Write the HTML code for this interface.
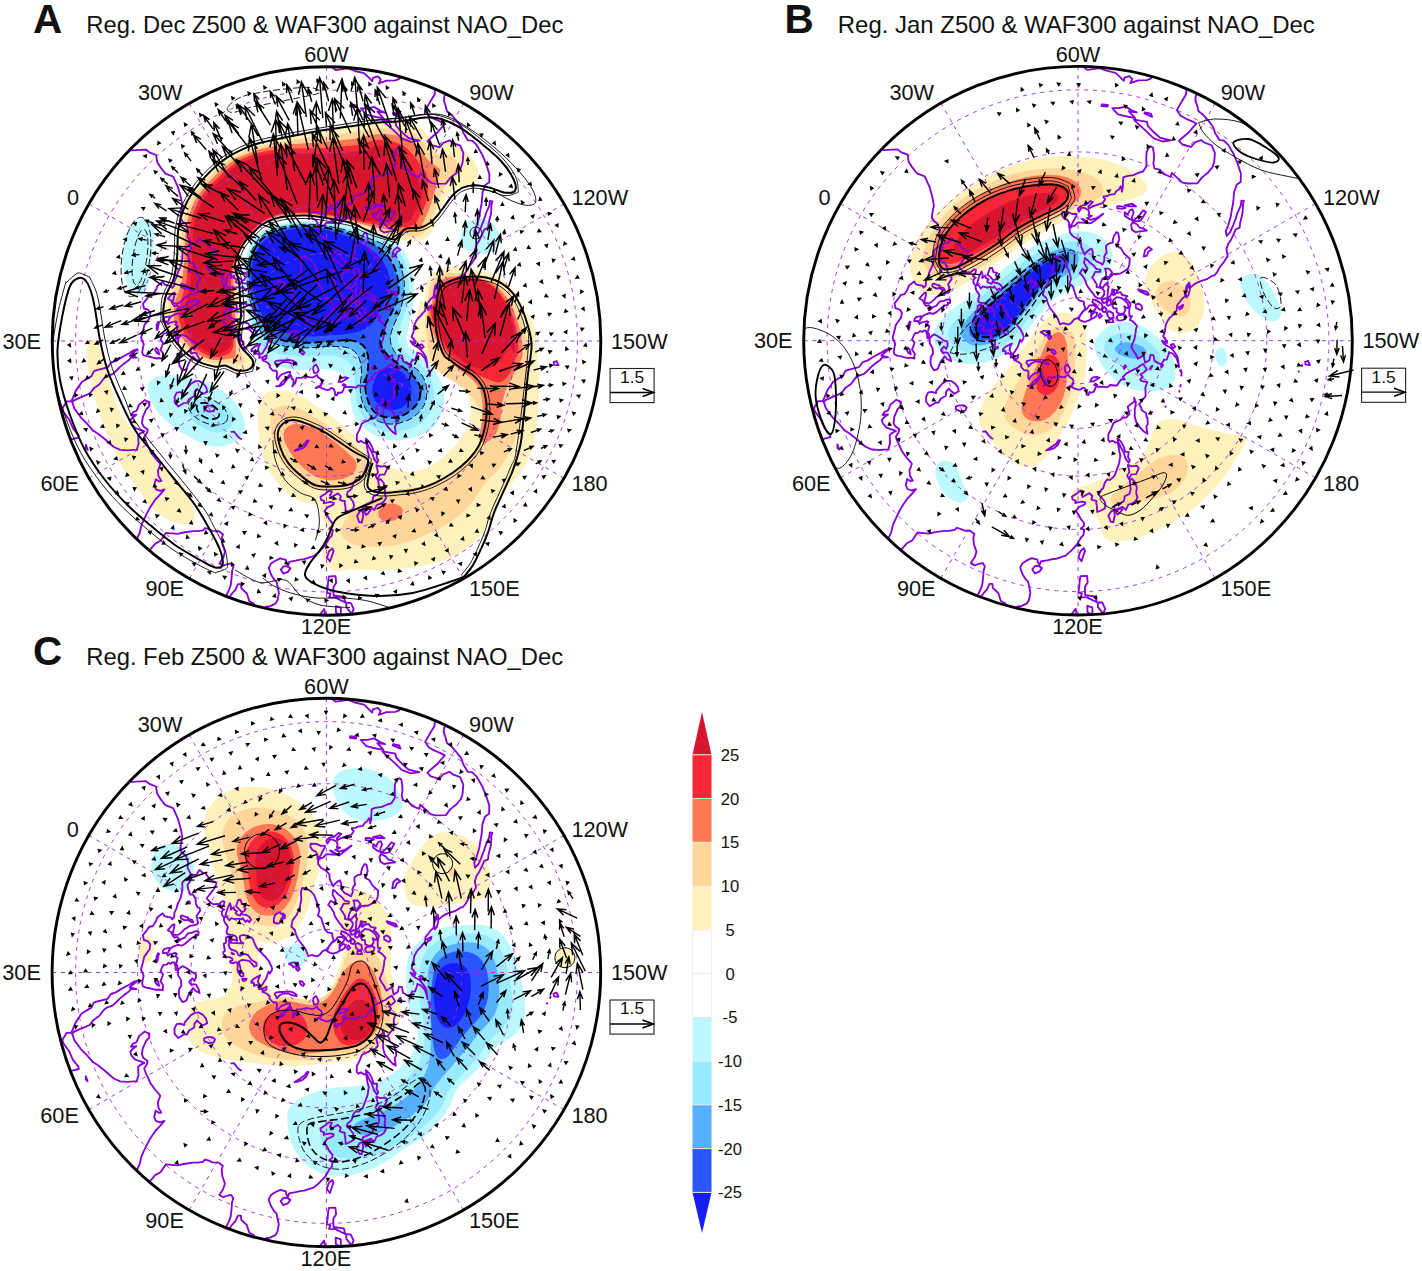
<!DOCTYPE html>
<html><head><meta charset="utf-8"><title>Reg. Z500 &amp; WAF300 against NAO_Dec</title>
<style>html,body{margin:0;padding:0;background:#fff}svg{display:block}text{font-family:'Liberation Sans', Arial, Helvetica, sans-serif}</style></head>
<body>
<svg width="1422" height="1271" viewBox="0 0 1422 1271">
<rect width="1422" height="1271" fill="#fff"/>
<text x="33" y="33.4" font-size="40.5" font-weight="bold" fill="#111">A</text><text x="86.3" y="33.4" font-size="23.2" fill="#111" textLength="477" lengthAdjust="spacingAndGlyphs">Reg. Dec Z500 &amp; WAF300 against NAO_Dec</text><text x="784.5" y="33.1" font-size="40.5" font-weight="bold" fill="#111">B</text><text x="837.8" y="33.1" font-size="23.2" fill="#111" textLength="477" lengthAdjust="spacingAndGlyphs">Reg. Jan Z500 &amp; WAF300 against NAO_Dec</text><text x="32.9" y="664.9" font-size="40.5" font-weight="bold" fill="#111">C</text><text x="86.2" y="664.9" font-size="23.2" fill="#111" textLength="477" lengthAdjust="spacingAndGlyphs">Reg. Feb Z500 &amp; WAF300 against NAO_Dec</text>
<g><clipPath id="clipA"><circle cx="326.5" cy="341" r="274.3"/></clipPath><g clip-path="url(#clipA)"><path d="M215.3 366.5L205.6 364.3L197.2 361L189.7 356L181.6 348.7L173.9 339.5L167.5 329.3L164.2 321L163.5 317.1L163.2 312.1L163.8 305.1L165.4 297.3L167.1 292.6L172.7 280.9L175.2 272.3L177.2 255.4L178.4 229.5L180.2 219.6L182.9 211.1L188.9 198.4L196.6 186.7L207.1 174.6L218.8 163.8L227.7 157.3L238.1 151.4L251 145.8L262.4 142.3L289.8 136.4L318.4 131.2L366.8 123.8L381.7 122.5L391.7 122.5L403.7 123.5L411.6 124.6L416.4 126L419.9 127.8L423.8 131L429.2 136.8L434.2 143.1L436.3 144.9L437.9 145.5L439.6 145.4L447.4 142L450.2 141.9L453.1 142.7L457.6 144.8L461.7 147.6L466.2 151.5L470.9 156.7L475.4 163.3L478.2 169.7L478.7 172.6L478.7 175.5L477 180L475.2 182.2L472.8 183.8L469 185.2L455.5 188.6L452.1 190.5L449.2 193.2L445.6 198L441.9 205L439.7 210.6L435.6 224L431.8 232.1L429.6 235.4L427.5 237.5L425.1 239.2L421.5 240.7L414.7 241.9L395.1 239.5L385.4 236.8L372.2 232.2L355.8 224.8L349.2 222.5L326.7 217.9L311.8 215.9L295.8 215.6L281 217.2L274.2 219L268.6 221.1L264.2 223.4L260.1 226.3L248.7 237.5L243.1 244.5L240.1 249.7L237.8 255.2L235.9 260.9L235.3 264.8L235.6 269.8L238.3 279.4L239.2 284.3L240.8 309.2L240.8 317.2L238.8 333.1L239.1 341L239.8 343.8L241.7 347.3L251.4 358.6L252.6 362.2L252.3 365L250.9 367.4L248.7 369.1L245.9 370L242 370.6L236.1 369.9L227.8 366.6L225 365.9Z" fill="#fff1bc"/><path d="M423.7 303L424.2 301.7L424.7 293L425.8 286.1L427.4 280.4L429.6 276L432.3 273.1L436.5 270.4L442.1 268.4L447.9 267.2L457.9 266.9L469.9 268L481.6 270.4L493.1 273.8L499.4 276.8L504.3 280.3L509.3 285.1L515 292.1L518.7 298L525.3 310.4L532.4 321.2L534.4 326.8L535.5 333.7L539.1 374.6L539.2 397.6L538.2 412.5L536.3 427.4L533.6 442.2L530.7 452.8L526.7 463L521.8 471.7L504.4 492.4L499.2 499.7L493.5 511.4L487.9 525.3L484.4 531.3L479.9 536.7L474.1 542.2L466.3 548.3L458.8 553.3L449.9 558L439.6 561.7L425 565.4L411.3 567.8L396.3 569.5L383.4 570.3L371.4 570.3L352.4 569.2L348.4 569.5L339.8 571.4L334 570.5L330.4 568.8L326.6 565.7L324.2 562.5L322.8 558.9L322.3 555L322.7 550L323.8 546.3L326.9 540.1L327.5 536.4L327 533.5L324.2 524.9L322 514.2L319.6 508.7L317.2 505.7L314.7 504.2L300.2 501.3L294 498.1L287.6 493.4L281.1 487.2L275.4 480.2L270 471.8L265.4 462.9L262.9 456.4L260.9 448.6L257.6 423.9L257.7 413.9L260.3 402.2L262.2 397.6L264.5 394.4L266.8 392.6L270.4 391.2L275.3 390.5L282.3 390.6L288.2 391.5L294 393.1L301.3 396.4L307.4 399.8L332.8 417.6L361.2 441.2L377.6 457.4L386.2 464.3L391.2 467.5L396.7 469.8L401.5 471.2L405.5 471.8L410.4 471.9L416.4 471.2L422.2 469.8L426.9 468.1L432.2 465.3L440.4 459.6L448 453.1L456.2 444.4L461.6 437.2L466.4 428.4L469.2 420.9L470.5 414.1L470.8 406.1L469.9 400.2L468.3 395.5L465.3 390.3L461.5 385.7L456 381.5L438.5 371.8L429.3 365.7L423.6 360.2L419.5 353.4L417 346.8L415.7 341L415.1 335L415.3 328.1L417.9 310.2L419.3 303.4L420.5 300.3L421.6 299.9Z" fill="#fff1bc"/><path d="M244.6 262.6L247.6 252L250.8 243.7L254.4 237.7L258.6 233.4L264.3 229.5L272.5 225.8L281.2 223.4L292 221.7L304 220.8L316 221.2L330.9 222.9L346.7 225.6L362.2 229.6L380.2 235.5L391.3 240.1L398 244.4L403.4 250.2L408.3 258.9L412 269.3L413.6 279.1L414 291.1L413.5 302.1L412 312L407 334.4L406.7 338.4L407.4 342.2L409.1 345.7L412.3 349.5L425.3 360.4L434.7 370.7L437.5 374.9L440.3 380.2L442.4 385.8L443.6 390.6L444.5 399.5L443.3 408.4L439.8 417.8L435.1 425.3L430.7 429.4L424.8 433.1L416.5 436.6L407.9 439.1L400 440.3L393 440.5L386.1 439.6L379.4 437.5L372.3 434L366.5 430.1L360.6 424.7L355.7 418.4L353.1 413L351.5 407.2L350.2 399.4L349.5 388.4L348.5 384.6L344.7 377.6L342.1 374.6L339.8 372.8L334.4 370.4L327.5 369.3L321.5 369.1L304.6 370.2L294.6 369.6L285.7 368.4L278.9 366.7L272.3 364.2L267 361.4L262.2 357.9L258.2 353.5L255.6 349.3L253.6 343.7L251.8 335.8L246.2 304.3L243.9 286.5L243.3 272.5Z" fill="#bcf9ff"/><path d="M460.4 236.5L461.4 231.6L462.9 227.9L465.1 224.6L467.2 222.6L470.6 220.5L474.3 219.1L478.2 218.4L482.2 218.5L486.1 219.5L488.7 220.8L491.9 223.2L494.6 226.1L497.3 230.3L498.8 234L499.5 237.9L499.4 240.9L498.7 243.8L497.5 246.4L495.6 248.7L492.5 251.2L489 253L486.2 253.9L479.2 254.1L474.3 253.1L470.5 251.8L464.6 248.2L462.7 245.9L461.3 243.3L460.5 240.5Z" fill="#bcf9ff"/><path d="M148 385.2L150.4 381L155.1 377.6L161.8 375.5L169.7 374.9L180.7 375.8L191.5 377.9L204 381.6L214.1 385.9L221.8 390.6L228.8 396.3L235 402.7L239.7 409.2L243.2 416.4L244.9 423.2L244.8 428.1L242.9 433.7L239.3 438.5L234.6 442.1L228.2 445L220.4 446.6L214.5 446.6L208.6 445.4L201 442.8L191 438.1L180.6 432.1L171.7 425.7L164.2 419.1L157.4 411.7L152.8 405.1L149.6 397.9L147.9 391.1Z" fill="#bcf9ff"/><path d="M122.7 255.3L123.8 246.4L125.7 237.6L128.2 231.1L131.3 225.9L135.4 221.7L140.7 218.9L145.4 218.1L148.2 218.7L149.8 219.7L151.7 221.8L152.9 224.4L153.7 228.3L154 234.3L153.7 243.3L151.5 260.1L150.5 275.1L149 283L146.7 289.6L144 293.6L140.9 295.8L137.2 296.2L133.9 294.6L130.7 290.8L127.9 285.6L125.5 279L123.6 271.2L122.7 263.3Z" fill="#bcf9ff"/><path d="M86.4 350.1L87 346.2L88 343.4L89.7 341.2L91.2 340.2L92.9 339.8L95.5 340.4L97 341.4L98.7 343.7L102.3 354L112.6 392.7L115.9 402.1L120.1 411.2L124.5 419L128.9 425.7L145.6 446.9L158.3 461L179.1 481.2L184.1 487.5L189 497.3L193.2 507.5L194.6 512.2L194.9 516.1L194.3 519L192.9 521.5L190.8 523.3L188.1 524.2L185.2 524.5L180.3 523.9L175.4 522.8L166.2 519L157.9 513.4L152.1 507.9L145.7 500.3L122.6 467.6L116.9 457.1L110 441.5L102.3 422L96.5 404.9L91.9 388.6L89 375.9L86.9 361.1Z" fill="#fff1bc"/><path d="M240.9 364.3L236.3 364.2L226.9 362.8L216.9 363.6L213.6 363.3L204.9 361L196.9 357.3L188.6 351L178.6 339.6L174.2 332.9L171.4 327.3L168.5 317.6L168.3 309.9L169.7 301.3L171 296.6L177.1 281.6L178.7 274.6L180.1 263.3L181.5 233.3L182.9 223.6L184.3 217.6L188.6 205.9L195.6 193.3L202.9 183.6L213.9 172.1L224.3 163.2L233.6 156.9L247.3 150.2L259.6 146L272.9 143.1L289.3 140.3L352.9 132.3L365.9 129.7L377.9 128.1L385.9 128.1L398.3 129.2L407.6 131L411.9 132.4L415.9 134.7L419.3 137.6L428.5 148.3L433.3 152.6L439.9 155.1L449.6 155.2L453.9 158.5L460 165.9L462 169.6L462.3 171.6L450.3 179.9L445.6 185.3L439 197.9L432.1 217.6L427.3 228.3L423.6 233.1L417.6 236.2L414.3 236.8L396.6 235.6L384.3 233L371.9 229.6L355.9 223.6L347.3 221.2L325.9 217.1L308.3 215.1L289.3 215.4L275.6 217.9L270.9 219.6L264.2 222.9L256.2 229.3L246.9 239.1L242.9 244.6L237.6 255.8L234.9 265.3L234.6 269.6L236.7 285.3L238.1 310.6L237.3 335.3L237.6 341.6L239.4 348.9L245 361.6L244.1 363.3L240.9 364.3Z" fill="#ffd699"/><path d="M427.5 305.3L429.3 289.5L430.3 285.6L432 282L435 278.1L438 275.6L441.5 273.8L446.4 272.8L458.4 272.9L470.3 273.9L480.1 276L489.6 279L496 281.9L500.9 285.3L505.1 289.6L510.4 296.8L517.4 309L523.1 322.8L527.2 338.3L529 352.2L528.8 360.2L526.6 375L523.8 401.9L520.9 417.6L516.3 437.1L513.9 443.7L510.8 450L504.7 460.3L499.7 467.8L495.8 472.3L485.2 483L475.2 497.9L466.5 508.9L460 515.1L452 521L440.9 527.8L427.4 534.4L412.6 540.4L401.1 543.9L388.3 546.2L376.3 547L364.3 546.5L354.5 544.5L349 542.2L344.9 539.4L342.4 536.5L341.2 532.9L341.7 528.1L344.7 520.7L347.9 515.6L352 511.3L357.7 507.2L368.9 500.7L377 496.7L384.4 493.7L392 491.2L398.8 489.5L421.6 486.4L427.5 485.2L436.9 481.8L448.4 475.9L455.2 471.6L461.5 466.7L467.4 461.3L471.4 456.8L474.3 452.8L477.2 447.5L482.3 434.5L483.8 426.7L483.2 418.7L480.2 410.3L475.3 401.6L470.3 395.3L464.5 389.8L455.8 383.1L444.8 376.1L440.2 372.4L434.4 365.5L430.7 358.5L428.8 352.8L427.6 346.9L425.5 326L425.3 315Z" fill="#ffd699"/><path d="M273.2 410.4L275.4 408.5L278 407.1L284.7 405.4L291.6 406L300.1 408.9L308.1 413.1L324.1 423.3L355.7 446.4L364.6 454.4L366.8 457.7L367.7 460.4L368 464.4L367.4 469.3L365.9 474L363.4 478.3L360.7 481.2L357.6 483.8L350.6 487.6L341.9 490L331 491L322 490.5L314.3 488.4L306.1 484.6L297.7 479.2L290.2 472.6L284.3 465.8L279.4 458.2L275.8 450L272.1 437.5L270.5 426.6L270.8 415.6L271.6 412.8Z" fill="#ffd699"/><path d="M246.6 262.6L249.6 252L252.6 244.6L256.3 238.8L260.6 234.6L267.3 230.3L274.6 227.1L283.3 224.8L294.2 223.2L305.2 222.5L317.2 223.1L331.1 224.8L344.9 227.6L358.3 231.4L380.1 239L388.2 242.7L393.9 246.8L399.9 253.4L402.7 257.6L404.9 262.1L407.6 271.7L409 283.6L408.9 292.6L407.6 302.5L405.7 310.3L401.2 322.5L399.3 329.2L398 336.1L398.1 341L399.7 345.7L402.5 349.7L423.8 367.9L428.1 373.4L431.6 380.6L433.1 385.3L434 390.2L434.3 396.2L433.9 401.2L433 406.1L431.6 409.9L429.8 413.4L426.8 417.4L421.9 422.3L417 425.7L411.5 428.3L404.8 430.3L397 431.7L390 432L383.1 431.1L377.4 429.1L371.3 425.7L366.8 421.8L363 417.2L359.6 411.1L357.4 405.5L356 399.7L354.7 378.7L353.6 370.8L352.2 367.1L350.7 364.6L348.8 362.3L345.8 359.7L339.5 356.8L331.6 355.6L321.6 355.4L301.6 356.5L284.7 354.9L277.8 353.5L271.2 351.3L266.7 349.2L262.6 346.3L258.7 341.8L255.9 335.5L248.7 305.3L246.5 291.5L245.4 280.5L245.4 270.5Z" fill="#99eaff"/><path d="M188.3 405.4L190 403.2L192.4 401.6L200 399.1L207.9 398.8L212.9 399.6L216.7 400.8L224.6 405.1L228.4 408.4L231 411.4L232.9 414.9L233.7 417.7L233.6 420.6L232.9 423.4L231.4 425.9L228.6 428.7L226.1 430.3L222.4 431.8L218.5 432.4L215.6 432.3L208.8 430.5L203.4 428L198.2 424.9L194.3 421.8L191.5 419L189.3 415.7L187.8 412L187.5 408.1Z" fill="#99eaff"/><path d="M218.3 360.3L211.3 359.6L202.3 356.5L195.6 352.3L188.9 346.3L182.4 338.3L177.8 330.6L174.6 321.9L173.5 313.6L173.8 308.6L175.4 300.3L180.2 287.3L182.4 277.9L184 263.9L185.5 231.3L186.7 223.6L188.9 215.1L194 202.6L198.7 194.6L208.6 182.1L219.9 171L231.6 161.6L239.9 156.8L253.6 151.2L265.6 147.8L290.6 144.3L323.3 142L352.9 138.9L360.3 137.9L370.3 134.9L378.9 133.9L385.6 134.1L393.9 135.1L401.6 136.9L408.9 139.8L414.3 144L428.9 160.7L439.9 168.9L440.3 169.9L440 171.9L433.1 197.3L428.8 210.6L421.1 226.6L418.9 228.9L414.9 231.1L401.9 231.7L386.3 229.6L372.3 226.9L352.6 221.3L338.3 218.2L321.6 215.3L307.6 214L293.6 214L280.3 215.7L274.9 217L268.3 219.7L263.6 222.1L258.9 225.6L248.8 235.6L242.4 243.9L237.2 254.6L233.9 265.3L233.1 273.3L235.2 315.6L235.9 347.3L235.6 356.6L233.9 357.9L218.3 360.3Z" fill="#ff7856"/><path d="M431 305L432 302.4L433.6 293.6L435 288.8L437.5 284.5L441.6 280.3L445.9 277.8L450.7 276.4L458.6 275.9L469.6 276.1L476.6 277.1L484.2 279.5L491.4 283L497.2 286.9L502.2 291.8L507.1 298.1L510.7 304.1L514.4 312.3L518.4 323.7L521.3 336.3L523 348.2L522.5 356.1L520.4 361.7L509.4 381.9L505.1 392.1L502.6 401.8L500.2 420.6L497.2 431.2L495.3 434.7L493.5 437L490.6 439.7L487.2 441.7L484.4 442.5L481.8 442.2L480.5 441.2L479.4 438.9L479.6 435.1L481.8 422.3L482.7 410.3L482.1 398.3L480.3 390.6L477.4 385.4L472.1 379.4L467.5 375.5L458.5 369.2L452 363L445 354.5L438.4 344.5L435.1 338.3L432.5 331.8L428.7 317.2L428.2 310.5L428.6 308.8Z" fill="#ff7856"/><path d="M284.5 430.4L286.2 428L289.3 425.7L292.9 424.2L296.9 423.9L301.8 424.4L307.6 425.9L313.3 428L318.7 430.7L326.3 435.5L336 442.6L345.2 450.3L353.2 457.9L355.6 461.1L356.5 463.8L356.6 466.6L355.5 470.3L352.4 474.1L348.3 476.8L342.7 479L336.8 480.1L330.8 480.4L324.9 479.6L319.1 478L312.7 475L306.9 471.1L300.3 465L295 459L289.8 451.7L285.9 444.6L283.9 439L283.5 434.1Z" fill="#ff7856"/><path d="M378.1 512.9L379.4 509.2L382 506.3L385.4 504.4L389.3 503.6L394.3 503.7L399 505.4L401.8 507.9L402.8 510.5L402.1 514.1L399 517.8L394.6 520.2L389.7 521.2L384.8 521L381.2 519.4L378.8 516.5Z" fill="#ff7856"/><path d="M248.4 262.6L251.2 253L254.2 245.7L257.5 240.7L262.5 235.8L269.3 231.6L276.6 228.5L285.4 226.3L296.3 224.7L307.3 224.3L318.3 224.9L330.1 226.6L342.9 229.4L354.3 233L377.7 241.8L384 244.9L389.6 249L395.6 255.7L399.9 263.6L403 275.2L404.3 286.1L403.6 296L401.3 306.8L399 313.4L393 327.2L391 333.9L390.4 338.8L390.8 342.7L392.8 348.4L396 353.3L400.4 357.4L417.3 369.8L421.3 374.3L424.1 379.5L425.8 384.3L426.5 388.2L426.4 397.1L425.6 401L424.2 404.7L419.7 411.3L414.6 416.1L408.7 419.8L402.2 422.3L395.4 423.7L389.4 423.9L383.5 422.9L377 420.4L372.1 417.1L368.7 413.4L365.9 409.3L363.3 403.9L361.4 398.2L360.6 393.3L360.3 387.3L361.4 370.3L360.7 364.4L359.5 359.6L357.9 355.9L355.6 352.7L353.4 350.8L349.9 348.8L345.2 347.3L338.3 346.6L327.3 346.6L307.3 347.7L288.3 346.7L281.4 345.5L274.7 343.5L270.1 341.4L266 338.6L262.1 334.2L259.4 328.9L252.9 309.9L250 299.3L248 288.5L247.1 278.5L247.2 269.5Z" fill="#56b0ff"/><path d="M219.3 357L213.6 357L206.7 354.9L200.9 351.9L194.2 346.6L187.4 338.6L182.1 329.6L179.5 321.9L178.7 315.3L179.9 304.6L185 287.6L186.6 278.9L188 263.9L188.8 236.3L190.6 222.9L194.4 210.3L198.5 201.3L203.1 193.9L211.1 184.3L222 173.6L235.6 162.6L241.6 159.2L249.6 155.8L255.9 153.6L267.6 150.7L283.6 148.8L323.6 148L352.9 145.6L361.9 144.4L371.6 140.7L378.3 139.8L385.9 140.2L394.4 141.9L401.6 144.7L407.3 148.5L414.3 156.2L426.3 172.6L428 180.3L428 191.6L425.9 202.9L423.3 209.6L416.5 222.3L415.3 223.9L412.9 225.6L408.9 226.8L402.9 227.2L382.6 225.6L368.6 223.5L338.3 217L322.3 214.3L307.6 212.9L293.6 212.9L279.9 214.6L274.6 216L267.3 219L262.9 221.4L258.3 224.9L248.2 234.9L242.1 242.9L238.8 248.9L233.4 263.3L231.5 271.9L231 281.6L231.1 303.3L233.7 330.9L233.9 338.6L233.3 346.2L231.9 349.9L229.5 353.6L224.3 355.8L219.3 357Z" fill="#f72735"/><path d="M433.5 305L434.6 302.4L436.8 292.7L439.7 287.6L442.6 284.9L445.9 282.6L450.3 280.4L455.1 278.9L460 278.1L468 277.6L473 277.8L477.9 278.7L483.6 280.7L489 283.3L493.1 286L496.8 289.4L500.7 294L505.1 300.6L509.1 307.6L512.1 313.9L515.7 325.3L518 340.2L518.5 350.2L517.8 354.7L514.8 359.8L510.5 371.9L508.4 375.3L505.1 379L501.9 381.4L499.3 382.3L496.4 382.3L492.7 381.1L479.7 375.9L467.1 369.7L460.5 365.2L454.6 359.8L448.7 353L443.4 345.7L439.4 338.8L436.1 331.5L432.6 321L430.7 312.3L431.1 308.8Z" fill="#f72735"/><path d="M250.1 262.6L252.7 254L255.9 246.7L259.3 241.8L264.4 237.1L271.2 232.9L278.6 229.9L287.4 227.7L297.3 226.4L307.3 226L318.2 226.7L329.1 228.4L340.8 231.2L353.1 235.4L368.6 242.3L376.6 246.5L383 251.2L386.6 254.7L389.7 258.6L394.4 267.4L397.5 277.9L398.4 283.9L398.6 289.9L397.8 296.8L395.9 303.5L384.3 326.8L381.7 333.3L380.5 338.1L380.6 343L381.5 345.8L383.3 349.3L388.2 355.6L392.7 359.6L410.2 372.9L415 378L418.3 382.9L420.2 388.5L420.3 394.5L418.5 401.1L415.2 406.1L410.9 410.2L406 413.6L400.5 416.1L394.7 417.5L388.8 417.6L382.9 416.4L377.4 414.1L373.6 411L370.7 406.9L368.6 402.4L366.8 396.7L365.7 390.8L365.5 382.9L367.4 372.1L368.1 365.1L368.1 359.1L367.4 354.2L366.1 350.4L364.1 347.1L362 345L358.7 342.8L353.1 340.9L347.2 340.2L311.2 342.7L292.2 342L286.3 341.1L280.6 339.4L275.3 336.7L270.4 333.2L265.5 328.2L261.2 321.5L256.2 310.6L252.6 300.2L250.4 290.5L249.2 280.5L249 270.5Z" fill="#2857ff"/><path d="M215.3 353.9L209.5 352.5L204.1 350L199.2 346.5L194.3 341.5L190.1 335.9L186.8 329.8L184.6 323.2L183.9 317.2L184.9 307.3L189.3 289.9L190.7 281L191.7 267L192.7 236L193.4 229L194.7 222.1L197.7 211.6L201.7 202.4L206.6 194.8L213.7 186.4L231.1 169.8L238.2 164.4L244.4 161.2L252.8 158L260.5 155.6L268.3 153.9L284.3 152.7L294.3 152.7L319.3 153.9L348.2 152.6L364.1 150.8L367.9 149.5L373.9 146.3L378.7 145.7L385.7 146.4L392.4 148.2L397.7 151L402.3 154.8L408.8 162.4L415.1 172.6L419.8 182.5L421.7 190.2L421.7 197.2L420 203.9L413.7 214L411.3 219.3L408.8 221.6L406.1 222.3L402.1 222.5L374.1 221.7L355.2 219.3L332.6 215L318.7 212.9L305.8 211.9L291.8 212.2L278.9 214L273.1 215.7L267.6 218L263.2 220.4L259.2 223.4L249.9 232.4L243.6 240.1L238.6 248.8L230.9 268.4L228.9 276.1L228.2 286.1L228 305.1L228.8 314L231.9 331.8L232.1 338.8L231.4 343.7L229.9 347.2L226.4 350.6L220.1 353.5Z" fill="#d8152f"/><path d="M436.3 305.3L440.3 294L442.6 289.6L446.9 285.5L452.1 282.7L462.8 280L472.8 279.5L481.6 281.1L489.8 284.7L495.3 289L499.7 294.5L505.8 304.9L510.1 315L512.9 324.6L514.5 334.5L514.9 346.5L514.1 353.2L513.3 353L511 347.6L510 346.8L509 347L507.4 348.7L502.7 357.5L498.3 362.9L493.8 366.8L488.3 368.8L483.3 369.1L477.4 368.1L471.8 366L465.6 362.7L458.3 357.5L450.9 350.7L445.3 343.7L440.7 335.9L435.7 325L433.1 316.4L433.4 311.6Z" fill="#d8152f"/><path d="M252.7 262.6L256.1 252.2L260.1 245.3L262.7 242.3L266.5 239L275.1 233.9L285.5 230.5L298.3 228.6L311.3 228.4L324.3 229.8L337.9 233.1L351 238.1L365.2 245.4L374.9 252.4L379.2 256.7L382.3 260.6L385 264.8L387.6 270.2L390 278.8L390.2 282.8L389.7 287.7L388.2 293.5L386.1 299.1L376.2 317.7L373.4 321.8L370.7 324.7L364.2 329.4L355.8 332.4L343 334.5L314 336.4L304 336.2L296.1 335.3L285.5 332.4L273.7 326.8L267.5 321.9L262.1 314.7L258.8 308.5L256.5 303L253.1 290.5L252 282.5L251.5 274.5L251.7 268.5Z" fill="#181cf7"/><path d="M375.3 377.8L377.2 374.3L379.7 371.3L382.1 369.6L385.8 368.3L389.7 368L393.6 368.6L398.3 370.3L402.6 372.9L405.5 375.5L408 378.6L409.9 382.2L411.3 386.9L411.8 390.9L411.4 394.8L410.2 398.6L408.2 402L405.5 404.9L402.3 407.2L398.7 408.8L394.8 409.9L391.9 410.1L387.9 409.7L384.1 408.5L380.7 406.6L377.8 403.9L375.5 400.7L373.6 397.1L372.5 393.3L372.3 389.4L372.8 385.4Z" fill="#181cf7"/><g fill="none" stroke="#a030e6" stroke-width="0.95" stroke-dasharray="4 4.8"><circle cx="326.5" cy="341" r="250.9"/><circle cx="326.5" cy="341" r="188.8"/><circle cx="326.5" cy="341" r="135.4"/><circle cx="326.5" cy="341" r="87.6"/><circle cx="326.5" cy="341" r="43.1"/><path d="M88.9 203.9L250.6 297.2"/><path d="M52.2 341L238.9 341"/><path d="M88.9 478.2L250.6 384.8"/><path d="M189.4 578.6L282.7 416.9"/><path d="M326.5 615.3L326.5 428.6"/><path d="M463.6 578.6L370.3 416.9"/><path d="M564.1 478.2L402.4 384.8"/><path d="M600.8 341L414.1 341"/><path d="M564.1 203.9L402.4 297.2"/><path d="M463.6 103.4L370.3 265.1"/><path d="M326.5 66.7L326.5 253.4"/><path d="M189.3 103.4L282.7 265.1"/><path d="M250.6 297.2L326.5 341"/><path d="M282.7 416.9L326.5 341"/><path d="M402.4 384.8L326.5 341"/><path d="M370.3 265.1L326.5 341"/></g><path d="M125.7 150.4L133.2 150.4L136.2 150.1L146.2 149.7L149.4 152.4L156.1 155L157.2 162L160.8 167.7L165.4 173.6L173.2 176.6L178.1 187.4L181 198.1L182.4 205.7L180.8 213.9L180.4 218.4L182.4 221.4L185.8 223.8L188.3 230.7L187.6 236.4L190.8 242.4L190.2 244.5L184.6 248.9L182.4 251L182.5 255.8L182 260.9L180.6 266.7L178.1 271.8L176.4 277.3L174.4 281.4L174.4 285.3L172.3 287.9L170.8 285.9L167.9 285.5L164.7 284.7L162.7 281.7L159.9 284L157.3 286L156.2 289.6L152.9 294.5L149.1 295.5L147.3 298.3L143 303.7L144 308.5L148.3 309.9L150.4 313.1L149.7 317.7L146.6 322.1L144.4 325.1L142.9 331.4L141.1 337.8L142.2 340.7L143.8 344.2L142.8 348.4L142.2 352.3L143.1 354.8L146.2 356.1L148.9 356.5L153.1 357.7L156.8 358.5L158.9 358L163 358.8L162.8 356.8L163.3 354.1L160.5 349.7L161.8 346.8L163.1 343L160.6 339.6L162.5 335.3L163.6 333.3L166.5 333.2L168.7 331.3L170.8 332.3L172.6 330.8L174.4 330.9L175.5 334.4L175.8 338.4L177.5 338.9M178.2 338.7L178.2 343.6L181.1 348.6L181.5 354.2L179.4 357.2L178.9 361.7L179.6 366.1L182.5 370.6L185.5 369.7L186.9 368.1L188 364.7L190.4 360.1L192.2 358.2L192.9 356.5L195.7 359.4L199.7 361.5L198.8 358L196.3 353.1L193.6 352.6L191.7 353.7L189.4 350.6L190 349.4L192.5 346.8L194.6 349.3L196.1 345.6L196 342.6L191.7 340.3L188.4 337.9L185.1 335.8L182.8 334.7L180.7 335.9ZM177.7 338.4L177.6 334.5L176 332.3L176.8 330.5L177.8 326.4L175.3 324.6L176.9 322.4L175.3 321.4L172.7 322.1L170.2 322.6L167.9 324.3L167.6 323.5L166.4 321.3L162.8 321.5L163.1 319.2L164.5 317.4L167.8 316.7L170 316.5L168.3 321L170.2 317.6L172.2 315.7L175.3 314.3L178.3 313.3L181.7 314.2L185.2 312.2L188.6 309.2L192.1 306.2L196.6 305L196.2 302.9L198.4 303.5L198.7 300.2L196.1 299.6L192.1 301.2L188.1 301.8L184.8 306.2L181.7 307.3L177.4 310.7L177 309.2L179.5 307.6L177.2 305.4L174.5 306.2L172.8 304.1L171.6 301.5L175.1 303.5L178.8 303.1L182.4 300.2L184.6 297.6L187.2 296.3L190.1 294.3L194.2 293.6L196.6 293.2L198.3 291.5L197.5 288.9L197.5 287L196.6 284.8L198.1 282.2L200.2 279.4L199.8 276.4L197.8 276L195.9 272.1L195.8 268L193.3 263.2L190.2 263L189.2 259.8L188.4 258.4L187.6 253.6L191.1 248.3L191 244.7L193.7 243.4L196.9 243.3L198 240.6L199.8 238.4L203 241.7L205.2 241.3L208.4 245.7L210.7 248.3L214 250.2L216.5 250.9L216.1 253.5L214.6 256.7L212.7 259.2L209.8 262.8L206.8 266.8L209.6 269.9L212.2 272.1L214.1 272.9L216.7 272.4L218.3 272.9L220.1 271.9L222.4 269.7L224.5 270.1L224 273.2L221.9 275.6L221.4 276.6L224.3 278.1L222.9 278.5L221.9 280.9L222 283.3L224.2 286.1L224 288.5L225.3 291.6L227.3 294.1L227.9 295.8L227 298.7L226.7 300.9L227.4 302.6L230.5 303.4L232.2 303.3L235.2 304.3L236.6 305.8L237.2 309.5L233.8 308L232.9 308.6L230.6 305.9L229.6 305L227.7 305.4L226.1 306.2L226.1 308.4L226.1 311.3L223.9 312.2L224.3 315.5L225 319.4L223.5 320.4L223.4 322.6L226.8 325.4L229.3 325.6L232.5 327.1L232.6 328.8L230.3 329.7L230.4 331.2L233.2 331.9L235.2 330.6L237 330.8L237.7 332.9L237.8 335.6L237.4 337.9L238.6 341.3L239.8 339.5L241 339.1L240.5 336.5L239.8 333.4L238.9 330.2L240.9 329L242.9 328.4L245.9 328.9L249.2 329.4L251.6 331.8L254.2 335.2L256.7 334.3L256.5 331.4L254 329.9L251.5 328.2L249.3 325.3L248.1 323.5L243.1 322.1L240.5 324L238.7 323.8L236.9 320.3L234.7 319.1L231.4 318L229.8 316.7L228.8 313.5L229.4 311.3L231.7 311.3L236.5 311.6L240.7 311.8L243.5 311.9L241.1 310.4L240.4 308L239.8 306L240.2 304.4L243.6 303.4L248.1 304.6L252.1 306.3L253.4 308.5L255.1 312.9L256.8 316.3L259 319.1L261.5 321.1L263.3 323.3L265.5 325.2L266.4 326.6L269.1 329.6L270.1 332.1L271.5 334.7L272.2 337L271.8 339.1L270 342L268.6 340L268 342L267.2 344.1L266.2 347.3L264.2 350.3L262.1 353.7L260 353.9L258 350.6L258.7 346.9L260.3 343.9L257.7 345.2L254 347.1L251.5 349.5L251.4 351.5L252.8 350.7L254.2 351.8L254 354.4L256.6 353.3L259.7 355.2L259.1 357.8L262 357.3L265.6 355.9L266.7 355.1L266.3 358.3L265 359.2L262.4 358.8L262.6 360.5L265.4 361.5L267.3 362.5L269.9 365L269.5 367L271.4 369.1L273 370.7L276.1 370.7L276.9 372L277 374.4L276.6 377.9L277.7 379.8L279.3 376.6L282.2 374.1L285.2 373.2L288.3 371.9L290.2 372L290 374.4L286.3 378.2L281.8 381.9L279.3 385.8L276.2 386.3L279.7 386.2L283.6 383.9L287.1 379L291.2 375.7L291.9 378.8L293.1 379.4L293.6 381L293.2 384.4L292.3 386.3L295.3 383.1L296.7 377.8L301.6 377.9L303.1 377.1L307.5 376.7L310.3 377.4L313.3 377.4L317 374.9L318.1 377.3L321.1 379.3L322 380.9L321.1 385.2L318.5 386.3L315.6 388L318.4 387.1L320.8 387.2L321.5 388.2L326.5 389.9L329.1 389.8L331.4 387.9L333.6 388.8L335 392.1L335.1 395L337.1 395.3L337.9 392.4L339.5 393L342.2 392.2L343.6 389.3L344.2 387.2L346.1 387.1L348.9 387L353.1 387.1L355.7 387.7L358.7 385.3L362.8 385.8L365.5 385.8L367.2 383.1L369.6 379.8L373.3 379.6L371.3 377.3L375 373.7L379.2 371.5L382.6 369.6L385.5 368.5L388.7 366.1L391.7 364.3L394.5 368.5L395.2 370.1L392.5 372.5L388.9 374.9L391.2 376.9L388.7 379.9L389.4 381.1L395.8 382.3L393.8 388.1L394 391.9L394.1 396.7L389.5 401.9L387.8 404.5L389.7 408.1L390.3 410.6L394.5 413.4L395.2 417.9L395.9 418.1L396.4 424.3L394.8 426.5L395.9 434.1L392.7 432.1L388.3 427.4L384.7 422.3L383.2 416.8L383.3 413.7L383.2 409.8L384.2 405.3L384.3 401.9L382.6 398.1L383.1 401.7L379.5 404.2L376.3 407.1L378 414.5L374.6 417.9L372.1 417.6L368.6 420.3L365 421.7L361.9 423.5L359.6 429.4L356.9 434.6L356.8 440.2L358.4 442.3L360.9 440.9L364.2 443L366 442.3L366.9 446.1L367.6 451L368.9 455.7L367.6 463.8L365 470.9L362.8 476.4L358.6 480.2L355.7 479.8L353.3 483.1L351.7 488.6L347.7 492L346.8 494.9L349.5 497L353.1 501.8L354 505.3L353.4 508.7L349.5 510.8L345.7 512.3L345.4 506.5L344.7 503L345 501.2L341.3 500.5L339.8 499.6L340.9 496.3L338 493.4L331.1 497.3L330 495.2L332 491.6L329.1 490.7L325.4 493.8L320.5 496.9L321 499.7L324.3 501.2L323.7 503.3L326.5 502.6L330.4 501.9L333.8 502.8L333.4 504.6L327.4 507.3L324.4 511.2L327.4 515.6L329.3 519.3L332.5 523.3L332.6 526.3L329.4 528.6L332.8 530.1L331.9 535.5L329.6 537.8L325.1 545.3L319.5 551.2L314.1 555.9L304.3 559.2L301.6 559.3L295.6 560.7L289.2 561.8L288.1 565.4L286.2 562.5L285.9 559.9L280.3 558.4L274.9 561L271 563.6L268.7 567.9L270.9 574.2L274.1 579.5L276.6 581.9L278.2 589.5L278.9 592.9L277.5 600.3L275.4 603.7L270.2 606.1L265.6 607L262.8 610.4L252.8 612.4L255.2 607L253.7 603.5L249.4 601.3L248.1 597.4L246.9 593.5L241.4 588.3L240.9 584.1L238 584.1L235.5 589.7L232.1 593.5L229.1 597.5L228.1 601.3L230 606.2M222.5 602.3L225.9 596.3L229 589.8L230.7 585.4L231.6 578.2L232.1 571.1L233.4 566.8L231.2 563.4L228.1 564L223.2 565.7L219.4 563.4L223.3 557.4L225 552L222.4 544.5L221.8 538L222.9 534.3L218.9 531.2L212.5 530.8L209 529.1L205 528.1L203.1 530.3L197.3 531.1L192.9 531.1L183.7 532.5L177.4 533.9L171.8 533.4L166.1 532.8L160.6 540.8L155.3 543.6L150.3 549.5L144.2 550.7L134.8 550.2L134.3 543.6L136.6 539L139.6 533.2L141.6 524.6L147 513.1L150.4 506.9L155.4 499.5L159.8 494.8L162.6 491.7L164.5 489.5L160.1 490.8L155.9 489.3L154.3 485.5L155.7 479.3L159.1 481.4L161.4 481L158.5 476.1L158 470.3L159.5 466.9L160.3 464L155.5 458.5L150.8 452.1L148.2 446.4L145.7 441.2L144.3 437L147.3 432.3L147.6 429.4L143.5 426.4L142 423.1L142.8 417.1L146.1 409.5L149.3 406.2L149.4 402L147.2 401.3L144.8 400L141.9 402.4L139 404.8L137.5 408.7L136.2 411L133.2 412.1L131 415.3L136.4 414.7L132.4 417.8L130.4 420.2L131.4 423.8L135 427.9L139.2 429.5L142.8 430.6L144.5 431.3L139.9 433.6L138.2 435.7L138.6 443.4L136.9 449.6L127.7 450.3L120.2 449.8L113.9 447L109.7 443.5L105.6 439.8L98.4 434.1L93.1 430.6L87.2 423.8L81.5 418.2L74.4 408.6L72.2 402L74.6 400.1L81 397.2L86.1 395.2L89.8 393.5L93.7 388.4L99.5 384.3L104 378.2L106.7 376.2L112.6 374.1L116.6 370.5L119.8 367.1L123.5 364.1L129 360L131.1 357.4L136.5 357.6L129.8 355.8L137.5 349.3L134.1 350.1L129.6 353L127.3 354.2L122 357.1L115.9 360.9L111.1 362.5L107.5 367.5L97.6 369.9L93.9 371.2L91.5 376.1L81.7 382L79.5 385.4L75.9 390.6L72.8 398.2L71.1 401.4L66.7 401.4L62.5 408.3L63.3 411.5L69.2 419.7L73 428.3L78.5 435.2L78.9 437.5L72.3 439.1L67.7 439.3M203.1 383.5L206.2 387.2L207.3 391.6L202.9 394L198.7 390.6L197.3 388.8L194.6 392.2L194.3 396L189.2 399L187.1 402.8L183.5 403.2L178.4 406.6L174.7 402.3L174.6 397.2L176.7 392.6L180.3 392.2L184.5 393.5L184.7 391.2L187.8 387.4L190.9 383.8L195.4 381.1L199.2 381.1ZM207.5 405.6L212.4 405.6L215.2 407.9L213.7 411L209 411.6L204.3 409.6L204.3 406.8ZM230.7 431.9L234.2 431.7L236.9 435.4L240.1 438.7L241.9 439M294.6 450.7L298.3 450L302.7 448.4L306.2 445.3L308.6 440.6L307.2 440.4L304.6 444L300 447.2L296.4 449.5ZM230.1 271.7L228.1 275.8L226.4 280.9L225.2 285.5L226.8 285.3L229.3 288.7L231.6 286.6L234.6 287.7L238.6 287.1L241.5 287.9L242.7 286.6L245.7 290.5L247.5 288.7L249.5 290.8L251.2 288.3L249.2 285.2L246 283.3L243.1 283.1L241.5 281.5L240.2 284.1L236.9 282.8L235.6 281.8L237.1 279.6L234.2 278.2L234 275.7L230.7 278.3L231.1 275.4ZM236.2 274.9L239 277.4L241.6 280.3L244.1 280L245.8 277.3L244.2 275.3L245.6 273.1L242 272.5L240.6 268.2L238.4 268.4L237.3 271.3ZM280.4 280.5L277 282L275 283.8L273.8 288.3L274 291L277.2 292L279.7 291.7L280.6 289.2L281.7 286.7L284.9 286.8L285 283.4L282.6 284.8L283.7 282.1L280.6 282.2ZM298.1 331.2L292.1 331.1L289.1 332.4L292.8 334.4L293.4 336L296.5 334.9L298.7 334.1ZM299 335.7L296.1 337.3L297.9 339.5L299.8 337.7ZM275.6 361.1L274.8 363L276.3 364.9L276.9 366.8L279.9 363.7L283.9 361.8L288.3 362.2L292.7 363.8L296.7 364.7L296.4 362.9L292.5 360.6L288.5 359.9L283.9 360.4L279.5 360.5ZM299.8 349.7L300.4 352.6L303 354.6L304.5 352.7L302 349.9ZM313.2 369.5L314.2 373.1L317.4 372.7L318.7 370L317.2 366.5L316 364.5L313.5 366.5ZM338.8 381.3L341.4 382L344.7 380L347.9 378L345 377.3L340.7 377.9ZM342.6 385.3L345.8 385.3L343.8 383.9ZM372.7 369.3L374.8 366.7L373.7 365.6L372.1 367.9ZM365.9 438.6L369.3 441.7L372.3 447.4L373.6 452L377.2 452.3L376.6 457.9L378.4 460.3L377.1 463.1L374.1 458.9L372.1 452.7L368.9 447L366.6 441.8ZM376.4 465.1L380.4 466.7L385.3 466L387.3 468.4L384.6 474.5L379.9 474.6L377.4 479.2L375.6 475.9L378 472.4ZM380.3 478.9L383.4 482.5L385.3 487.3L384.7 493.3L386 497.8L384.2 501.2L381.4 503.3L376.7 505.2L374.3 510.1L371 507.2L365.4 509.3L359.7 511.7L357 515.9L359.1 522L361.8 522.6L363.3 515.8L362.7 511.4L363 505.8L368.6 503.7L372.4 501.2L373.4 496.4L377.8 494.3L379.2 489.7L378.7 484.3L378.2 480.8ZM364.4 511.8L368.3 508.6L370.8 509.9L367.9 513.6L366 514.9ZM332.3 548.4L333.5 551.2L330 561.5L326.9 557.4L329.1 551.3ZM286.8 566.1L290.5 568.4L287.9 571.9L283.4 573.7L280.8 569.7L283.5 566.3ZM329 576.4L335.5 576.2L336.2 582.8L333.4 587.3L333.6 595.5L343.9 596.8L345.2 602.3L341.5 600.7L335.5 597.7L329.2 597.4L330.5 593.7L326.9 592.8L327.8 586.5L328.2 580.8ZM346.2 602.7L350.8 602.8L353.7 609.2L351.4 614.3L349.1 610.6L346.5 607.4ZM335.8 606.1L340.9 607.8L340.9 615L336 612.8ZM324.2 609.1L325.1 613L319.2 619.2L316.8 618.6ZM148.8 551.3L149.7 554L149.9 560.6M174.5 292.8L174.3 295.6L173 301.6L167.9 298.8L169.5 296.9L172.9 293.2ZM188.1 285.7L187.8 288.3L185 288.9L181 286.9L180.8 284.5L182.5 284L185.7 285.3ZM192.2 288.4L193.4 291L190.5 290.1L188.5 288.6L189.6 287.6ZM159.1 322.2L158.5 324.8L157.4 330.1L156.7 329.1L156.6 325.2L158.1 321.8ZM156.4 347.8L158 349.8L159.3 354.4L156.7 352.9L155.1 350ZM189.7 269.8L190.1 272.1L188.4 271.5L188.8 269.9ZM434.7 86.2L434.8 94.2L431.1 100.3L425.3 110.4L429.1 116L434.7 119.1L440.7 121.6L444.9 123.9L441.2 128L437.2 132.8L433.2 136L427.5 141.1L430.8 144.8L439.7 147.3L443.1 143L449.5 140.3L452.8 142.8L460.2 145.7L463.4 153.2L462.7 162.2L460.9 167.7L456.4 173L450.3 177.9L446 183.6L435.8 183.8L431.1 182.9L426.1 178.4L420.3 173.2L419.1 177.3L414.6 175.3L412.1 174.4L408.1 169.9L403.1 168.9L401.8 163.7L402.6 159L402.3 153.4L401.4 147.9L399.2 146.6L397 148.4L395 152.7L394.8 158.4L395 166.3L391.5 171.8L387.3 173L381.9 175.4L375.3 176.4L371.8 177.7L371.4 183.5L371.3 187.9L370.3 192L370 188.3L369.3 186.6L367.3 189.7L364.9 191.3L363.1 194.4L357.5 195.2L355.9 196.3L352 196.6L352.2 198L353.8 199.4L351.3 203.4L346.9 204.7L343.1 205.9L340.6 207L337.6 208.7L336.8 207L341.3 202.3L338.7 201.4L335.1 204.5L328.8 206.6L326.5 208.9L327.4 212.2L330 207.9L333.4 208.4L336.8 210.3L337.7 213L337 215.6L340.3 216.2L335.5 218.4L339.2 220.1L344.8 218.5L351.6 214L347.6 217.6L343.8 220.6L339.7 223.4L332.7 223.1L326.5 222.6L323.5 225.9L320.1 227L318.1 229L318.4 232.8L321.4 236.5L325.6 238.8L329.4 242.6L329.8 247.3L331.9 252L333.3 254.9L335 252.3L338.5 249.6L340.1 248.9L341.5 253.1L341 257.1L343.1 259.6L344.8 261.6L348.3 263.1L351.1 264.9L352.9 260.7L352.6 257.3L353.8 254.5L355.2 253.3L354.5 248.3L354.7 245.7L357.7 243.7L361.2 242.9L361.3 239.9L362.5 236L364.9 232.5L366.7 233.4L367.4 237.1L367.8 239.7L365.4 246.2L369.5 248.7L372.7 254.1L378.3 259.1L377.8 265.5L376.4 269L373.6 271.1L368.5 274L366.1 274.3L361.9 274.3L359 277.2L356.5 280L355.5 278.8L353.3 277.8L350.9 279.1L349.1 283.2L348.4 286.7L351.1 288.2L352.8 285.8L356.3 282.5L355.9 285.7L357.4 287.1L356.5 290.1L356.3 293.3L355.8 298.3L358.7 296.7L360.4 292.6L360.8 289.6L363.5 290.1L366 290.4L365 293.4L368.8 292.4L370.7 295.3L375.9 296.5L373.7 299.3L375.4 300L377.7 302.4L379.1 304.3L377.9 308.9L377.7 312.6L378 316.4L380.6 316.4L378.3 320.1L380.7 321.3L383.3 323.6L385.6 326.3L384.3 329.8L384.3 331.8L383 339.5L379.7 347.1L381.3 350.2L384.1 354.3L386.5 359.1L389.5 357.3L392.4 355L392.5 357.5L393.7 363L397.8 360.6L399.1 355.1L402.1 355.7L403 361.2L406.5 363.2L409.6 364.8L412.6 360.1L415.2 359.9L417.1 354.5L417.4 352.5L421 353.8L425 358.4L427 364.2L427.4 367.7L427 362.4L425.9 356.7L422.7 352L419.4 348.3L416.1 346.5L412.5 344L410.5 341L415.3 343.3L415.7 341L414.1 340.1L411.6 336.5L412.6 334.2L413.6 331.8L414.2 325.1L416.2 321.1L418.1 318.2L420.2 316.4L422.6 313.4L425.1 310.9L425.6 305.5L428.6 301.8L430.9 298.8L433.5 296.7L434.4 290.7L435 286.2L437.8 283L438.8 287.9L442.7 284.6L444.6 283.4L449.8 281.1L455.4 279.5L460.7 276.1L462.8 275.7L465.5 272.6L468.6 267L471.6 263.5L476.2 256.3L474.9 249.7L476.7 244.2L479.4 240.2L481.7 235.5L484.2 229.7L488.1 227.9L488.6 223.2L491.1 213.3L491.5 204.1L492.4 201.3L489.9 200.9L489.3 205.9L486 213.2L484.1 219.2L481.3 226.4L478.7 232.5L475.2 236.1L474.3 231.6L476.6 225.8L479.3 216.8L480.4 209.6L481.6 203.8L482.6 192.3L485.3 184.9L489.2 182.3L489.4 174.1L486.4 164.7L482.3 154.7L476.8 145.2L472.1 140.6L468 140.4L463.7 133.6L461.4 126.8L456.4 120.5L451.7 115.1L447 111.5L445.9 106.7L443.8 100.4L444.4 95.9L446.3 93.1M408.9 71.6L403.1 74L399.2 78.9L395.4 80.4L386.6 80.7L378.9 83.4L380.7 79.4L377.9 76.4L372.9 77.9L372.3 81.2L368.3 77.1L364.1 73.1L354.9 71L348 68.4L336 70.2L331.3 66.7L329 59.2M419.5 140.6L411.1 141.8L402.2 138.7L393.1 129.9L385 122.7L382.5 119.9L395.5 122.2L396.3 126.1L402.4 132.6L408.5 138L414.1 139.5ZM383.7 118.4L376.1 117L366.4 114.7L360.8 108.5L367.5 108.3L374.1 106.9L379.7 110.4L385.2 112.6L377.4 111.6ZM400.6 117.1L392.9 113.8L393.3 112.6L399.4 114ZM356.1 107L349.9 106.3L350.5 104.6L356.3 105.3ZM325 214.2L321 214.3L316.4 212.3L310.7 212.2L310.4 215.2L312.5 218.6L315.9 220.2L317.6 223L317.5 227.2L320.4 224.4L323.3 218.8L325 216.1ZM335.9 222L331.8 219.5L330.1 219.1L332.8 221.2ZM302.3 256.5L301.1 260.3L301.4 268.2L300 275.4L297 283L292.7 288.9L291.4 295.3L294.8 298.2L296.1 302.8L298.5 308.3L303 314L306.2 318.8L308.4 324.7L311.8 323.5L317.2 324.9L320 323L322.7 319.6L326.5 318.1L328.3 315.9L330.5 312.7L333.9 308.9L332.7 305.7L332.3 301.9L327.9 300.9L325 298L323.1 292.2L321.3 286.5L318 284L319.5 279.3L318.2 273.5L316.4 269.2L314.2 263.5L310.7 259.5L307.3 257.7ZM333.4 258.2L335.7 260L338.2 262.8L341.9 265.5L345 269.4L348.9 269.9L348.9 272.1L343.7 272.1L342.2 275.4L340.6 277.5L342.7 280.5L345.3 284.9L345 287.3L350.4 288.5L352.9 291.4L352.7 294.6L349.9 298.8L346.3 298.6L343.5 296.7L341.8 294L339.7 291.8L337.2 288.2L334.9 284.6L333.9 280.8L331 276.1L328.3 273.6L330.9 269.2L333.8 271.3L336 269.1L332.6 263.3ZM355 277L354.2 270.8L353.5 268.9L357.8 269L360.6 272.6L357.6 277.2ZM377.3 308L376.1 303.6L372.2 299.9L369.4 298.1L365.1 297.4L361.4 300.8L360.8 306.1L362.4 308.7L365.1 308.6L365.3 312.8L369.2 314.3L372.1 313.6L373.9 310.8L372.8 306.7L375.8 308.4ZM373.6 319.5L374.7 316.4L372.9 314.8L366.5 315.5L365.1 317.8L366.8 320.9L370 320.7ZM359.2 304.7L359.3 299L355.9 302L355.1 305L356.8 306.1ZM356.6 298.8L353.5 298.6L350.3 300.6L351.9 303.4L354.4 302.6ZM363.7 295L362.5 291.5L360.8 292.9L361.6 295.3ZM362.1 317.9L361.6 313.6L357.7 311.4L355.4 313.1L356.1 316.1L358.2 318.8ZM355.3 310.2L353.3 307.3L350.9 309.1L351 311.8L353.5 312.5ZM351.2 307.6L349.8 303.8L345.3 300.7L341.5 299.7L340.9 302.6L344.7 305.2L346.7 308.7L348.9 310.2ZM345.3 307.1L341.6 305.4L338 305.6L335.3 309.3L332.3 310.9L328.7 315.4L327.2 319.6L330 321.3L333.3 322.2L337.2 320.8L340.1 319.2L339.5 315.5L339.8 312.5L342.6 310.7ZM345.9 313.3L343 312.5L340.1 314.9L339.5 319.4L342.4 318.3L344.4 316.8ZM362.1 322.5L361 319.4L357.4 320.2L357.2 322.6ZM350.4 316.3L348.5 313.8L346.9 316.3L348.2 318.2ZM435 297.8L434.2 291.9L437.4 285.7L438.5 288.8L437.1 295.2ZM428.1 309.9L427.4 307.6L431.6 305.2L430.8 308.1ZM421.5 348.5L419.3 345L421.8 344.3L423.8 347ZM398.1 369.2L400.2 366.4L400.8 366.3L399 369.6ZM409.5 367.2L409.9 364.6L411.4 365L410.9 366.8ZM429.6 372.5L428.5 370.6L429.5 370.5L430.2 373.7ZM430.3 376.7L429.4 374.4M428.7 387.6L429.3 384.6M427.7 392.6L428 390.5M413.6 407.8L414.5 406.1M399.4 412.6L401.7 412.4M395.3 230.9L388.3 231.7L384.2 232.5L380.5 230.2L379.6 225.5L381 222.5L385.7 224.8L388 227.8L392.4 229.2ZM394.4 212.2L391.5 210.7L388.5 214.9L382.8 220.4L380.7 220.5L380.5 216.8L382.1 213.1L380.9 209.6L378.4 210.5L376.1 215L373.3 212.5L373.2 216L377.1 218.9L381.3 220.8L384.7 221.7L389 220.9L392 216.7ZM384.6 206.8L380.5 203.9L373.1 205.6L376.8 206.5L382.2 206.5ZM374.1 208.1L370.1 206.7L365.8 206.5L365.7 208.6L370.6 209.1ZM390.8 308.9L389.9 305.9L387 303.9L384.2 305L384.4 308.2L389 310.5ZM397.4 294.9L395.8 292.5L390.7 290.8L386.7 289.6L387.7 291.4L392 293.4L395.8 295.2ZM400.4 249.8L397.2 247.2L393.5 250.5L392.3 256.8L395.4 256L396.7 252.1ZM558.5 365.4L556.7 361.1L553.6 362.1L554.2 364.9ZM550.1 367.3L550.8 364.6M547.3 372.8L547.1 370.8M238.9 341.5L239.8 343.3L241.4 345.2L243.5 344.6L243.5 341.7L241.3 341ZM242.2 347.6L243.3 349.5L246.2 348.7L246.7 347.3L244.6 347.2ZM85.9 444.6L87.7 449.8L85.9 448.1ZM231.7 321L234.2 322.7L232.6 322.8L231.6 321.5ZM231.1 308.1L231.5 311L228.8 310L229.2 307.9ZM231.2 305.9L230.6 307.6L229.2 306.9L230 305.7Z" fill="none" stroke="#8800d6" stroke-width="1.85" stroke-linejoin="round"/><path d="M215.3 366.7C210.3 365.8 201.7 363.9 195.2 360C188.8 356 181.7 349.5 176.5 342.9C171.2 336.3 165.8 327.9 163.9 320.4C162.1 312.9 163.5 305 165.2 297.9C166.9 290.8 171.9 284.9 174 277.8C176 270.7 176.5 263.2 177.2 255.3C177.9 247.4 177.2 237.8 178.2 230.3C179.2 222.8 180.6 216.9 183.2 210.2C185.8 203.6 189.5 196.7 194 190.2C198.5 183.7 204.4 177.1 210.3 171.4C216.1 165.8 221.9 160.8 229 156.4C236.1 152 244.7 148.1 252.8 145.1C261 142.2 269.5 140.8 277.9 138.9C286.2 137 294.5 135.4 302.9 133.9C311.2 132.3 319.6 130.9 327.9 129.6C336.3 128.3 344.6 127 353 125.9C361.3 124.7 370.1 123.4 378 122.6C385.9 121.9 392.3 122.2 400.2 121.3C408 120.5 418.5 118 425.2 117.6C431.9 117.2 434.4 117.2 440.2 118.8C446.1 120.5 453.6 123.6 460.2 127.6C466.9 131.6 473.6 137.2 480.3 142.6C486.9 148.1 494.9 154.3 500.3 160.2C505.7 166 510.3 172.7 512.8 177.7C515.3 182.7 516.6 187.7 515.3 190.2C514.1 192.7 509.5 193.1 505.3 192.7C501.1 192.3 495.3 189 490.3 187.7C485.3 186.4 479.9 185.2 475.3 185.2C470.7 185.2 466.5 186 462.7 187.7C459 189.4 455.7 192.3 452.7 195.2C449.8 198.1 447.7 201.9 445.2 205.2C442.7 208.6 440.2 212.3 437.7 215.2C435.2 218.2 433.1 220.7 430.2 222.8C427.3 224.8 424.4 226.7 420.2 227.8C416 228.8 409.4 227.1 405.2 229C400.9 231 400.6 239.2 394.6 239.5C388.6 239.8 375.3 233.4 369 231C362.7 228.6 360.2 226.5 356.6 225C353.1 223.5 351.3 222.9 347.7 222C344.1 221.1 339.4 220.3 335 219.5C330.6 218.7 325.8 217.7 321 217C316.2 216.3 311.2 215.7 306 215.5C300.8 215.3 294.6 215.5 289.5 216C284.4 216.5 280 217.2 275.6 218.5C271.2 219.8 266.8 221.6 263 224C259.2 226.4 256.2 229.8 253 233C249.8 236.2 246.5 239.4 244 243C241.5 246.6 239.5 250.5 238 254.5C236.5 258.5 234.8 262.4 235 267C235.2 271.6 238.2 276.8 239 282C239.8 287.2 239.7 292.5 240 298C240.3 303.5 241.2 309.7 241 315C240.8 320.3 239.2 325 239 330C238.8 335 237.8 340 240 345C242.2 350 250.8 356 252.5 360C254.2 364 252.5 367.1 250 368.8C247.5 370.6 241.7 371.1 237.5 370.5C233.3 369.9 228.7 366.1 225 365.5C221.3 364.9 220.2 367.6 215.3 366.7Z" fill="none" stroke="#000" stroke-width="2.0"/><path d="M215.6 369.7C220.9 370.8 220.9 367.9 224.6 368.6C228.3 369.2 233.2 373 237.6 373.5C241.9 374 248.2 372.3 250.7 371.7C253.2 371.1 252 371.8 252.8 369.9C253.6 368 255 362.4 255.5 360.5C255.9 358.7 257.3 361.6 255.3 358.8C253.2 356 245.1 348.6 242.9 343.8C240.7 339 241.8 334.9 242 330.1C242.2 325.3 244 322.9 244 314.8C244 306.8 243 289.8 242 281.8C241 273.8 238.3 271.3 238.1 267C237.9 262.6 239.4 259.3 240.8 255.6C242.2 251.9 244.1 248.1 246.5 244.7C248.9 241.3 252.1 238.2 255.1 235.1C258.2 232.1 261.1 228.8 264.6 226.6C268.2 224.3 272.3 222.7 276.5 221.4C280.7 220.1 284.9 219.5 289.8 219C294.7 218.5 300.8 218.3 305.9 218.5C311 218.7 313.7 218.9 320.6 220C327.4 221 341.1 223.6 346.9 224.9C352.7 226.2 351.9 226.3 355.5 227.8C359 229.3 361.4 231.4 368.1 233.8C374.7 236.3 390.4 241.2 395.1 242.5C399.9 243.7 394.8 243.4 396.7 241.6C398.6 239.9 402.5 233.7 406.5 231.9C410.5 230.1 416.7 231.8 421 230.6C425.3 229.5 428.9 227.4 432.1 225.1C435.3 222.8 436.3 221.7 440.1 217C443.9 212.4 450.9 201.8 454.9 197.4C458.9 192.9 460.6 192 464 190.5C467.4 189 471.1 188.2 475.3 188.2C479.6 188.3 484.6 189.4 489.6 190.6C494.5 191.9 500.6 195.3 505.2 195.7C509.7 196.1 514.7 193.5 516.8 192.8C519 192.1 517.8 192 518 191.6C518.2 191.1 518.8 192.5 518.3 189.9C517.9 187.3 517.9 181.3 515.3 175.9C512.6 170.6 507.8 163.8 502.3 157.9C496.8 152 489 145.8 482.2 140.4C475.5 134.9 468.9 129.3 462 125.2C455.2 121.1 447.2 117.7 441.1 116C435 114.2 432.3 114.2 425.4 114.6C418.6 115 407.8 117.5 399.8 118.4C391.9 119.2 385.5 118.9 377.6 119.6C369.7 120.4 365.1 121 352.6 122.9C340 124.8 314.9 128.7 302.3 130.9C289.7 133.1 285.5 134.1 277.1 136C268.7 137.9 260.1 139.3 251.8 142.3C243.5 145.3 234.7 149.4 227.4 153.9C220.2 158.3 214.1 163.5 208.2 169.3C202.2 175 196.3 181.6 191.7 188.2C187.1 194.9 183.2 202.1 180.5 209C177.7 216 176.3 222.2 175.2 229.8C174.2 237.5 174.9 247.2 174.2 255C173.5 262.9 173 269.9 171 277C169 284.1 163.9 290.2 162.2 297.4C160.5 304.6 161.1 316.2 160.9 320.2C160.8 324.3 159.1 317.8 161.3 321.9C163.5 325.9 168.7 337.9 174 344.7C179.3 351.4 186.3 358 193.2 362.2C200.2 366.4 210.4 368.6 215.6 369.7Z" fill="none" stroke="#000" stroke-width="0.9"/><path d="M375.1 120.6C379.3 120.1 391 118.7 400.2 117.6C409.3 116.5 421.8 113.8 430.2 113.8C438.5 113.8 442.7 114.5 450.2 117.6C457.7 120.7 466.9 126.8 475.3 132.6C483.6 138.5 492.8 146 500.3 152.6C507.8 159.3 514.9 166.4 520.3 172.7C525.8 178.9 530.3 185.2 532.8 190.2C535.4 195.2 536.6 200.2 535.4 202.7C534.1 205.2 529.5 205.6 525.3 205.2C521.2 204.8 515.3 202.3 510.3 200.2C505.3 198.1 500.3 194.6 495.3 192.7C490.3 190.8 482.8 189.6 480.3 189" fill="none" stroke="#000" stroke-width="0.9"/><path d="M464 576.7C465.5 574.8 470 569.8 472.8 565.4C475.5 561 477.8 555.8 480.3 550.4C482.8 545 485.5 539.1 487.8 532.8C490.1 526.6 491.5 519.5 494 512.8C496.5 506.1 499.7 499.9 502.8 492.8C505.9 485.7 509.9 478.2 512.8 470.3C515.7 462.3 518.7 452.7 520.3 445.2C522 437.7 522 432.7 522.8 425.2C523.7 417.7 524.5 408.5 525.3 400.2C526.2 391.8 526.8 384.2 527.8 375.1C528.9 366 531.6 353.7 531.6 345.4C531.6 337.2 529.7 332.1 527.8 325.4C526 318.7 523.3 311.2 520.3 305.4C517.4 299.5 514.5 294.5 510.3 290.4C506.1 286.2 501.1 282.6 495.3 280.3C489.5 278 481.9 276.8 475.3 276.6C468.6 276.4 461.1 277.2 455.2 279.1C449.4 281 443.3 283.5 440.2 287.8C437.1 292.2 437.3 300 436.5 305.4C435.6 310.8 435 315 435.2 320.4C435.4 325.8 436.2 332.1 437.7 337.9C439.2 343.8 441.9 351.8 444 355.5C446.1 359.1 447.5 358.1 450.2 360.1C452.9 362.1 456.5 365.1 460.2 367.6C464 370.1 469 371.8 472.8 375.1C476.5 378.5 480.5 382.6 482.8 387.6C485.1 392.6 486.1 398.9 486.5 405.2C486.9 411.4 486.5 418.5 485.3 425.2C484 431.9 481.9 439.4 479 445.2C476.1 451.1 472.1 455.7 467.8 460.2C463.4 464.8 458.2 469 452.7 472.8C447.3 476.5 441 480.1 435.2 482.8C429.4 485.5 423.5 487.6 417.7 489C411.8 490.5 405.6 490.9 400.2 491.5C394.7 492.2 389.5 492.8 385.1 492.8C380.7 492.8 376.8 492.6 373.9 491.5C370.9 490.5 368.4 489.2 367.6 486.5C366.8 483.8 368 479.2 368.9 475.3C369.7 471.3 372 464.8 372.6 462.7" fill="none" stroke="#000" stroke-width="2.0"/><path d="M461.5 574.7C462.9 572.9 467.4 568 470 563.7C472.7 559.4 474.9 554.4 477.4 549C479.8 543.7 482.5 538 484.8 531.7C487.1 525.5 486.9 522 491.1 511.5C495.3 501.1 505.5 480.3 509.8 469.1C514.2 458 514.1 465.2 517.2 444.6C520.3 424 527.1 365.2 528.4 345.5C529.6 325.8 526.6 332.7 524.7 326.3C522.9 319.8 520.3 312.4 517.5 306.8C514.7 301.2 511.9 296.6 508 292.7C504.1 288.7 499.5 285.5 494.1 283.4C488.6 281.2 481.5 280 475.2 279.8C468.9 279.6 461.6 280.5 456.3 282.2C450.9 283.9 445.8 286 443 289.9C440.3 293.8 440.4 300.8 439.6 305.8C438.9 310.9 438.2 315.1 438.4 320.3C438.6 325.5 439.5 331.6 440.8 337.2C442.2 342.7 443.1 348.8 446.7 353.5C450.2 358.1 457.3 361.7 462 364.9C466.8 368.2 471.3 369.5 475.3 373.1C479.2 376.7 483.3 381.1 485.7 386.4C488.1 391.7 489.3 398.2 489.7 404.8C490.2 411.3 489.7 418.9 488.4 425.8C487.2 432.7 485.1 440.1 482.1 446.2C479.1 452.2 474.9 457.3 470.3 462.2C465.7 467 460.2 471.4 454.6 475.4C448.9 479.3 442.3 483 436.3 485.8C430.3 488.6 424.4 490.7 418.4 492.1C412.5 493.6 406.2 494.1 400.6 494.7C395 495.3 389.7 496 385.1 496C380.4 496 376 495.9 372.6 494.5C369.2 493.1 365.8 491.1 364.6 487.8C363.5 484.4 364.9 478.9 365.7 474.6C366.5 470.3 368.9 464 369.5 461.8" fill="none" stroke="#000" stroke-width="0.9"/><path d="M464 576.7C461.7 577.5 458.8 579 450.2 581.7C441.7 584.4 425.2 590.6 412.7 592.9C400.2 595.3 387.6 596.2 375.1 595.9C362.6 595.7 347.6 593.6 337.6 591.7C327.5 589.7 320.4 586.9 315 584.2C309.6 581.5 305.8 579 305 575.4C304.2 571.9 307.5 567.1 310 562.9C312.5 558.7 317.1 554.5 320 550.4C323 546.2 325.5 542 327.5 537.9C329.6 533.7 330.9 528.7 332.5 525.3C334.2 522 334.6 520.1 337.6 517.8C340.5 515.5 345.5 513.7 350.1 511.6C354.7 509.5 359.7 507.6 365.1 505.3C370.5 503 379.7 499 382.6 497.8" fill="none" stroke="#000" stroke-width="2.0"/><path d="M262.8 577.9C264.5 579.2 268.3 582.9 272.8 585.4C277.4 587.9 283.3 590.9 290.4 592.9C297.5 595 307.1 597.1 315.4 597.9C323.8 598.8 332.1 597.5 340.5 597.9C348.8 598.4 357.1 598.8 365.5 600.5C373.8 602.1 382.2 605.2 390.5 608C398.9 610.7 411.4 615.3 415.6 616.7" fill="none" stroke="#000" stroke-width="0.9"/><path d="M272.8 440.2C273.3 443.5 273.3 453.6 275.4 460.2C277.4 466.9 281.2 474.8 285.4 480.3C289.5 485.7 295.8 489.9 300.4 492.8C305 495.7 310 495.3 312.9 497.8C315.8 500.3 316.9 503.2 317.9 507.8C319 512.4 319.6 519.9 319.2 525.3C318.8 530.8 316 537.9 315.4 540.4" fill="none" stroke="#000" stroke-width="0.9"/><path d="M368 460.2C369.2 464 365.9 471.3 363 475.3C360.1 479.2 355.5 482.1 350.5 484C345.5 485.9 338.8 486.3 332.9 486.5C327.1 486.7 320.8 487.2 315.4 485.3C310 483.4 305 479 300.4 475.3C295.8 471.5 291.2 467.3 287.9 462.7C284.5 458.2 282 452.7 280.4 447.7C278.7 442.7 277.2 436.9 277.9 432.7C278.5 428.5 281.2 424.8 284.1 422.7C287 420.6 291 419.8 295.4 420.2C299.8 420.6 305.4 423.1 310.4 425.2C315.4 427.3 320.4 429.8 325.4 432.7C330.4 435.6 335.4 439.4 340.5 442.7C345.5 446.1 350.9 449.8 355.5 452.7C360.1 455.7 366.7 456.5 368 460.2Z" fill="none" stroke="#000" stroke-width="2.0"/><path d="M369.6 457.5C367.4 456 364.3 454.6 357.2 450C350.1 445.4 334.4 434.5 326.9 429.8C319.3 425.2 317 424.5 311.8 422.3C306.7 420.2 301 417.4 296.1 417.1C291.2 416.7 285.8 417.6 282.3 420.1C278.7 422.5 275.6 427.2 274.8 431.9C273.9 436.7 275.5 443.1 277.3 448.6C279 454 281.7 459.6 285.2 464.5C288.7 469.3 293.5 473.8 298.4 477.7C303.3 481.7 308.8 486.4 314.5 488.4C320.3 490.4 326.8 490 333.1 489.7C339.3 489.5 346.6 489 352 486.8C357.5 484.7 362.6 481.1 365.8 476.8C369 472.5 370.3 463.9 371.1 461C372 458 371.1 459.4 370.9 458.8C370.6 458.3 371.9 459 369.6 457.5Z" fill="none" stroke="#000" stroke-width="0.9"/><path d="M250.1 262.6C251.6 256.7 254.1 248.3 258.1 243.1C262.1 237.9 267.7 234.3 273.9 231.6C280 228.8 287.8 227.4 295.1 226.6C302.4 225.7 310 225.8 317.7 226.6C325.4 227.4 334 229.2 341.5 231.3C349 233.5 356.3 236.7 362.7 239.6C369.2 242.5 375.5 245.2 380.3 248.9C385.1 252.5 388.6 256.4 391.5 261.4C394.5 266.4 396.8 272.8 397.8 278.9C398.8 284.9 399 291.6 397.8 297.7C396.5 303.7 392.8 309.8 390.3 315.2C387.8 320.6 384.4 325.6 382.8 330.2C381.1 334.8 379.4 338.6 380.3 342.7C381.1 346.9 384.4 351.5 387.8 355.3C391.1 359 396.1 361.9 400.3 365.3C404.5 368.6 409.5 371.5 412.8 375.3C416.2 379 419.5 383.2 420.3 387.8C421.2 392.4 420.3 398.5 417.8 402.8C415.3 407.2 409.9 411.6 405.3 414.1C400.7 416.6 395.3 418.1 390.3 417.9C385.3 417.6 379 415.8 375.3 412.8C371.5 409.9 369.4 404.9 367.8 400.3C366.1 395.7 365.2 390.3 365.2 385.3C365.2 380.3 367.3 375.3 367.8 370.3C368.2 365.3 368.6 359.4 367.8 355.3C366.9 351.1 365.7 347.8 362.7 345.2C359.8 342.7 355.7 340.9 350.2 340.2C344.8 339.6 337.7 341.1 330.2 341.5C322.7 341.9 313.1 343 305.2 342.7C297.2 342.5 289 342.3 282.6 340.2C276.3 338.2 271.3 334.6 267.1 330.2C262.9 325.8 260.2 319.6 257.6 314C255 308.3 253 302.3 251.6 296.4C250.2 290.6 249.3 284.5 249.1 278.9C248.8 273.3 248.6 268.6 250.1 262.6Z" fill="none" stroke="#000" stroke-width="1.9" stroke-dasharray="8 3.5"/><path d="M248.3 262.6C249.9 256.4 252.5 247.1 256.6 241.6C260.7 236.1 266.4 232.6 272.9 229.8C279.3 227 287.7 225.7 295.1 224.8C302.6 224 309.7 224.1 317.7 224.8C325.6 225.6 334.8 227.3 342.7 229.3C350.6 231.4 358.2 234.4 365.2 237.1C372.3 239.8 379.9 242 385.3 245.6C390.7 249.2 394.8 253.5 397.8 258.9C400.8 264.2 402.5 272 403.6 277.6C404.6 283.3 404.6 287.2 404.1 292.7C403.5 298.1 402.2 304.4 400.3 310.2C398.4 316 394.5 322.7 392.8 327.7C391.1 332.7 389.9 336.1 390.3 340.2C390.7 344.4 392.4 349 395.3 352.8C398.2 356.5 403.6 359.4 407.8 362.8C412 366.1 417.2 368.6 420.3 372.8C423.5 377 426 382.4 426.6 387.8C427.2 393.2 426.8 400.1 424.1 405.3C421.4 410.6 415.9 416 410.3 419.1C404.7 422.2 396.5 424.3 390.3 424.1C384 423.9 377.3 421.4 372.8 417.9C368.2 414.3 364.8 407.8 362.7 402.8C360.7 397.8 360.4 393.2 360.2 387.8C360 382.4 361.9 375.7 361.5 370.3C361.1 364.9 360 359 357.7 355.3C355.4 351.5 352.3 349.2 347.7 347.8C343.1 346.3 337.3 346.5 330.2 346.5C323.1 346.5 313.5 348 305.2 347.8C296.8 347.5 287 347.1 280.1 345.2C273.2 343.4 267.8 341.3 263.6 336.5C259.4 331.7 257.4 322.9 255.1 316.5C252.7 310 250.9 303.9 249.6 297.7C248.2 291.4 247.3 284.7 247.1 278.9C246.9 273.1 246.7 268.8 248.3 262.6Z" fill="none" stroke="#000" stroke-width="0.9" stroke-dasharray="7 3"/><path d="M79 278C76.3 278.8 72.8 279.8 70 286C67.2 292.2 64.6 304.3 62.5 315C60.4 325.7 57.9 339.2 57.5 350C57.1 360.8 57.9 369.2 60 380C62.1 390.8 65.8 403.3 70 415C74.2 426.7 79.2 439.2 85 450C90.8 460.8 97.9 470.8 105 480C112.1 489.2 120 497.5 127.5 505C135 512.5 142.1 518.3 150 525C157.9 531.7 166.7 539.2 175 545C183.3 550.8 193.3 556.2 200 560C206.7 563.8 211.2 566.7 215 567.5C218.8 568.3 221.7 567.9 222.5 565C223.3 562.1 222.1 555.8 220 550C217.9 544.2 214.2 537.5 210 530C205.8 522.5 200.8 513.3 195 505C189.2 496.7 181.7 488.3 175 480C168.3 471.7 161.7 463.3 155 455C148.3 446.7 140.8 439.2 135 430C129.2 420.8 124.6 410 120 400C115.4 390 110.8 380 107.5 370C104.2 360 101.9 349.2 100 340C98.1 330.8 97.3 322.5 96 315C94.7 307.5 93.7 300.7 92 295C90.3 289.3 88.2 283.8 86 281C83.8 278.2 81.7 277.2 79 278Z" fill="none" stroke="#000" stroke-width="2.0"/><path d="M81 273.4C79.3 272.8 79.5 272.9 78.7 273C77.8 273.1 78 272.4 76 274C74 275.5 68.5 280.5 66.7 282.3C64.9 284 66.8 278.9 65.3 284.3C63.8 289.6 59.7 303.4 57.6 314.3C55.4 325.2 52.9 338.7 52.5 349.9C52.1 361 53 370.2 55.2 381.4C57.3 392.6 61.2 405.1 65.4 417C69.6 428.8 74.6 441.3 80.6 452.4C86.6 463.4 94.1 474 101.3 483.3C108.5 492.7 116.2 500.8 123.8 508.3C131.4 515.9 138.9 522.1 146.9 528.9C154.9 535.7 163.4 543 171.9 548.9C180.4 554.8 190.7 560.6 197.8 564.5C204.8 568.4 211.1 571.1 214.2 572.4C217.2 573.7 214.4 572.9 216.1 572.4C217.8 571.9 222.8 570.3 224.6 569.6C226.3 568.8 226 568.7 226.5 568C227 567.3 227.8 568.4 227.5 565.2C227.2 562 227 555 224.8 548.7C222.6 542.4 218.6 535.2 214.3 527.4C210 519.6 211.4 518.6 198.9 501.9C186.4 485.2 151.6 444.6 139.2 427.3C126.8 410 129 407.7 124.5 397.9C120.1 388.1 115.5 378.2 112.3 368.4C109 358.6 106.8 348 104.9 339C103 330 102.3 321.8 100.9 314.2C99.6 306.6 98.6 299.6 96.8 293.5C94.9 287.5 91.3 280.6 89.9 277.8C88.5 275 89.9 277.3 88.4 276.6C86.9 275.9 82.6 274 81 273.4Z" fill="none" stroke="#000" stroke-width="0.9"/><path d="M235 570C239.2 572.1 251.7 580.8 260 582.5C268.3 584.2 278.3 577.9 285 580C291.7 582.1 294.2 590.8 300 595C305.8 599.2 311.7 602.9 320 605C328.3 607.1 345 607.1 350 607.5" fill="none" stroke="#000" stroke-width="0.9"/><path d="M218.9 416.1C218.5 416.9 217.8 417.6 216.9 418.1C216 418.6 214.8 419 213.6 419.1C212.4 419.2 210.9 419.1 209.4 418.8C208 418.5 206.4 418 205 417.3C203.7 416.7 202.2 415.8 201.1 414.9C200 414 198.9 412.9 198.2 411.9C197.5 410.9 197 409.7 196.8 408.7C196.6 407.7 196.7 406.7 197.1 405.9C197.5 405.1 198.2 404.4 199.1 403.9C200 403.4 201.2 403 202.4 402.9C203.6 402.8 205.1 402.9 206.6 403.2C208 403.5 209.6 404 211 404.7C212.3 405.3 213.8 406.2 214.9 407.1C216 408 217.1 409.1 217.8 410.1C218.5 411.1 219 412.3 219.2 413.3C219.4 414.3 219.3 415.3 218.9 416.1Z" fill="none" stroke="#000" stroke-width="1.7" stroke-dasharray="8 3.5"/><path d="M227 419.9C226.4 421.3 225.2 422.5 223.6 423.4C222.1 424.2 220 424.8 217.9 425C215.7 425.1 213.1 425 210.6 424.4C208.1 423.9 205.4 423 202.9 421.9C200.5 420.7 198 419.2 196 417.7C194 416.1 192.2 414.2 191 412.4C189.7 410.6 188.8 408.7 188.5 407C188.1 405.2 188.3 403.5 189 402.1C189.6 400.7 190.8 399.5 192.4 398.6C193.9 397.8 196 397.2 198.1 397C200.3 396.9 202.9 397 205.4 397.6C207.9 398.1 210.6 399 213.1 400.1C215.5 401.3 218 402.8 220 404.3C222 405.9 223.8 407.8 225 409.6C226.3 411.4 227.2 413.3 227.5 415C227.9 416.8 227.7 418.5 227 419.9Z" fill="none" stroke="#000" stroke-width="0.9" stroke-dasharray="7 3"/><path d="M227.5 107.5C228.8 105 234.6 100 240 97.5C245.4 95 252.5 93.9 260 92.5C267.5 91.1 276.7 89.8 285 89C293.3 88.2 304.2 86.9 310 87.5C315.8 88.1 321.7 90.8 320 92.5C318.3 94.2 307.5 95.8 300 97.5C292.5 99.2 283.3 100.8 275 102.5C266.7 104.2 257.1 105.8 250 107.5C242.9 109.2 236.2 112.5 232.5 112.5C228.8 112.5 226.2 110 227.5 107.5Z" fill="none" stroke="#000" stroke-width="0.9" stroke-dasharray="7 3"/><path d="M149.9 258.9C149.2 264 148 269.4 146.7 274C145.3 278.5 143.6 283 141.9 286.4C140.1 289.8 138.1 292.6 136.2 294.3C134.3 296 132.2 296.9 130.4 296.6C128.7 296.4 126.9 295 125.6 292.8C124.2 290.7 123 287.4 122.3 283.6C121.5 279.9 121.1 275.1 121.1 270.4C121 265.6 121.4 260.1 122.1 255.1C122.8 250 124 244.6 125.3 240C126.7 235.5 128.4 231 130.1 227.6C131.9 224.2 133.9 221.4 135.8 219.7C137.7 218 139.8 217.1 141.6 217.4C143.3 217.6 145.1 219 146.4 221.2C147.8 223.3 149 226.6 149.7 230.4C150.5 234.1 150.9 238.9 150.9 243.6C151 248.4 150.6 253.9 149.9 258.9Z" fill="none" stroke="#000" stroke-width="0.9" stroke-dasharray="7 3"/><path d="M146.9 258C146.4 261.5 145.7 265.3 144.9 268.5C144.1 271.7 143.1 274.9 142.1 277.3C141.2 279.7 140.1 281.8 139.1 283C138 284.2 137 284.9 136.1 284.7C135.2 284.6 134.4 283.7 133.7 282.2C133.1 280.8 132.6 278.5 132.3 275.9C132.1 273.3 132 270 132.1 266.7C132.2 263.4 132.6 259.6 133.1 256C133.6 252.5 134.3 248.7 135.1 245.5C135.9 242.3 136.9 239.1 137.9 236.7C138.8 234.3 139.9 232.2 140.9 231C142 229.8 143 229.1 143.9 229.3C144.8 229.4 145.6 230.3 146.3 231.8C146.9 233.2 147.4 235.5 147.7 238.1C147.9 240.7 148 244 147.9 247.3C147.8 250.6 147.4 254.4 146.9 258Z" fill="none" stroke="#000" stroke-width="0.9" stroke-dasharray="7 3"/><path d="M482 233C482 234.2 481.5 235.6 480.9 236.5C480.2 237.5 479 238.3 477.9 238.7C476.7 239.1 475.3 239.1 474.1 238.7C473 238.3 471.8 237.5 471.1 236.5C470.5 235.6 470 234.2 470 233C470 231.8 470.5 230.4 471.1 229.5C471.8 228.5 473 227.7 474.1 227.3C475.3 226.9 476.7 226.9 477.9 227.3C479 227.7 480.2 228.5 480.9 229.5C481.5 230.4 482 231.8 482 233Z" fill="none" stroke="#000" stroke-width="0.9"/></g><path d="M329.1 600.3L324.7 602.9L324.4 598.3ZM347 597.5L342.1 599L342.8 594.5ZM362.6 597.7L358.2 600.3L357.9 595.7ZM379.7 594.1L376.4 598L374.6 593.7ZM397.4 589.1L396.7 594.1L392.9 591.5ZM413.1 580.8L414.5 585.7L410 584.9ZM428.3 574.9L432.3 578.1L428.1 580ZM441.1 570.3L446.1 571.2L443.4 574.9ZM457.5 563.2L462.5 561.8L461.6 566.3ZM472.4 553.8L477.2 552L476.7 556.6ZM484.8 542.8L489.9 542.1L488.4 546.5ZM498.3 530.7L503.4 531.8L500.5 535.4ZM513.5 517.8L517.7 520.8L513.6 522.9ZM525.6 502L527.5 506.8L522.9 506.3ZM537 488.4L537.3 493.5L533.1 491.7ZM546.5 475.1L543.7 479.4L541.4 475.5ZM556.5 459.8L553.6 464L551.3 460ZM563.6 444.5L560.1 448.2L558.5 443.9ZM572.1 429.5L568.2 432.8L567 428.4ZM571.5 411.3L576.4 412.5L573.4 416ZM575.8 394.8L581 394.6L579.1 398.8ZM580.9 379.5L586 379.6L583.9 383.7ZM581.8 359.5L586.4 361.7L582.8 364.5ZM586.1 342.2L587.5 347.2L583 346.3ZM584.9 327.7L581.7 331.7L579.8 327.4ZM585 311.4L580.6 308.8L584.4 306.3ZM580.1 294.4L580.2 289.2L584.3 291.4ZM574.7 278.9L577.5 274.6L579.9 278.6ZM570.5 259.8L574.3 256.3L575.6 260.7ZM562.8 246.1L563.9 241.1L567.5 244ZM558.4 228.1L554.4 224.9L558.6 223ZM552.4 213.3L548 216L547.6 211.4ZM539.6 196.3L542.7 200.4L538.2 201.2ZM527.1 184.5L531.3 181.4L532.1 186ZM517.8 173L516.7 168L521.2 169.1ZM509.6 157.9L505.2 155.1L509.1 152.7ZM496.2 145.7L491.7 143.2L495.5 140.6ZM481.7 138L479.1 133.6L483.7 133.2ZM467.4 122.1L471 125.7L466.7 127.1ZM448.1 111.3L452.2 114.5L448 116.4ZM432.2 103L436.4 105.9L432.3 108.1ZM417 96.8L421.2 100.1L417.1 102.2ZM402.3 90.5L406.6 93.8L402.5 95.9ZM385.7 84.9L389.9 87.9L385.8 90.1ZM368.4 81.4L372.4 84.6L368.2 86.5ZM351.3 81L355.2 84.4L350.9 86.1ZM332 78.9L335.9 82.2L331.7 84ZM316.4 78L320.4 81.2L316.3 83.1ZM296.6 79.1L300.7 82.3L296.5 84.3ZM282.1 81.2L286.3 84.5L282.1 86.6ZM263 84.9L267.5 87.4L263.7 90ZM247.1 91.1L251.8 93.3L248.2 96.2ZM230.8 95.8L235.5 97.9L231.9 100.8ZM214.4 102L219 104.3L215.3 107.1ZM198.8 112.5L203.4 114.9L199.7 117.6ZM183.6 122.1L188.1 124.5L184.4 127.2ZM173.7 135.8L170.6 131.7L175.1 130.8ZM156.9 145.6L157.7 140.5L161.5 143.2ZM142.3 155.7L147.2 153.9L146.7 158.4ZM71.2 347.8L66.8 345.1L70.7 342.7ZM71.4 363.4L67 360.7L71 358.3ZM72 380.8L68.9 376.7L73.5 375.9ZM74.4 398L74.6 392.8L78.7 395ZM78.3 414.4L82.1 410.9L83.4 415.3ZM82.9 428.4L88 427.8L86.5 432.1ZM89.1 446.4L93.8 448.4L90.3 451.4ZM96 460L100.7 461.9L97.3 464.9ZM106.6 477.7L111.6 476.6L110.5 481.1ZM114.4 494.2L117.4 490.1L119.5 494.2ZM127.1 506.6L125.2 501.9L129.8 502.3ZM140.1 520.2L135 520.3L137 516.2ZM152.4 530.3L150.4 535L147.4 531.5ZM163.6 540.1L166 544.6L161.4 544.7ZM178.8 551.9L183.7 553.6L180.4 556.8ZM191.4 562.7L196.5 562.6L194.6 566.7ZM206.7 571.4L211.8 570.8L210.2 575.1ZM222.1 575.5L227.2 576L224.8 579.9ZM240.6 581.4L245.1 583.8L241.4 586.5ZM258 588.6L261.2 592.7L256.7 593.6ZM275.5 593L276.4 598.1L272 596.7ZM293.3 596.5L291.6 601.4L288.4 598.1ZM310.7 599L307.2 602.8L305.6 598.5ZM332.9 583.2L328.6 580.5L332.5 578.1ZM350 583.4L345.7 580.6L349.7 578.3ZM367.4 580.6L362.9 578L366.7 575.5ZM385.3 575.6L380.4 574.1L383.5 570.7ZM402.5 571.6L397.5 573.1L398.3 568.6ZM418.9 562.8L414.8 565.9L414 561.3ZM435.3 556.8L434.3 561.8L430.7 559.1ZM448.6 547.5L448.7 552.7L444.5 550.7ZM463.9 535.9L464.4 541L460.1 539.4ZM477.3 528.2L479.1 533L474.5 532.5ZM490.3 514.8L490.7 519.9L486.4 518.2ZM505.4 503.5L505.8 508.6L501.5 506.9ZM514.2 490.3L513.6 495.4L509.7 492.8ZM527.3 475.6L524.4 479.9L522.1 475.9ZM542.4 460L539.2 464.5L536.9 460.6ZM548.3 444.9L544.7 449.2L542.7 445.1ZM555 429.8L550.9 433.3L549.7 428.9ZM561.4 416.1L557.5 419.4L556.4 414.9ZM564.1 399.7L560 402.8L559.1 398.3ZM567 383.4L562.7 386.2L562.2 381.6ZM564.6 365.4L569.7 365.6L567.5 369.6ZM565.4 346.1L569.2 349.5L564.9 351.2ZM567.7 329.4L567.1 334.5L563.2 331.9ZM568.7 312.1L563.6 312.9L565.1 308.5ZM565.5 298.7L561.5 295.4L565.7 293.6ZM557.9 280.1L556.4 275.1L560.9 275.9ZM552.7 263.3L551.5 258.3L556 259.4ZM547.3 248.6L543.9 244.7L548.4 243.6ZM542 232.3L536.8 232.4L538.8 228.3ZM535 214.1L533.3 219L530.1 215.7ZM520.6 199.8L525.1 202.4L521.3 204.9ZM508.1 187.3L511.7 183.6L513.2 188ZM498.7 177.1L499.1 171.9L503.1 174.3ZM487.4 160.7L489.8 165.3L485.2 165.3ZM475.6 148.4L478.2 152.8L473.6 153.2ZM456.7 130.9L460 135.6L455.5 136.6ZM235.3 103.4L240.3 106.9L236.4 109.4ZM190.3 130.2L195.3 133.3L191.6 136ZM180.8 143.8L185.4 146.1L181.7 148.9ZM167.9 158.2L172.8 159.9L169.5 163.1ZM153.2 169.9L158.2 171.3L155.1 174.7ZM84.9 344.3L87.5 339.9L90 343.7ZM81.4 362.7L83.6 358L86.5 361.7ZM84.9 379.7L87.1 375.1L89.9 378.7ZM89.3 397.8L88.8 392.7L93.1 394.3ZM95.8 413.2L97.4 408.3L100.6 411.6ZM99.7 427.5L103.2 423.7L104.8 428ZM106.4 443L110.6 440.1L111.3 444.6ZM113 459.2L117.1 456.1L118 460.6ZM125.1 477.2L126.5 472.3L129.9 475.4ZM134.3 491.7L132.4 486.9L137 487.3ZM147.1 503.6L142.2 502.3L145.2 498.9ZM160 514.8L156.4 518.4L154.9 514.1ZM173.9 524.8L174.6 529.9L170.3 528.5ZM186.6 534.3L190 538.2L185.5 539.3ZM197.9 545.8L202.5 548.2L198.7 550.9ZM213.8 551.7L218.3 554.3L214.4 556.8ZM231.1 561.6L235.1 564.9L230.8 566.7ZM247.5 565L249.4 569.8L244.9 569.5ZM266.4 573.1L265.7 578.2L261.9 575.6ZM281.9 577.9L278.9 582L276.8 577.9ZM299.2 580.1L294.2 581.4L295.2 576.9ZM316.1 584L311 583.3L313.6 579.5ZM339 568.2L339.5 563.1L343.4 565.5ZM358.8 562.5L353.7 563.4L355 559ZM371.6 560.6L373.2 555.7L376.5 559ZM390.3 559.8L389.1 554.8L393.6 555.8ZM406 553.5L403.5 549L408.1 548.8ZM425.7 546.3L421.1 544L424.7 541.3ZM438.7 537.2L433.8 535.7L437 532.4ZM453.9 526.6L448.8 526.5L450.9 522.5ZM471 515.6L466.4 517.8L466.5 513.2ZM481.3 504.9L476.7 507.3L476.6 502.7ZM495.7 490.2L491.8 493.5L490.7 489.1ZM506.7 478.6L503.9 482.9L501.6 478.9ZM521.2 462.2L517.8 466.5L515.7 462.4ZM534.7 445.5L530.7 450L528.7 445.8ZM542.4 428.6L537.8 432.6L536.3 428.2ZM547.7 414L542.9 417.4L541.9 413ZM550.9 398.7L546.3 401.7L545.5 397.2ZM554 384.7L549.4 387.6L548.9 383ZM554 364.8L549.9 368L549 363.5ZM552.8 350.5L549.4 354.4L547.6 350.1ZM554 332.4L550.9 336.5L548.8 332.4ZM552.4 313.1L548.8 316.8L547.3 312.4ZM549 297.6L543.8 297.3L546.1 293.3ZM543.6 284.2L538.9 282L542.5 279.1ZM539.9 266.6L535.8 263.5L540 261.5ZM531.3 249.2L526.2 248.7L528.7 244.8ZM524.5 230.8L520.7 234.3L519.5 229.9ZM513.5 214.6L514.7 219.6L510.2 218.5ZM502.5 201.4L504.7 206L500.1 205.9ZM494.3 188.3L496.6 192.9L492 192.9ZM479.8 174.5L482.1 179.1L477.5 179.1ZM467.8 156.2L470.2 161.3L465.6 161.5ZM183.5 151.6L188.8 154.5L185.2 157.4ZM170.5 165.4L175.9 167.6L172.7 170.8ZM159.5 176.9L165.1 178.8L162.1 182.2ZM148.5 193.5L154 194.6L151.4 198.3ZM140.6 207L145.7 207L143.6 211.1ZM132.2 222.8L137.3 221.8L136 226.2ZM122.5 239.2L127.2 237.2L127 241.7ZM115.7 257.6L119.8 254.5L120.6 259ZM111.6 274.1L115.4 270.6L116.7 275ZM102.5 292.4L106.5 288.7L107.9 293.1ZM95 309.6L99.2 305.7L100.7 310.1ZM93.2 328.7L97.2 324.5L99 328.8ZM93.5 345L97.3 340.5L99.4 344.6ZM96.1 364.7L99.1 359.8L101.7 363.5ZM103.7 378.2L105.9 373.6L108.7 377.2ZM107.1 395.1L103.9 391L108.5 390.1ZM111.2 412.4L109.5 407.6L114.1 408.2ZM116.5 428.5L116.1 423.4L120.3 425.1ZM125 442.3L124.1 437.2L128.5 438.5ZM133.5 460.5L131.8 455.6L136.4 456.3ZM143.9 474.8L140.1 471.3L144.5 469.7ZM157.5 487.2L152.4 487.4L154.3 483.2ZM169.7 497.9L166.1 501.5L164.6 497.1ZM181.4 512.7L176.5 511.4L179.5 507.9ZM191.8 519.8L193.3 524.7L188.8 524ZM205.7 529.7L208.4 534.1L203.8 534.5ZM223.1 537.9L225.3 542.6L220.7 542.5ZM239.6 544L239.8 549.1L235.6 547.3ZM255.9 553.1L254 557.9L251 554.4ZM274.1 558.1L269.4 560L269.7 555.4ZM289 564.7L283.9 564L286.5 560.2ZM304.6 565.1L301.6 560.9L306.2 560.3ZM321.5 569.1L320.2 564.1L324.7 565.1ZM329.9 547.8L324.9 549.1L325.9 544.6ZM351.6 548L346.6 549.2L347.6 544.7ZM366.1 547L361.3 548.6L361.9 544ZM382.3 541.7L379.8 546.2L377.2 542.5ZM396.7 533.7L395.8 538.8L392.1 536.1ZM411.2 532.1L414.6 528.2L416.3 532.5ZM428.1 524.2L429.5 519.2L432.9 522.3ZM441.6 516.4L441.1 511.3L445.4 512.9ZM458.5 504.1L455.7 499.7L460.3 499.3ZM472.2 491.9L467.9 489.1L471.9 486.8ZM485.6 479.5L480.4 479.3L482.6 475.2ZM496.6 463.8L493.2 467.7L491.5 463.4ZM513 448.3L508.8 452.3L507.2 448ZM538.5 402.7L533 405.3L532.7 400.7ZM544.7 347.6L540.8 352L538.8 347.8ZM540.5 331.4L537.7 336L535.2 332.1ZM534.8 314.2L534 319.3L530.3 316.6ZM531.9 299.3L532.2 304.4L527.9 302.6ZM526.1 282.5L526.9 287.6L522.5 286.2ZM520.2 261.8L521.3 266.8L516.8 265.6ZM515.9 246.4L517.2 251.3L512.7 250.4ZM504.7 228.8L506.4 233.9L501.9 233.4ZM497.5 215.3L499.5 220.3L494.9 220ZM486.2 196.6L488.5 201.9L483.9 201.8ZM473.2 181.1L475.5 186.6L470.9 186.7ZM195.5 167.6L200.8 170.1L197.5 173.2ZM143.8 219.8L149.6 219.4L148.1 223.7ZM137.2 238.5L142.8 237.1L142.1 241.6ZM130.7 255.4L135.6 252.6L136 257.2ZM123.2 273.6L127.8 270.1L128.9 274.6ZM116.3 289.3L120.9 285.5L122.2 289.9ZM109.1 344L113.2 339.5L115.1 343.7ZM112.6 361.7L115.9 357.1L118.2 361.1ZM120.8 375.3L123.3 370.7L125.9 374.5ZM127.3 389.8L122.2 390L124.1 385.8ZM133 407.2L127.9 407.3L129.9 403.2ZM136.6 423.6L131.5 422.6L134.4 418.9ZM146.6 440.9L141.5 440.7L143.7 436.6ZM151.9 454.7L149.7 450L154.3 450.1ZM162.3 471.7L159.1 467.7L163.5 466.7ZM178.7 485.2L173.9 483.5L177.2 480.3ZM192.8 497.5L187.4 496L190.4 492.5ZM202.5 507.5L197.4 506L200.5 502.6ZM213.4 516.8L208.5 515.2L211.7 511.9ZM228.2 521L227.7 526.1L223.8 523.7ZM247.2 531.1L244.1 535.2L242 531.1ZM261.6 536.8L256.7 538.2L257.5 533.6ZM278.5 545.9L274 543.3L277.8 540.8ZM294.5 548L293.9 542.9L298.2 544.5ZM310.5 549.2L313.5 545L315.7 549ZM340.7 530.2L335.8 532.4L335.9 527.8ZM359.9 530.1L354.6 532.3L354.7 527.7ZM376 524.3L372.2 528.5L370.3 524.3ZM390.1 519L388.8 524.2L385.2 521.2ZM402.2 514.8L401.2 519.9L397.6 517.1ZM415.1 507.6L419.8 509.6L416.3 512.6ZM429.6 497.6L434.7 497L433.1 501.3ZM442.9 490L446.7 486.5L448 490.9ZM457.4 478.6L457.7 473.5L461.7 475.8ZM472.5 468.7L468.8 465.1L473.1 463.6ZM484.7 452.4L480.6 455.5L479.7 451ZM519 290.8L519.3 296.9L515 295.3ZM153.3 233.4L159.3 232.7L158.1 237.1ZM150.8 253L156 251L155.7 255.6ZM140.4 271.8L145.3 268.7L146.1 273.2ZM133.6 288.7L138.5 285L139.6 289.4ZM130.6 356.6L133.9 352.2L136.1 356.2ZM135.5 370.9L137.9 366.4L140.5 370.2ZM144.9 386.8L142.6 391.4L139.8 387.8ZM147.3 402.4L144.7 406.9L142.2 403ZM153.8 418.5L151.4 423L148.7 419.3ZM162.5 438.1L160.4 433.4L165 433.6ZM170.5 459.6L168.1 454.6L172.7 454.6ZM186.3 474.9L182.3 470.5L186.6 469ZM202.2 484L196.6 481.9L199.8 478.6ZM211.9 493L206.5 491.3L209.5 487.9ZM221.2 502.2L216.3 500.7L219.4 497.4ZM235.7 505.5L233.3 510.1L230.6 506.4ZM253.1 514.8L248.3 516.5L248.8 511.9ZM267.6 525.4L263 523.1L266.6 520.3ZM283.6 528.7L283.5 523.6L287.7 525.6ZM299.4 530.6L303.5 527.5L304.3 532.1ZM321.3 531.6L316.7 533.9L316.7 529.3ZM350.9 511.7L346 514.6L345.4 510ZM386.9 502.9L383.4 507.7L380.9 503.8ZM394.9 499.2L392.3 503.6L389.8 499.8ZM409 490.8L409.6 495.9L405.3 494.3ZM421.7 483.7L425.2 487.5L420.8 488.8ZM435.8 475.4L440.9 474.9L439.3 479.2ZM447.9 462.8L450.6 458.5L453 462.4ZM464 451.9L458.8 452.1L460.7 447.9ZM483.9 436.6L478.3 437.9L479.1 433.4ZM454.7 211.2L457.5 216.6L452.9 217ZM145.9 355.4L148.3 350.1L151.4 353.5ZM151 367.6L151.4 362.5L155.3 364.9ZM157.2 385.5L156.7 380.4L161 382.1ZM160.8 397.6L164 401.7L159.5 402.6ZM170.1 417.7L168.9 412.7L173.4 413.7ZM176.6 431.8L174.5 427.1L179.1 427.3ZM186 455.1L183.6 449.8L188.2 449.8ZM202 464.3L198.1 460.5L202.4 458.9ZM213.7 473.1L208.8 471.7L211.9 468.3ZM225.3 484.6L220.4 483.2L223.5 479.8ZM243.2 490.2L240.3 494.5L238 490.5ZM257.7 502.2L252.6 502.7L254.2 498.4ZM271.7 509.8L268.5 505.7L273.1 504.9ZM288.2 511.3L291.2 507.1L293.3 511.2ZM304.1 514.2L309.2 514.4L307 518.4ZM329.7 513.7L325 515.9L325.1 511.3ZM337.7 499.2L332.2 500.6L333 496.1ZM358.8 495.7L353.5 498.6L353 494ZM388.4 485.5L384.1 489L382.9 484.6ZM400.3 481.7L396.5 485.3L395.2 480.9ZM413.1 471L414.4 476L409.9 475ZM427.3 460.2L432.2 461.4L429.2 464.9ZM437.4 451.3L441.3 447.9L442.4 452.4ZM459.3 438.2L453.7 437.9L455.9 433.8ZM447.6 236.3L449.8 240.9L445.2 240.9ZM430.4 218.4L434.3 222.4L430 224.1ZM169.8 390L169.5 383.9L173.8 385.4ZM175.7 404.9L175.6 399.3L179.8 401.2ZM184.5 414L184 408.9L188.3 410.6ZM194.3 431.2L192.2 426.5L196.8 426.8ZM205.8 445.7L203.1 441.3L207.7 440.9ZM215 453.2L219.9 454.8L216.7 458.1ZM232.8 463.8L235.6 468.1L231 468.6ZM249.2 475.4L247.2 480.2L244.2 476.7ZM263.3 486.4L258.2 487L259.8 482.7ZM279.4 492.5L277.8 487.6L282.3 488.3ZM296.1 496.8L290.9 496.9L293 492.8ZM316.3 500.3L311.3 501.1L312.6 496.7ZM347.7 484.4L342 485.4L343 480.9ZM364.1 476.4L359.4 479.5L358.7 474.9ZM376.5 474.1L372.2 477.4L371.3 472.9ZM390.6 465L389 469.9L385.8 466.6ZM403.3 454.9L405.2 459.7L400.6 459.3ZM415.2 447.9L420 449.7L416.6 452.8ZM433.6 435.3L429 437.6L429 433ZM449.4 426L443.9 426.7L445.2 422.3ZM463.4 411.6L457.3 412.3L458.6 407.9ZM471.2 391.8L465.4 393.6L465.8 389ZM441.2 253.4L442.4 258.4L437.9 257.3ZM427.4 240L429.3 244.8L424.7 244.4ZM415.7 222.7L418.3 227.8L413.7 228ZM203.9 410.7L203.5 405.6L207.8 407.4ZM210.7 426.9L213.3 422.5L215.8 426.3ZM222.6 437.2L226.7 434.2L227.5 438.7ZM235 448.5L240 449.6L237.1 453.2ZM252.6 456.7L254.1 461.6L249.6 460.8ZM269.6 467.2L265.3 470L264.8 465.4ZM285.2 475.7L280.1 475.3L282.4 471.3ZM308.9 484.4L303.4 484L305.6 480ZM330.6 485.3L324.7 485.2L326.6 481ZM346.2 462.7L341.2 463.6L342.5 459.2ZM361.5 460L357.3 462.9L356.6 458.3ZM377.9 450L379.7 454.9L375.1 454.3ZM393.4 443.3L397.2 446.8L392.9 448.4ZM405.5 432.8L407.7 437.4L403.1 437.4ZM421.6 413.5L423.1 418.8L418.6 418.2ZM435.1 399.7L434.7 405.6L430.6 403.6ZM429.8 264.9L432.9 270L428.3 270.6ZM422 257.2L422.7 262.3L418.3 260.8ZM411.2 239.1L410.9 244.7L406.8 242.7ZM207.9 402.2L207.9 396.2L212.1 397.9ZM222.4 410.4L222 405.2L226.2 407ZM231.9 421.9L232.2 416.8L236.2 419.1ZM242.4 432.9L246.5 429.8L247.3 434.3ZM258.5 443.9L262.2 447.5L257.9 449ZM277.7 453.4L272.5 453L274.9 449ZM298.1 462.8L292.4 462.1L294.7 458.2ZM316.8 469.9L311 469.2L313.3 465.2ZM333.7 470.4L327.9 470L330 465.9ZM333.7 447.4L328.5 447.2L330.8 443.2ZM346.8 443.2L351.9 442.6L350.4 446.9ZM364.6 439.9L369.6 441.3L366.4 444.7ZM383.1 431.1L385.4 435.7L380.8 435.7ZM398.1 414.2L400.4 419.3L395.8 419.2ZM423.1 384.2L423.5 390.3L419.2 388.8ZM427.5 314.9L431.4 319.4L427.1 320.8ZM425 301.1L428.5 305.4L424.1 306.5ZM420.7 284.2L424.3 288.4L419.9 289.7ZM410.3 277.1L414.9 279.5L411.1 282.2ZM402.1 263.5L403.6 268.5L399.1 267.7ZM390.2 243.5L391.7 249.2L387.1 248.5ZM220.6 304.4L224.9 300.9L226 305.4ZM229.4 396.7L229.3 391.2L233.5 393.1ZM240.6 408L238 403.6L242.6 403.3ZM250.1 418.1L250.7 413L254.5 415.5ZM264.6 427.1L269.7 426.3L268.3 430.7ZM280.7 436.6L281.6 441.7L277.2 440.4ZM303.1 447.2L298 446.8L300.3 442.9ZM319.4 448.3L314.3 448L316.6 444ZM338.7 433.6L338.4 428.4L342.6 430.3ZM354.9 426.5L355.5 421.4L359.4 423.9ZM371.2 415L373.7 419.5L369.1 419.7ZM385.1 400.3L387.6 405.2L383 405.3ZM397.4 383.8L399.4 389.5L394.8 389.3ZM412.6 369.5L413.1 375.5L408.7 374ZM419.3 354.6L419.1 360.6L414.9 358.6ZM417.5 341.8L420.2 346.2L415.6 346.6ZM415.1 325.1L419 328.5L414.7 330.2ZM411.7 309.2L416.2 311.7L412.4 314.3ZM401 295.4L404.2 291.4L406.2 295.5ZM384.8 284.9L388.3 280.2L390.6 284.2ZM233.5 322L237 317.7L239.1 321.7ZM232.7 339.1L234 333.8L237.6 336.7ZM232.8 364.1L233.4 358.3L237.5 360.4ZM236.4 378.6L236.6 372.7L240.8 374.7ZM246.5 389.1L246.3 383.9L250.5 385.9ZM259.2 404.5L257.5 399.7L262.1 400.3ZM269.4 415L272.9 411.2L274.6 415.5ZM284.4 419.6L289.1 421.7L285.5 424.6ZM304.4 425.5L302.6 430.3L299.5 426.9ZM323.8 433.5L319.3 431L323.1 428.4ZM328.5 413.2L324.7 416.7L323.4 412.3ZM347.1 414.8L342.2 413.5L345.2 410ZM362.6 408.4L357.9 406.4L361.4 403.4ZM375.8 391.7L378.4 396.1L373.8 396.5ZM388.9 374.4L391.2 379.4L386.6 379.4ZM397.3 364L398.6 369L394.1 368ZM402 347.8L400.7 352.8L397.2 349.8ZM401.7 330.8L399.4 335.4L396.6 331.8ZM393.9 314.4L396.6 310L399 313.9ZM249.2 338.4L251.9 333.7L254.5 337.5ZM253.8 353.8L254.8 348.7L258.4 351.5ZM256.2 371L256.2 365.9L260.4 367.9ZM268.2 384.6L265 380.5L269.6 379.6ZM276.3 398.2L276.6 393.1L280.6 395.4ZM290.7 406.9L295.8 406.3L294.3 410.6ZM310.6 408.6L312.6 413.3L308 413ZM334.6 396.1L334.2 401.3L330.3 398.9ZM352.9 388.8L350.7 393.5L347.9 389.8ZM364.6 378.1L367.3 382.4L362.7 382.9ZM374.7 364.6L377.5 368.9L372.9 369.4ZM384.9 349L384 354.1L380.3 351.4ZM381.9 334.9L384.5 330.4L387 334.2ZM368.2 322.8L371.3 317.9L373.8 321.7ZM267.5 349.7L269.5 345L272.5 348.5ZM277 368L275.2 363.2L279.8 363.7ZM284.8 380.8L284.4 375.6L288.7 377.4ZM298.4 392.3L302.8 389.6L303.1 394.2ZM316.2 393.3L320.5 396L316.6 398.4ZM340 374.3L343.1 378.4L338.6 379.2ZM354 365.9L355.7 370.7L351.2 370.2ZM364.5 352.3L365.4 357.4L361 356.1ZM360.6 338.5L363.2 334L365.7 337.8ZM283.4 352.1L284.9 346.8L288.4 349.7ZM292.8 366.3L293.3 361.2L297.2 363.7ZM302.8 376.5L306.3 372.7L307.9 377ZM319.7 379L324.8 379.7L322.2 383.5ZM328.1 363.6L333.2 364.7L330.2 368.3ZM342.5 354.7L344.7 350L347.5 353.6ZM344.4 342.4L346.8 337.8L349.5 341.6ZM298.4 353.1L299.8 347.5L303.5 350.4ZM312.2 362.3L313.2 357.3L316.8 360ZM326.2 346.4L328.6 341.4L331.5 345ZM315.4 348.9L317.5 343.7L320.7 347Z" fill="#000"/><path d="M419.5 102L419.1 101.1M405 95.7L404.5 94.8M284.6 86.3L284.2 85.5M535.7 463.9L538 462.5M541.1 448.5L543.7 447.2M548.4 431.6L550.3 431.1M458.7 140.7L457.8 136.1M445.1 132.6L442 119M445.5 124.5L442 119L441.2 125.5M430.7 124.3L425.4 105.6M430.2 112.3L425.4 105.6L424.8 113.9M414.8 115.1L410.6 102.8M414.6 107.7L410.6 102.8L410.6 109.1M397.4 111.9L393 97.9M397.1 103.3L393 97.9L392.7 104.7M379.9 104.6L375.2 90M379.5 95.6L375.2 90L375 97M363.1 101.2L358.2 84M362.7 90.3L358.2 84L357.6 91.8M347.6 100.2L343.1 84.5M347.4 90.5L343.1 84.5L342.6 91.8M328.7 101.3L323.5 82.2M328.4 89.1L323.5 82.2L322.8 90.6M311.7 101.7L308.2 88.7M311.9 94L308.2 88.7L307.7 95.1M292.7 102.8L286.8 84.8M291.8 91.2L286.8 84.8L286.6 93M275.4 104.5L270.4 91.6M274.7 96.5L270.4 91.6L270.6 98.1M261.4 109.7L253.9 93.9M259.3 99.3L253.9 93.9L254.6 101.5M242.1 113.9L238.4 108.1M225.8 121L218.2 109.6M223.4 113.4L218.2 109.6L219.7 115.9M213.2 129.1L203.5 115.3M209.6 119.6L203.5 115.3L205.5 122.5M196.7 139.2L193.5 134.7M515.1 465.3L516.8 464.5M523.9 450.7L529.7 447.9M530.9 432.5L537.1 430.4M537.2 416.4L542.4 415.2M543.1 399.9L545.9 399.5M547.7 385.5L549.2 385.3M468 165L467.9 161.4M454.5 157.2L452.6 139.7M456 146.6L452.6 139.7L450.8 147.2M439.7 145.5L431.2 122.2M437.6 129.9L431.2 122.2L431.2 132.2M422 139.1L409.4 116.6M417.3 123.4L409.4 116.6L411.1 126.8M407.4 130.2L392.1 104.5M401.1 112L392.1 104.5L394.3 116M391.1 127.6L377.3 87.2M385.9 98L377.3 87.2L377.1 101M372.8 121.3L365.2 94.6M371.6 103.5L365.2 94.6L364.4 105.5M358.3 119.6L354.7 77.3M360.4 89.9L354.7 77.3L351.1 90.7M340.3 118.4L342 78.9M346.1 92.1L342 78.9L336.8 91.7M322.8 118.1L319.6 77.6M325.3 90.2L319.6 77.6L315.9 91M306.3 117L301.4 81.7M307.6 93.6L301.4 81.7L298.6 94.9M289.2 120.3L276.2 96.1M284.3 103.4L276.2 96.1L277.8 106.9M270.4 125.1L255.5 101.5M264.2 108.3L255.5 101.5L257.9 112.3M253.7 127.2L237.9 104.5M246.8 110.8L237.9 104.5L240.8 115M238.9 133.9L225 115.1M233 120.4L225 115.1L227.7 124.3M221.7 140.9L213.8 122.4M219.6 128.7L213.8 122.4L214.3 131M206.3 149.8L193.6 135.1M200.8 139.2L193.6 135.1L196.6 142.9M191.1 161.1L187 155.9M178.1 172.9L174.3 169.2M167.9 184.2L163.6 180.5M155 198.1L152.7 196.4M108.9 290.4L107.2 290.9M103.4 306.7L99.9 307.9M102.4 324.9L98.1 326.7M103.3 339.9L98.3 342.5M103.9 359.2L100.4 361.6M503.8 451.8L508 450.1M510.7 434.1L522.9 430.8M517.8 434.3L522.9 430.8L516.7 430.3M517.2 420L530.7 418M525 421.1L530.7 418L524.4 416.7M526 403.5L532.9 403M530.3 387.3L543.4 385.3M537.8 388.3L543.4 385.3L537.2 384.1M533.5 370.1L546.2 366.7M541 370.3L546.2 366.7L539.9 366.2M535.3 352.1L539.8 349.9M535.5 334.7L536.4 334M504 234.8L504.1 233.6M497 221.9L497.2 220.2M486.1 206L486.2 201.8M473.2 192.9L473.2 186.7M459.2 182.3L458.4 164.5M461.4 171.7L458.4 164.5L456.1 172M445.5 171.7L442.4 149.2M446.7 157.5L442.4 149.2L440.4 158.4M432 163.9L430 140.9M434 149.5L430 140.9L427.6 150.1M418.6 154.3L405.6 119M414.5 129.6L405.6 119L405.7 132.9M402.2 148.4L398.1 108.1M404.1 120.5L398.1 108.1L394.8 121.5M384.8 140.2L364.7 103.5M375 112.6L364.7 103.5L366.8 117.1M369.3 137.4L350.6 102.3M360.8 111.6L350.6 102.3L352.6 116M350.8 133.3L334.6 98.6M344.3 108.4L334.6 98.6L335.8 112.4M333.4 132L332.3 98.9M337 110.7L332.3 98.9L328.4 111M316.4 135.1L316.3 101.9M320.6 113.9L316.3 101.9L312 113.9M297.9 133.9L296.9 102.7M301.4 114L296.9 102.7L293.2 114.2M282.6 139.3L276.6 111M282.6 120.6L276.6 111L275.1 122.2M263.4 143.6L245 106.3M255 115.9L245 106.3L246.6 120M248.4 147.2L228.1 121.3M238.8 128L228.1 121.3L232.1 133.3M232.4 154.4L213.1 133.6M223 138.7L213.1 133.6L217.5 143.9M218.2 165.6L209 151.2M215 155.8L209 151.2L210.7 158.6M202.9 175.7L199.1 171.6M190.6 186L181.1 177.3M186.8 179.7L181.1 177.3L184 182.8M178.1 196.4L165.9 185.7M172.7 188.4L165.9 185.7L169.5 192.1M166.6 210.9L154.9 203.5M161.3 204.9L154.9 203.5L158.9 208.6M153.7 223.3L148.9 221.6M146.7 240.1L142.4 239.4M139.3 254.6L135.8 254.9M132.4 271.4L128.4 272.3M127.1 286L121.6 287.7M123.3 305L110 309M115.2 305.1L110 309L116.5 309.4M121.2 320.6L105.1 327.2M110.8 322L105.1 327.2L112.8 326.8M120.4 338.8L114.2 341.6M120.1 357.3L117.1 359.1M186.8 492.6L188.9 494.3M198.3 503.6L199 504.3M335 530.1L335.9 530.1M350.6 530L354.7 530M368 527.8L371.3 526.4M386.1 523.8L387 522.7M493 437.1L507.1 434.7M501.3 438L507.1 434.7L500.5 433.5M500.5 422.5L523.3 418.6M515 423.3L523.3 418.6L514 416.9M505.7 403.8L532 403M522.2 406.9L532 403L522 399.8M509.8 389.1L534.1 386.2M525.2 390.7L534.1 386.2L524.5 384M513.8 370.5L534 361M527.4 367.5L534 361L524.8 361.9M517.4 353L529.9 344M525.9 349.8L529.9 344L523.2 345.9M518 338.3L526.1 327.7M524.2 333.8L526.1 327.7L520.8 331.1M517.6 319.5L523.2 307.4M522.7 313.8L523.2 307.4L518.7 311.9M514.9 302.4L517.1 296.1M508.5 287L515 267.6M515.2 276.2L515 267.6L509.6 274.4M503.4 270.8L508.6 253.3M509.1 261.2L508.6 253.3L503.9 259.7M495.3 254.8L500.5 234.4M501.3 243.2L500.5 234.4L495.5 241.7M487.9 239.9L490.5 223.9M491.9 231.1L490.5 223.9L487 230.3M477.7 225.7L477.4 209.7M480 216.4L477.4 209.7L475.1 216.5M465.2 212.2L466.1 194.7M468.3 202L466.1 194.7L463.1 201.8M455 199.7L452.3 177M456.5 185.4L452.3 177L450.2 186.2M438.8 187.8L434.5 169M439 175.9L434.5 169L433.5 177.2M424.4 178L417.8 143.2M424.6 154.8L417.8 143.2L415.7 156.5M412.1 170.3L398.8 147.1M406.9 154L398.8 147.1L400.6 157.6M395.1 161.4L384.5 135.4M391.9 143.6L384.5 135.4L385 146.5M379.8 157L364.3 113M373.1 123.7L364.3 113L364.2 126.8M360 154L357.5 107.3M362.9 120.1L357.5 107.3L353.6 120.6M342.7 150.8L325.4 112.8M335 122.7L325.4 112.8L326.5 126.6M327.4 148.8L310.1 110.3M319.7 120.2L310.1 110.3L311.2 124M308.4 149.9L297.2 102M304.7 113.5L297.2 102L295.6 115.7M293.8 153.5L278.2 119.7M287.9 129.5L278.2 119.7L279.4 133.4M276.3 156.1L275.7 119.4M280.6 132.3L275.7 119.4L271.2 132.5M257.7 163.5L251.4 124.1M258.1 136.2L251.4 124.1L248.8 137.7M241.7 168.6L222.5 146.5M232.5 152.1L222.5 146.5L226.7 157.2M229.2 177.7L213 149.9M222.5 157.8L213 149.9L215.2 162.1M212.3 188.7L197.9 177.6M205.4 180L197.9 177.6L202.2 184.3M201.2 197.9L188.3 188.2M195.2 190.3L188.3 188.2L192.3 194.3M188.3 209.4L172.7 198.4M180.6 200.6L172.7 198.4L177.4 205.1M174.6 223.3L159.8 217.9M166.9 217.9L159.8 217.9L165.2 222.5M165.1 236.7L158.7 234.9M158.7 253.4L155.9 253.3M150 270.2L145.7 270.9M145.5 285.5L139.1 287.2M141.3 301.7L125.2 306.2M131.3 301.9L125.2 306.2L132.6 306.7M135.8 319.9L122.1 324.4M127.4 320.2L122.1 324.4L128.8 324.5M136.7 335.2L119.9 342.8M125.7 337.2L119.9 342.8L127.9 342.1M137.4 352.9L135 354.2M170.4 452.2L170.4 454.6M182.5 464.5L184.4 469.7M194.1 476.4L198.2 480.2M205.4 487.3L208 489.6M341.4 512.9L345.7 512.3M358 510.7L370.5 507.1M365.4 510.8L370.5 507.1L364.3 506.7M376.7 509.2L382.2 505.8M474.2 434.9L478.7 435.7M480 420L501.7 422.3M492.9 424.5L501.7 422.3L493.5 418.4M487.2 404L503.7 405.3M496.6 407.3L503.7 405.3L497 402.3M493 386.3L518.9 386.4M509.1 389.9L518.9 386.4L509.1 382.9M499 371.2L522.3 363.6M514.4 369.7L522.3 363.6L512.3 363.3M501.5 353.1L520.5 332.5M516.2 342.7L520.5 332.5L510.7 337.6M500 336.3L509.1 303.1M510.1 316.1L509.1 303.1L501.6 313.8M500.3 317.6L513.6 296.1M511.5 306L513.6 296.1L505.7 302.4M494.4 299L503 261.6M504.7 275.3L503 261.6L495.6 273.2M491.2 281.7L504 251.5M503.3 264.1L504 251.5L495.5 260.8M483.3 268.2L493.8 240.2M493.6 251.8L493.8 240.2L486.2 249.1M476.7 252.1L475.6 229.8M479.2 238.3L475.6 229.8L472.9 238.7M464.2 236.3L465.4 221.3M467.2 228L465.4 221.3L462.6 227.6M455.8 223.5L455.2 216.8M440.3 210.8L434.8 196M439.4 201.5L434.8 196L434.9 203.2M428.4 201.2L422.4 180.1M427.7 187.5L422.4 180.1L421.8 189.2M412.6 191.5L401.5 155.1M409.8 166.1L401.5 155.1L400.8 168.9M396.6 181L384.9 141.9M393.1 153L384.9 141.9L384.1 155.7M380.4 174.5L358.2 139.9M369.2 148.3L358.2 139.9L361.3 153.4M363.9 169.6L363.6 135.2M368.2 147.5L363.6 135.2L359.3 147.6M345.4 168.8L330 126.5M338.9 137.1L330 126.5L330.1 140.3M327.8 167.6L312.2 133.5M321.9 143.4L312.2 133.5L313.4 147.3M313 167.4L318.5 128.7M321.3 142.3L318.5 128.7L312 141M294.7 171.4L287.7 123.6M294.2 135.8L287.7 123.6L285 137.1M277.5 175.6L273.3 133.8M279.2 146.2L273.3 133.8L269.9 147.2M261.8 180.4L249.4 137.6M257.5 148.8L249.4 137.6L248.5 151.4M243.9 189L212 159.5M224.7 164.9L212 159.5L218.4 171.8M227.8 196.4L201.6 184.3M212.9 185.3L201.6 184.3L209.7 192.3M213.7 207.6L180.2 185.1M193.6 188.5L180.2 185.1L188.4 196.2M201.1 218.2L169 208.6M181.8 207.9L169 208.6L179.3 216.2M189.1 232.9L156.6 220.9M169.8 221L156.6 220.9L166.7 229.4M181.7 246.5L157 245.1M166.6 242.2L157 245.1L166.2 249M171.8 260.6L158.1 258.4M164.5 257.2L158.1 258.4L163.8 261.6M163.1 277.1L149.7 277.4M155.7 275.1L149.7 277.4L155.8 279.5M159.8 293.8L145.9 296M151.7 292.8L145.9 296L152.4 297.2M154.9 310.5L140.8 315.2M146.2 311L140.8 315.2L147.7 315.4M152.4 328.1L139.9 333.9M144.5 329.3L139.9 333.9L146.4 333.3M153.4 348.4L149.8 351.8M185.8 445.6L185.9 449.8M199.5 457.7L200.2 459.7M328.9 497.8L332.6 498.3M346.5 497L353.2 496.3M366.2 492.2L385.3 487.6M378.3 492.2L385.3 487.6L377 486.7M380.6 487.6L383.5 486.8M452.3 434.5L454.8 435.9M461.6 422.8L478.1 430.3M470.3 429.7L478.1 430.3L472.5 424.8M470.9 406.6L492.2 414.3M482.8 414.3L492.2 414.3L485 408.4M477.3 388.3L498.3 388.6M490 391.5L498.3 388.6L490 385.5M481.2 370.8L499.1 357.9M493.9 365.5L499.1 357.9L490.3 360.4M481.8 353.9L495.4 323.3M494.5 336.1L495.4 323.3L486.6 332.6M485.1 337.5L480.9 303.8M486.7 315.3L480.9 303.8L478.1 316.4M480.9 318.8L477.8 289.6M482.8 299.9L477.8 289.6L475.1 300.8M477.5 301.6L471.1 269.2M477.6 280L471.1 269.2L469.2 281.7M474 286.9L485.6 258M485.1 270L485.6 258L477.6 267M467.4 270.4L475.8 249.9M475.4 259.1L475.8 249.9L469.6 256.7M457.6 255.6L461.8 240.6M462.3 247.7L461.8 240.6L457.7 246.4M433.5 226.6L432.2 223.2M422.5 214.7L413.1 189.5M420 197.7L413.1 189.5L413.2 200.2M405.4 206.2L398.4 183.7M404.2 191.4L398.4 183.7L397.9 193.3M389.7 197.5L386.5 163.8M392 175.5L386.5 163.8L383.3 176.4M374.6 189.9L371.8 157.5M377 168.8L371.8 157.5L368.6 169.6M356.8 188.1L347 160.4M354.3 169.3L347 160.4L346.9 171.9M338.8 184.1L332.5 138.3M338.9 150.5L332.5 138.3L329.6 151.8M323.4 185.2L313 155.3M320.6 164.8L313 155.3L312.8 167.5M305.9 184.1L285.4 144.2M295.5 153.6L285.4 144.2L287.2 157.9M287.4 190.1L280.6 143.9M287.1 156.1L280.6 143.9L277.9 157.4M269.7 194.7L236.3 159.5M248.7 165.7L236.3 159.5L241.9 172.2M256.2 200.6L239.2 181.5M248.3 186.4L239.2 181.5L243 191M238.1 210.1L220.3 192.4M229.5 196.7L220.3 192.4L224.7 201.5M224.8 221.9L199 213.8M209.7 213.4L199 213.8L207.6 220.3M213.7 233.6L177.1 223.9M190.8 222.7L177.1 223.9L188.4 231.8M201 247.5L151.9 224.3M165.7 225.6L151.9 224.3L161.7 234.1M190 261.2L156.6 260.2M168.7 256.2L156.6 260.2L168.5 264.9M182.8 277.7L147.5 265.8M161.4 265.6L147.5 265.8L158.4 274.4M176.4 294.2L125.3 291.8M138.5 287.7L125.3 291.8L138 297M171 309.2L135.7 321.2M146.5 312.6L135.7 321.2L149.5 321.5M170.4 325.8L155.2 338.5M159.5 331.2L155.2 338.5L163.1 335.6M170.8 344.6L162 360.7M163.2 352.8L162 360.7L168 355.4M169.9 363.7L165.9 376.6M165.6 370.2L165.9 376.6L169.8 371.5M173.9 378.3L171.7 384.7M178.7 397.9L177.7 400.2M337.9 482.2L342.5 483.2M355.6 477.7L359 477.2M370.7 475.4L371.8 475.1M441.5 423.6L444.5 424.5M451.4 408.3L457.9 410.1M459 390.7L465.6 391.3M462.8 375.9L470.1 364.1M468.7 370.5L470.1 364.1L465 368.1M467.4 357.4L465.4 332M469.6 341.4L465.4 332L462.7 341.9M466 340.6L452.7 307.9M461.7 317.8L452.7 307.9L453.3 321.3M466.6 320.7L469.8 289.9M472.7 301.6L469.8 289.9L464.6 300.7M461.9 303.1L465.1 274.5M467.7 285.5L465.1 274.5L460.1 284.6M457.9 288L466 261.2M466.6 272.2L466 261.2L459.5 270.1M447.3 272L448.9 258.4M450.3 264.7L448.9 258.4L446 264.2M416.2 231.4L416 227.9M400.1 220.1L397.6 193.5M402.1 203.1L397.6 193.5L394.9 203.8M386.1 214.1L383.4 194.3M387.3 201.9L383.4 194.3L381.6 202.6M368.7 208.5L368.6 182.9M372.1 192.6L368.6 182.9L365.1 192.6M352.5 203.7L343 159M350.2 170.7L343 159L341.1 172.7M334.6 202L317.3 158.3M326.4 168.6L317.3 158.3L317.7 172.1M317.6 201L315.8 165.6M321 178L315.8 165.6L311.9 178.4M297.3 204L277.6 154M286.7 164.3L277.6 154L278 167.8M282.9 207.2L249.1 166.8M261 173.7L249.1 166.8L253.8 179.7M264.7 213.3L227.7 189M241.1 192.2L227.7 189L235.9 200M248.7 222.4L233.3 213.2M241 214.7L233.3 213.2L238.3 219.3M237.3 234L224.4 229.8M230.8 229.6L224.4 229.8L229.5 233.8M224.3 245.3L203.3 240.8M212.2 239.6L203.3 240.8L210.9 245.6M213.1 258.7L176.4 246.8M190.2 246.4L176.4 246.8L187.3 255.3M204.2 274.9L168 260.1M181.8 260.7L168 260.1L178.3 269.4M195.3 289.3L151 277.6M164.7 276.4L151 277.6L162.3 285.4M188.8 308.4L132.9 320.1M144.7 312.9L132.9 320.1L146.6 322M188.5 324.8L164.6 343.7M170.9 333.7L164.6 343.7L175.8 340M184.8 343.3L176.7 361.3M177.4 352.9L176.7 361.3L182.6 355.2M186 360.5L177.6 384.4M177.5 374.2L177.6 384.4L184 376.5M191.6 378.8L181.5 398.4M182.7 389.3L181.5 398.4L188.2 392.2M198 393.9L191.1 409.6M191.6 402L191.1 409.6L196.3 404.1M302 480.7L304.5 482M320.7 480.9L325.7 483.1M420.4 421.4L420.8 418.5M430 409.9L432.6 404.6M437.6 394.1L448.4 385.6M444.9 391.1L448.4 385.6L442.2 387.7M443.4 376.2L453.6 365.3M450.9 371.6L453.6 365.3L447.5 368.4M448.7 360.8L451.5 339.9M453.4 348.5L451.5 339.9L447.5 347.7M451.6 341.6L434 307.6M444.1 317L434 307.6L435.8 321.3M447.7 324.9L439.7 301.9M445.9 309.6L439.7 301.9L439.6 311.8M445 308.3L438.7 276.9M445.1 287.4L438.7 276.9L436.9 289.1M439.9 288.9L439.7 266.5M442.9 275.2L439.7 266.5L436.6 275.2M431.4 276.2L430.6 270.3M407.3 246.7L408.8 243.7M392.4 237.5L401.7 216.8M401 226.2L401.7 216.8L395.2 223.6M380 228.6L389.9 208.6M388.8 217.8L389.9 208.6L383.2 215M363.3 221.8L374.2 190.8M374.3 203.4L374.2 190.8L366.2 200.5M343.4 218.3L348.4 170.7M351.7 184.2L348.4 170.7L342.4 183.2M325.7 217.7L328.7 167.7M332.6 181L328.7 167.7L323.3 180.4M308.9 219.9L310.5 172.3M314.7 185.4L310.5 172.3L305.3 185.1M291.4 223.4L270.8 194M281.9 201.8L270.8 194L274.4 207.1M274.6 229.1L235.7 214.9M249.5 215L235.7 214.9L246.3 223.8M259.4 237.9L227.9 215.7M241.2 219.3L227.9 215.7L235.8 227M244.8 247.8L220.5 244.2M230.2 242.2L220.5 244.2L229.2 248.9M233.2 261L204 262.8M214.5 258.3L204 262.8L215 266M224.2 274.3L210.5 273.6M216.7 271.7L210.5 273.6L216.5 276.2M214.2 290.5L200.4 291.5M206.4 288.8L200.4 291.5L206.7 293.3M208.1 304L181.6 317.2M189.6 308.8L181.6 317.2L193.1 315.9M204.9 321.4L167.2 335.1M177.8 326.2L167.2 335.1L181 335M204.2 339.6L172.2 363.7M179.8 352.1L172.2 363.7L185.4 359.6M202.8 357L182.8 379.5M187.2 368.6L182.8 379.5L193.1 373.9M206.8 373.9L194.9 400.7M195.7 389.3L194.9 400.7L202.8 392.4M212.3 391.4L210 397.1M290.2 458.1L293.6 460.2M307.2 464.4L312.1 467.2M325 465.8L329 467.9M398.1 421.8L398.1 419.2M408 407.8L408.9 394.6M410.6 400.7L408.9 394.6L406.4 400.4M419.3 395.9L421.4 389.5M426.7 377L437.9 361.3M435.7 369.3L437.9 361.3L431.1 366M432.7 361L437.6 342.4M438.3 350.7L437.6 342.4L432.9 349.2M433.8 342.6L428.4 317.8M433.8 326.4L428.4 317.8L427.1 327.9M431.1 325.5L429.2 320.1M427 308.7L426.3 306M422.8 291.7L422.1 289.1M388.6 254.2L389.4 248.8M373.3 245.4L373.5 224.8M376.3 233L373.5 224.8L370.4 233M356.8 239.2L346.4 206.6M354.4 217L346.4 206.6L346 219.6M336.9 234.3L343.9 196.1M346.1 209.7L343.9 196.1L336.9 208M320.5 232.9L322.8 195M326.7 208.3L322.8 195L317.3 207.7M301.9 237.6L285.1 205.5M295.2 214.7L285.1 205.5L287 219M285.3 241L269 221.7M277.8 226.8L269 221.7L272.5 231.2M269.4 250.8L244.9 235.3M256 237.8L244.9 235.3L251.9 244.3M257.8 259.9L205.6 253.8M219 250.7L205.6 253.8L217.9 260M243.7 274.5L209 266.9M222.4 265.1L209 266.9L220.4 274M234.9 288.8L217.4 292.1M224.1 288.2L217.4 292.1L225.1 293.4M227.7 302.6L225.5 303.2M220.3 320L208.9 327.9M212.7 322.6L208.9 327.9L215.2 326.2M221.2 337.6L210.5 357.9M211.8 348.5L210.5 357.9L217.5 351.5M221.6 356.8L214.8 379.6M214.3 369.9L214.8 379.6L220.6 371.8M224.1 371.4L210.2 391.5M212.7 381.9L210.2 391.5L218.2 385.7M232.2 390.3L231.4 392.2M385.3 407.1L385.3 405.3M396.9 395.9L397.1 389.4M408.9 380.8L410.9 374.7M414.6 364.8L417 359.6M393.6 279.7L389.4 282.2M379.3 269.1L360.7 277.5M366.9 271.5L360.7 277.5L369.3 276.8M365.8 258.5L342.8 268.5M350.2 261.6L342.8 268.5L352.9 267.9M347.8 253.4L324.6 241.2M335 242.6L324.6 241.2L331.7 248.9M332 249.7L305.2 234.1M317 236.3L305.2 234.1L312.9 243.3M315.6 252.2L290.4 244.1M301 243.7L290.4 244.1L298.8 250.5M298.2 255.1L279.8 247.1M288.3 247.7L279.8 247.1L286 253M279.5 263L257.9 264.8M266.1 261L257.9 264.8L266.6 267.1M266.9 272.2L232.1 266.8M245.2 264.3L232.1 266.8L243.8 273.2M254.2 285.3L208.2 306.9M218 297.1L208.2 306.9L222 305.6M247 301.8L224.7 306M232.7 301.2L224.7 306L233.9 307.5M240.9 318.2L238 319.7M236.7 334.2L235.8 335.3M238 354.7L235.4 359.3M241 369.1L238.7 373.7M388.9 381.7L388.9 379.4M387.5 298.1L372.9 308.1M377.4 301.8L372.9 308.1L380.4 306.1M372.7 286L339.2 312.2M346.5 300.5L339.2 312.2L352.3 307.9M358.2 274.8L312.6 314.6M319.3 302.5L312.6 314.6L325.5 309.6M342.7 271.1L279.7 292.5M290.5 283.9L279.7 292.5L293.5 292.7M325.6 269.3L261.4 299.3M271.2 289.6L261.4 299.3L275.2 298.1M308.7 269L275 294.5M282.6 282.9L275 294.5L288.2 290.4M291.6 275.3L249 284.2M260.8 277L249 284.2L262.7 286.1M278.1 285.9L225.5 301.4M236.7 293.3L225.5 301.4L239.3 302.2M264.7 299.2L207.8 321.1M218.2 312L207.8 321.1L221.6 320.8M259.1 316.3L223.7 329.7M234.2 320.8L223.7 329.7L237.5 329.5M254.5 334.7L253.2 335.6M376.2 317.4L372.5 319.8M366.1 300.8L349.3 316.2M353.6 307.9L349.3 316.2L357.9 312.6M352.7 292.7L315.9 330.3M321.7 317.7L315.9 330.3L328.4 324.3M337.9 285.6L296 308.2M305.3 297.9L296 308.2L309.7 306.2M317.3 284.6L266.3 331.6M272.7 319.4L266.3 331.6L279.1 326.3M300.7 291.2L264.5 330.6M269.8 317.9L264.5 330.6L276.7 324.2M286.6 299.1L250.9 338.3M256.2 325.5L250.9 338.3L263.1 331.8M276.3 315.9L227.3 335.5M237.6 326.3L227.3 335.5L241.1 335M271.8 329.9L246.9 346.1M254 336.9L246.9 346.1L258.2 343.4M360.9 319.6L346.4 329.4M350.9 323.2L346.4 329.4L353.9 327.5M347.8 306L325.6 332.6M330.1 320.2L325.6 332.6L337 326M328.4 301.9L270.9 331M280.4 320.9L270.9 331L284.6 329.3M311 304.3L260.2 321.8M271 313.1L260.2 321.8L274.1 322M297.7 315.3L268 352.6M272.4 339.5L268 352.6L279.7 345.4M289.8 327.9L264.6 339.2M272.5 331.6L264.6 339.2L275.5 338.4M288.7 345.9L286.7 348.2M341.5 322.1L324.3 331.5M329.9 325.2L324.3 331.5L332.6 330.2M323.3 316.9L294.2 348.3M299.6 335.6L294.2 348.3L306.5 342M309 328.6L286.5 341.3M293.2 333.5L286.5 341.3L296.7 339.6M304.2 345.7L301.6 348.9M332.1 341.5L330.1 343.2M321.7 343L319.1 345.4M379 253.6L400.4 220.1M397.3 233.6L400.4 220.1L389.4 228.6M358.2 244.1L354.3 205.8M360.3 218.2L354.3 205.8L351 219.2M335.9 239.4L334 180.3M339.1 193.2L334 180.3L329.8 193.4M313 239.9L280.8 198.6M292.5 205.9L280.8 198.6L285.1 211.7M290.9 245.4L258.6 194.9M269.5 203.3L258.6 194.9L261.6 208.3M270.5 255.7L225.5 216.5M238.4 221.5L225.5 216.5L232.2 228.6M252.9 270.3L213.7 229.5M226.1 235.6L213.7 229.5L219.3 242.1M388.3 288.7L422.5 264.7M414.6 276L422.5 264.7L409.2 268.3M371.1 273.4L401.3 232M397.4 245.3L401.3 232L389.9 239.7M350.2 263.5L356.8 226.2M359.1 239.8L356.8 226.2L349.9 238.2M327.4 260L309.1 225.9M319.4 235.1L309.1 225.9L311.1 239.5M304.6 263L266.6 231.3M279.6 236.1L266.6 231.3L273.6 243.2M283.5 272.4L251.3 251.7M264.8 254.8L251.3 251.7L259.7 262.6M265.9 287.3L235.9 256.1M248.3 262.2L235.9 256.1L241.5 268.7M378.5 311.1L417.2 293.8M407.2 303.3L417.2 293.8L403.4 294.8M363.1 293.4L364.6 251.6M368.8 264.8L364.6 251.6L359.4 264.5M342.1 283.1L323.9 244.1M333.7 253.9L323.9 244.1L325.2 257.8M318.7 281.5L281.6 236.6M293.5 243.6L281.6 236.6L286.3 249.6M296.6 289L273 257.5M284.5 265.1L273 257.5L277 270.7M278.9 304.4L222.4 290.6M236.2 289.2L222.4 290.6L234 298.3M268.6 325.4L213.4 332.3M225.7 326.1L213.4 332.3L226.9 335.4M359.9 320.9L392.6 294.2M385.5 306L392.6 294.2L379.5 298.8M343.7 306L326.6 270M336.4 279.8L326.6 270L328 283.8M322.1 302.3L287.9 278.8M301.3 282.3L287.9 278.8L296 290M301.8 310.8L260.6 274.5M273.4 279.6L260.6 274.5L267.3 286.6M289.4 328.9L246.3 310.1M260.1 311L246.3 310.1L256.4 319.6M335.8 325.6L294.2 312.9M308 312.2L294.2 312.9L305.3 321.2M314.7 327.4L268 302.2M281.7 304.2L268 302.2L277.2 312.5" fill="none" stroke="#000" stroke-width="1.45" stroke-linejoin="miter"/><circle cx="326.5" cy="341" r="274.3" fill="none" stroke="#000" stroke-width="2.9"/><g font-size="21.7" fill="#111"><text x="326.5" y="62" text-anchor="middle">60W</text><text x="182.5" y="100" text-anchor="end">30W</text><text x="469.2" y="100" text-anchor="start">90W</text><text x="79" y="205" text-anchor="end">0</text><text x="571.5" y="205" text-anchor="start">120W</text><text x="41" y="348.5" text-anchor="end">30E</text><text x="611" y="348.5" text-anchor="start">150W</text><text x="79" y="491" text-anchor="end">60E</text><text x="571.5" y="491" text-anchor="start">180</text><text x="184" y="596" text-anchor="end">90E</text><text x="469" y="596" text-anchor="start">150E</text><text x="326" y="634" text-anchor="middle">120E</text></g><g><rect x="610.1" y="368.5" width="44" height="34.1" fill="#fff" stroke="#222" stroke-width="1.1"/><text x="632.1" y="382.9" font-size="17.3" text-anchor="middle" fill="#111">1.5</text><path d="M610.1 392.5L653.1 392.5" stroke="#000" stroke-width="1.3" fill="none"/><path d="M642.6 388.5L653.6 392.5L642.6 396.5" stroke="#000" stroke-width="1.5" fill="none" stroke-linejoin="miter"/></g></g>
<g><clipPath id="clipB"><circle cx="1078" cy="340.7" r="274.3"/></clipPath><g clip-path="url(#clipB)"><path d="M910.2 270.2L909.9 264.2L910.6 258.3L912.2 251.5L915 244L918.5 236.8L923.3 229.2L928.1 222.8L934.2 216.2L942 208.4L951 200.5L959.6 193.6L969.4 186.8L979.6 180.4L991 174.2L1000.9 169.4L1010.2 165.7L1019.7 162.7L1031.4 159.8L1042.2 157.8L1052.1 156.6L1072.1 155.9L1082.1 156.5L1093 157.7L1102.9 159.5L1110.6 161.6L1118.1 164.3L1126.3 168.1L1133.2 172.1L1139.5 176.9L1144.5 181.9L1147 186L1147.3 188.8L1145.9 192.1L1143 194.7L1139.5 196.5L1111.7 204.8L1082.4 211.2L1075 214.1L1054.6 226.6L1035.9 236.3L966.1 283L955.8 289.1L948.5 292.4L940.8 294.5L933.9 295.3L928 294.6L923.4 292.7L918.8 289L915.2 284.2L911.9 277Z" fill="#fff1bc"/><path d="M934.1 332.9L935.7 328.2L938.7 323L943 317.5L948 312.7L976.2 291.9L1003.9 268.8L1029.3 249.2L1035.1 245.3L1041.3 242.1L1053.4 237.1L1066.8 233L1076.6 231.4L1085.6 231.4L1093.4 233L1100.6 236.4L1106.6 241.7L1111 248.3L1112.8 253.9L1112.3 259.8L1110.1 265.3L1105.8 270.7L1102 274L1096.9 277.2L1060 295.1L1053.3 299.4L1049 303.6L1043.1 310.4L1015.6 344.8L1006.6 352.7L996.2 358.8L985.9 362.6L974.1 364.3L968.1 364.3L963.1 363.7L953.6 360.8L949.1 358.6L944.9 355.9L941.1 352.6L937.9 348.8L935.5 344.5L934.2 340.7L933.7 336.8Z" fill="#bcf9ff"/><path d="M979 417.7L979.5 411.7L981.2 406L984.1 399.6L988.3 392.8L993.7 385.6L1015.6 359.5L1026.1 344.9L1036 329.9L1043.1 321.5L1047.7 317.6L1052 315.1L1056.7 313.4L1060.6 312.7L1065.6 312.7L1071.5 313.7L1076 315.7L1079.8 318.8L1082.7 322.8L1084.6 327.4L1085.8 333.2L1086.4 341.2L1086.8 352.2L1086.4 364.2L1085.4 375.2L1083.8 383L1079.2 396.2L1071.9 413.8L1066.7 424.6L1052.5 448.8L1049 453.6L1044.9 458.1L1041.1 461.4L1037 464.1L1033.4 465.8L1029.5 466.6L1025.6 466.7L1021.7 466.1L1017.9 464.7L1013.5 462.4L1007 457.8L1000.3 451.7L995.7 446.5L985.1 433.1L982.3 429L980.5 425.4L979.4 421.6Z" fill="#fff1bc"/><path d="M1094.4 345.3L1094.7 342.4L1095.7 339.7L1098.9 334.6L1104.6 329L1111.3 324.9L1118.9 322.3L1125.8 321.6L1131.7 322.3L1139.3 324.9L1146.3 328.6L1153.6 333.9L1163.3 342.5L1168.3 348.7L1172.3 356.7L1174.9 366.4L1175.7 374.3L1174.5 380L1171.9 384.2L1168.2 387.5L1162.8 389.9L1155.9 391.3L1149 391.7L1142 391.1L1133.2 389.3L1125.7 386.7L1120.4 383.8L1115.6 380.2L1109.1 374.1L1103.8 368L1100.5 363L1097 355.9L1095 350.2Z" fill="#bcf9ff"/><path d="M1144.4 282.7L1145.3 276.9L1149 269.9L1155.1 261.9L1161.9 256L1168.1 252.9L1174.9 251.5L1177.8 251.7L1180.6 252.6L1185.7 255.6L1191.2 261.4L1195.1 268.3L1200.1 281.4L1203 293.1L1204.3 303L1204.1 310L1202.1 317.7L1198.3 324.7L1195.5 327.5L1192.4 329.9L1188.8 331.7L1185 332.7L1181 333L1176.1 332.3L1172.3 331L1169 329L1163.8 322.9L1153.7 306.8L1146.5 291.4L1144.9 286.7Z" fill="#fff1bc"/><path d="M1215 353.8L1215.8 351L1218.7 348.3L1221.5 347.6L1224 348.8L1226 352.3L1227 357.2L1226.6 362.2L1225.1 364.8L1223.5 365.9L1221.7 366.1L1219.8 365.5L1218.3 364.3L1216.1 359.8Z" fill="#bcf9ff"/><path d="M1073.1 490.7L1075.3 488.9L1078 487.7L1096 481.7L1103.5 478.7L1126.8 467.2L1136.9 460.7L1142 455.9L1145.8 450.1L1149.9 441L1153.4 429.5L1155.1 425.9L1158.3 422.3L1163.6 419.6L1170.4 418.8L1180.3 420.3L1199.4 426.4L1214.8 430.7L1229.5 433.7L1242.4 435.2L1244.9 436.2L1246.3 438.1L1245.9 441.6L1241.9 449.6L1227.4 472.4L1215.5 487.3L1201 502.4L1188.4 512.4L1169.8 524.1L1153.6 532L1137.6 537.9L1127.9 540.3L1117 541.7L1111.1 541.5L1106.6 539.7L1104.5 537.7L1102.9 535.2L1102 532.5L1100.5 524.6L1097.9 519.3L1092.2 512.4L1085.3 505.2L1081.3 502.2L1075.1 499.1L1073 497.3L1072.1 495.7L1071.8 493.9L1072.2 492.2Z" fill="#fff1bc"/><path d="M1240.4 282.6L1241.4 279.9L1243.9 276.9L1246.3 275.2L1250 273.9L1253.9 273.7L1256.8 274.2L1259.6 275.4L1262.7 277.8L1266.7 282.3L1271.8 289.8L1275.8 296.8L1279.1 304.1L1280.6 308.9L1281 312.8L1280.2 316.6L1278.7 319L1277.3 320.2L1274.6 321.2L1271.7 321.4L1268.8 320.8L1262.6 317.7L1255.5 312L1248.8 304.6L1244.5 297.8L1240.8 288.4L1240.3 285.5Z" fill="#bcf9ff"/><path d="M935.2 472.8L935.4 468.8L936.4 466L938.8 462.9L941.3 461.3L944.2 460.5L947.1 460.7L949.9 461.6L953.3 463.7L955.3 465.9L957.3 469.4L962.5 482.4L967 491.3L967.7 496.2L966.9 499L965.7 500.5L962.3 502.4L960.4 502.7L957.5 502.4L952 499.9L946.4 495.7L942.4 491.2L939.3 486.1L936.4 478.6Z" fill="#bcf9ff"/><path d="M922.8 260.2L922.6 256.2L923.4 251.3L925.6 244.7L928.8 237.4L936.7 224.6L946.8 212.2L955.6 204L967.9 195.3L984.2 185.6L997.8 179.2L1012.9 173.9L1027.5 170.6L1046.4 168.6L1062.4 168.6L1078.2 171.1L1085 172.9L1089.6 174.7L1094 177.2L1097.9 180.3L1101.2 184L1103.1 187.4L1103.7 191.1L1103 193.8L1101.2 196.1L1098.1 198.4L1092.7 201.1L1083.2 204.1L1078.6 206.1L1057.2 219L1040.3 227.7L983.7 265.5L974.2 271.1L966.9 274.5L958.4 277.3L950.5 278.7L943.5 278.7L937.7 277.6L933.2 275.4L928.8 271.5L924.8 265.7Z" fill="#ffd699"/><path d="M948 332.8L948.9 329.1L952.1 324.1L958.6 316.5L967.2 308.2L1015.7 267.8L1026.1 260L1036.3 253.7L1045.2 249L1054.4 245.2L1063.1 242.7L1070.9 241.4L1077.9 241.6L1084.7 243.3L1089 245.7L1092.1 249.4L1093.7 254L1093.5 259.9L1091.2 265.4L1087.7 270.1L1081.4 275.1L1056.4 289.8L1046.6 296.7L1041.8 301.7L1016.4 334L1009.9 340.2L1003.4 344.8L994.3 348.9L983.7 351.8L973.8 353.1L965.9 352.4L958.4 349.7L955.1 347.5L953 345.4L950.7 342.2L949 338.6L948.2 335.8Z" fill="#99eaff"/><path d="M1004.1 412.7L1005.2 404.8L1008.4 396.4L1018.9 380.6L1035.7 351L1045.1 335.7L1047.8 332.7L1050.8 330.2L1057 327.1L1059.9 326.6L1062.9 326.7L1066.6 327.9L1069.1 329.4L1071.2 331.5L1073.2 334.8L1074.3 338.6L1075.2 344.6L1075.6 358.6L1074.2 376.5L1072 388.3L1068.2 400.7L1062.4 414.6L1057.3 423.1L1050.8 429.3L1043.8 433.1L1036.1 435L1032.1 435.2L1028.2 434.7L1024.4 433.5L1019 430.9L1013.9 427.8L1009.9 424.8L1007.3 421.8L1005.7 419.3L1004.7 416.6Z" fill="#ffd699"/><path d="M1104.4 345.4L1105.9 341.8L1108.3 338.6L1111.4 336.2L1115.9 334.2L1120.8 333.1L1125.8 333L1130.8 333.5L1136.6 335L1141.2 336.9L1146.4 339.9L1151.9 344.2L1156.1 348.5L1158.4 351.8L1159.9 355.5L1160.6 359.4L1160.2 363.2L1159 365.8L1156.2 368.5L1152.7 370.2L1148.8 371.3L1139.9 371.5L1129.1 369.2L1124.4 367.4L1119.1 364.6L1109.4 357.4L1106.8 354.5L1104.8 351.1L1104.2 348.3Z" fill="#99eaff"/><path d="M1155.7 292.8L1156.6 290L1158.5 286.6L1160.4 284.4L1163.7 282.2L1167.4 280.9L1171.3 280.5L1174.2 281L1177.9 282.5L1181.1 284.8L1184.6 288.3L1187.5 292.3L1189.3 295.9L1190.3 299.7L1190.7 303.7L1190.3 307.6L1188.9 311.3L1185.8 315L1182.4 316.6L1179.5 316.8L1176.6 316.3L1171.1 314.1L1164.7 309.4L1158.5 302.9L1155.9 297.6Z" fill="#ffd699"/><path d="M1110.8 498L1112.7 494.8L1119.4 488.8L1151.4 463L1159 458.3L1167.5 455.4L1172.4 454.7L1176.4 454.7L1180.2 455.5L1182.8 456.9L1185 458.8L1186.7 461.2L1187.9 464.8L1187.9 469.8L1186.6 474.6L1184.5 479.1L1181.1 484L1177 488.3L1173 491.3L1167.7 494.1L1159.4 497.6L1150.7 500.1L1122.2 505.2L1117.3 505.1L1113.6 504L1111.1 501.4L1110.6 499.7Z" fill="#ffd699"/><path d="M932.9 260.2L932.8 256.2L933.4 251.3L936.6 239.7L940.9 230.7L947.8 220.9L955.3 212.9L965.3 204.6L977 197L991 189.3L1003.9 183.7L1017.3 179.6L1032.9 176.1L1045.8 174.8L1057.8 175.3L1067.5 177.5L1072 179.5L1075.4 181.7L1078.2 184.5L1079.8 186.9L1081.1 191.6L1080.2 196.2L1077.4 200.3L1072.1 204.8L1064.4 209.4L1043.8 219.6L1032.4 225.8L1022.2 232.1L993.9 251L971.2 263.7L964.8 266.5L957.2 268.9L950.3 270.1L944.4 270.2L939.6 269L936.3 266.9L934 263.9Z" fill="#ff7856"/><path d="M960.6 332.8L961.1 329L963.2 324.5L967.7 317.9L973 311.9L984.1 301.9L1019.4 272.4L1030.6 263.9L1039 258.5L1047.7 253.6L1054.1 250.7L1060.7 248.6L1065.6 247.8L1069.5 248.2L1074.1 249.9L1077 252.4L1078.5 255.9L1078.7 259.8L1077.7 263.5L1075 267.6L1068.2 273.6L1052 283.3L1041.8 291.4L1036.4 297.2L1012.3 327.9L1006.7 333.6L1001.2 338L995.2 341.5L987.7 344.2L980.8 345.5L973.9 345.4L969.2 343.9L965.2 341.1L962 337.3Z" fill="#56b0ff"/><path d="M1021.6 407.7L1022.7 400.8L1026.1 390.3L1046.5 342.4L1049.8 337.4L1054.2 333.4L1057.6 332L1061.1 332.8L1064.3 336.2L1066.3 341.8L1067.5 350.7L1067.9 362.7L1067.2 375.8L1065.5 388.7L1063.5 396.4L1060.4 403.8L1056.1 410.5L1050.6 416.3L1044.8 420.1L1039.1 421.6L1032.2 421.1L1028.5 419.7L1026 418.1L1024 416L1022.5 413.4L1021.8 410.6Z" fill="#ff7856"/><path d="M1115 348L1116.9 345.1L1120.3 343.2L1125.1 342.2L1131.1 342.6L1137.8 344.4L1143.1 347.1L1145.7 349.9L1146.4 351.6L1146.4 353.3L1145.3 355.7L1142.3 357.8L1137.5 358.8L1131.5 358.5L1123.8 356.4L1118.4 353.9L1115.7 351.3L1115 349.7Z" fill="#56b0ff"/><path d="M939.2 257.6L939.6 250.8L942 242.1L945.4 234.9L950.6 227.6L957.4 220.2L966.4 212.4L976.2 205.4L986.6 199.4L999.4 193.6L1012.6 188.9L1026.1 185.4L1039.9 183L1049.9 182.7L1058.8 183.9L1065.2 186.5L1067.5 188.3L1069.2 190.5L1069.8 193.1L1068.8 196.7L1065.8 200.6L1061.9 203.7L1051.5 209.6L1025.5 222.6L994.6 243L975.5 253.9L958.3 262L954.6 263.3L950.7 264L946.7 263.8L943 262.6L940.2 260.2Z" fill="#f72735"/><path d="M969.3 331.5L969.9 327.7L971.9 323.2L975.7 317.3L979.6 312.8L991.5 302L1030.7 269.3L1041.6 262.2L1056 255.2L1059.9 254.3L1063.8 254.2L1066.5 255.1L1068.4 256.9L1069.3 259.5L1069.2 262.3L1068.2 265L1066.6 267.5L1061.4 272.1L1045 283.5L1039.8 288.2L1031.5 298.2L1015.3 321.1L1009.4 328L1004.3 332.7L999.3 336L992.9 338.8L987.1 340.3L981.1 340.8L976.3 340L972.9 338.1L970.4 335.2Z" fill="#2857ff"/><path d="M1036.6 385.1L1036.8 379.1L1037.7 373.1L1039.4 367.4L1041.8 361.9L1044.7 357.8L1047.7 355.3L1050.3 354.5L1053.9 355.3L1056.1 357.1L1058.2 360.5L1059.3 364.3L1060 369.2L1060.1 374.3L1059.7 379.2L1058.4 384.1L1056.8 387.7L1054.4 390.9L1051.4 393.5L1047.8 394.9L1043.9 395L1040.4 393.6L1038.4 391.6L1037.1 389Z" fill="#f72735"/><path d="M953.2 250.1L953.7 246.4L956.8 240.1L960.8 234.4L965.6 229.4L972.5 223.5L980.5 217.6L1000.4 205.9L1008.5 202.1L1017.9 198.6L1027.5 195.8L1037.3 193.7L1045.2 192.8L1052.2 193L1056 193.9L1057.5 194.9L1058.5 196.2L1058.7 197.8L1057.9 200.3L1056.1 202.6L1053.8 204.4L1023.7 220.1L997.5 236.8L968 253.8L962.5 255.9L958.7 255.7L956.1 254.6L954.7 253.4Z" fill="#d8152f"/><path d="M976.8 327.8L977.7 324L979.9 319.6L982.7 315.4L986.6 310.9L997.6 300.6L1021.5 280.7L1035.8 269.6L1045.9 263.2L1050.5 261.1L1053.3 260.5L1056 260.9L1057.4 261.7L1058.2 263.1L1058.4 265.8L1057.5 268.6L1055.5 272L1052.8 274.8L1044.1 281.6L1039.2 286.6L1033.4 293.5L1018.6 313.7L1010.7 322.8L1005.6 327.6L1000.7 331L995.2 333.6L990.5 335.1L985.6 335.7L981.7 335L979.3 333.6L977.5 331.5Z" fill="#181cf7"/><g fill="none" stroke="#a030e6" stroke-width="0.95" stroke-dasharray="4 4.8"><circle cx="1078" cy="340.7" r="250.9"/><circle cx="1078" cy="340.7" r="188.8"/><circle cx="1078" cy="340.7" r="135.4"/><circle cx="1078" cy="340.7" r="87.6"/><circle cx="1078" cy="340.7" r="43.1"/><path d="M840.4 203.6L1002.1 296.9"/><path d="M803.7 340.7L990.4 340.7"/><path d="M840.4 477.9L1002.1 384.5"/><path d="M940.9 578.3L1034.2 416.6"/><path d="M1078 615L1078 428.3"/><path d="M1215.2 578.3L1121.8 416.6"/><path d="M1315.6 477.9L1153.9 384.5"/><path d="M1352.3 340.7L1165.6 340.7"/><path d="M1315.6 203.6L1153.9 296.9"/><path d="M1215.2 103.1L1121.8 264.8"/><path d="M1078 66.4L1078 253.1"/><path d="M940.8 103.1L1034.2 264.8"/><path d="M1002.1 296.9L1078 340.7"/><path d="M1034.2 416.6L1078 340.7"/><path d="M1153.9 384.5L1078 340.7"/><path d="M1121.8 264.8L1078 340.7"/></g><path d="M877.2 150.1L884.7 150.1L887.7 149.8L897.7 149.4L900.9 152.1L907.6 154.7L908.7 161.7L912.3 167.4L916.9 173.3L924.7 176.3L929.6 187.1L932.5 197.8L933.9 205.4L932.3 213.6L931.9 218.1L933.9 221.1L937.3 223.5L939.8 230.4L939.1 236.1L942.3 242.1L941.7 244.2L936.1 248.6L933.9 250.7L934 255.5L933.5 260.6L932.1 266.4L929.6 271.5L927.9 277L925.9 281.1L925.9 285L923.8 287.6L922.3 285.6L919.4 285.2L916.2 284.4L914.2 281.4L911.4 283.7L908.8 285.7L907.7 289.3L904.4 294.2L900.6 295.2L898.8 298L894.5 303.4L895.5 308.2L899.8 309.6L901.9 312.8L901.2 317.4L898.1 321.8L895.9 324.8L894.4 331.1L892.6 337.5L893.7 340.4L895.3 343.9L894.3 348.1L893.7 352L894.6 354.5L897.7 355.8L900.4 356.2L904.6 357.4L908.3 358.2L910.4 357.7L914.5 358.5L914.3 356.5L914.8 353.8L912 349.4L913.3 346.5L914.6 342.7L912.1 339.3L914 335L915.1 333L918 332.9L920.2 331L922.3 332L924.1 330.5L925.9 330.6L927 334.1L927.3 338.1L929 338.6M929.7 338.4L929.7 343.3L932.6 348.3L933 353.9L930.9 356.9L930.4 361.4L931.1 365.8L934 370.3L937 369.4L938.4 367.8L939.5 364.4L941.9 359.8L943.7 357.9L944.4 356.2L947.2 359.1L951.2 361.2L950.3 357.7L947.8 352.8L945.1 352.3L943.2 353.4L940.9 350.3L941.5 349.1L944 346.5L946.1 349L947.6 345.3L947.5 342.3L943.2 340L939.9 337.6L936.6 335.5L934.3 334.4L932.2 335.6ZM929.2 338.1L929.1 334.2L927.5 332L928.3 330.2L929.3 326.1L926.8 324.3L928.4 322.1L926.8 321.1L924.2 321.8L921.7 322.3L919.4 324L919.1 323.2L917.9 321L914.3 321.2L914.6 318.9L916 317.1L919.3 316.4L921.5 316.2L919.8 320.7L921.7 317.3L923.7 315.4L926.8 314L929.8 313L933.2 313.9L936.7 311.9L940.1 308.9L943.6 305.9L948.1 304.7L947.7 302.6L949.9 303.2L950.2 299.9L947.6 299.3L943.6 300.9L939.6 301.5L936.3 305.9L933.2 307L928.9 310.4L928.5 308.9L931 307.3L928.7 305.1L926 305.9L924.3 303.8L923.1 301.2L926.6 303.2L930.3 302.8L933.9 299.9L936.1 297.3L938.7 296L941.6 294L945.7 293.3L948.1 292.9L949.8 291.2L949 288.6L949 286.7L948.1 284.5L949.6 281.9L951.7 279.1L951.3 276.1L949.3 275.7L947.4 271.8L947.3 267.7L944.8 262.9L941.7 262.7L940.7 259.5L939.9 258.1L939.1 253.3L942.6 248L942.5 244.4L945.2 243.1L948.4 243L949.5 240.3L951.3 238.1L954.5 241.4L956.7 241L959.9 245.4L962.2 248L965.5 249.9L968 250.6L967.6 253.2L966.1 256.4L964.2 258.9L961.3 262.5L958.3 266.5L961.1 269.6L963.7 271.8L965.6 272.6L968.2 272.1L969.8 272.6L971.6 271.6L973.9 269.4L976 269.8L975.5 272.9L973.4 275.3L972.9 276.3L975.8 277.8L974.4 278.2L973.4 280.6L973.5 283L975.7 285.8L975.5 288.2L976.8 291.3L978.8 293.8L979.4 295.5L978.5 298.4L978.2 300.6L978.9 302.3L982 303.1L983.7 303L986.7 304L988.1 305.5L988.7 309.2L985.3 307.7L984.4 308.3L982.1 305.6L981.1 304.7L979.2 305.1L977.6 305.9L977.6 308.1L977.6 311L975.4 311.9L975.8 315.2L976.5 319.1L975 320.1L974.9 322.3L978.3 325.1L980.8 325.3L984 326.8L984.1 328.5L981.8 329.4L981.9 330.9L984.7 331.6L986.7 330.3L988.5 330.5L989.2 332.6L989.3 335.3L988.9 337.6L990.1 341L991.3 339.2L992.5 338.8L992 336.2L991.3 333.1L990.4 329.9L992.4 328.7L994.4 328.1L997.4 328.6L1000.7 329.1L1003.1 331.5L1005.7 334.9L1008.2 334L1008 331.1L1005.5 329.6L1003 327.9L1000.8 325L999.6 323.2L994.6 321.8L992 323.7L990.2 323.5L988.4 320L986.2 318.8L982.9 317.7L981.3 316.4L980.3 313.2L980.9 311L983.2 311L988 311.3L992.2 311.5L995 311.6L992.6 310.1L991.9 307.7L991.3 305.7L991.7 304.1L995.1 303.1L999.6 304.3L1003.6 306L1004.9 308.2L1006.6 312.6L1008.3 316L1010.5 318.8L1013 320.8L1014.8 323L1017 324.9L1017.9 326.3L1020.6 329.3L1021.6 331.8L1023 334.4L1023.7 336.7L1023.3 338.8L1021.5 341.7L1020.1 339.7L1019.5 341.7L1018.7 343.8L1017.7 347L1015.7 350L1013.6 353.4L1011.5 353.6L1009.5 350.3L1010.2 346.6L1011.8 343.6L1009.2 344.9L1005.5 346.8L1003 349.2L1002.9 351.2L1004.3 350.4L1005.7 351.5L1005.5 354.1L1008.1 353L1011.2 354.9L1010.6 357.5L1013.5 357L1017.1 355.6L1018.2 354.8L1017.8 358L1016.5 358.9L1013.9 358.5L1014.1 360.2L1016.9 361.2L1018.8 362.2L1021.4 364.7L1021 366.7L1022.9 368.8L1024.5 370.4L1027.6 370.4L1028.4 371.7L1028.5 374.1L1028.1 377.6L1029.2 379.5L1030.8 376.3L1033.7 373.8L1036.7 372.9L1039.8 371.6L1041.7 371.7L1041.5 374.1L1037.8 377.9L1033.3 381.6L1030.8 385.5L1027.7 386L1031.2 385.9L1035.1 383.6L1038.6 378.7L1042.7 375.4L1043.4 378.5L1044.6 379.1L1045.1 380.7L1044.7 384.1L1043.8 386L1046.8 382.8L1048.2 377.5L1053.1 377.6L1054.6 376.8L1059 376.4L1061.8 377.1L1064.8 377.1L1068.5 374.6L1069.6 377L1072.6 379L1073.5 380.6L1072.6 384.9L1070 386L1067.1 387.7L1069.9 386.8L1072.3 386.9L1073 387.9L1078 389.6L1080.6 389.5L1082.9 387.6L1085.1 388.5L1086.5 391.8L1086.6 394.7L1088.6 395L1089.4 392.1L1091 392.7L1093.7 391.9L1095.1 389L1095.7 386.9L1097.6 386.8L1100.4 386.7L1104.6 386.8L1107.2 387.4L1110.2 385L1114.3 385.5L1117 385.5L1118.7 382.8L1121.1 379.5L1124.8 379.3L1122.8 377L1126.5 373.4L1130.7 371.2L1134.1 369.3L1137 368.2L1140.2 365.8L1143.2 364L1146 368.2L1146.7 369.8L1144 372.2L1140.4 374.6L1142.7 376.6L1140.2 379.6L1140.9 380.8L1147.3 382L1145.3 387.8L1145.5 391.6L1145.6 396.4L1141 401.6L1139.3 404.2L1141.2 407.8L1141.8 410.3L1146 413.1L1146.7 417.6L1147.4 417.8L1147.9 424L1146.3 426.2L1147.4 433.8L1144.2 431.8L1139.8 427.1L1136.2 422L1134.7 416.5L1134.8 413.4L1134.7 409.5L1135.7 405L1135.8 401.6L1134.1 397.8L1134.6 401.4L1131 403.9L1127.8 406.8L1129.5 414.2L1126.1 417.6L1123.6 417.3L1120.1 420L1116.5 421.4L1113.4 423.2L1111.1 429.1L1108.4 434.3L1108.3 439.9L1109.9 442L1112.4 440.6L1115.7 442.7L1117.5 442L1118.4 445.8L1119.1 450.7L1120.4 455.4L1119.1 463.5L1116.5 470.6L1114.3 476.1L1110.1 479.9L1107.2 479.5L1104.8 482.8L1103.2 488.3L1099.2 491.7L1098.3 494.6L1101 496.7L1104.6 501.5L1105.5 505L1104.9 508.4L1101 510.5L1097.2 512L1096.9 506.2L1096.2 502.7L1096.5 500.9L1092.8 500.2L1091.3 499.3L1092.4 496L1089.5 493.1L1082.6 497L1081.5 494.9L1083.5 491.3L1080.6 490.4L1076.9 493.5L1072 496.6L1072.5 499.4L1075.8 500.9L1075.2 503L1078 502.3L1081.9 501.6L1085.3 502.5L1084.9 504.3L1078.9 507L1075.9 510.9L1078.9 515.3L1080.8 519L1084 523L1084.1 526L1080.9 528.3L1084.3 529.8L1083.4 535.2L1081.1 537.5L1076.6 545L1071 550.9L1065.6 555.6L1055.8 558.9L1053.1 559L1047.1 560.4L1040.7 561.5L1039.6 565.1L1037.7 562.2L1037.4 559.6L1031.8 558.1L1026.4 560.7L1022.5 563.3L1020.2 567.6L1022.4 573.9L1025.6 579.2L1028.1 581.6L1029.7 589.2L1030.4 592.6L1029 600L1026.9 603.4L1021.7 605.8L1017.1 606.7L1014.3 610.1L1004.3 612.1L1006.7 606.7L1005.2 603.2L1000.9 601L999.6 597.1L998.4 593.2L992.9 588L992.4 583.8L989.5 583.8L987 589.4L983.6 593.2L980.6 597.2L979.6 601L981.5 605.9M974 602L977.4 596L980.5 589.5L982.2 585.1L983.1 577.9L983.6 570.8L984.9 566.5L982.7 563.1L979.6 563.7L974.7 565.4L970.9 563.1L974.8 557.1L976.5 551.7L973.9 544.2L973.3 537.7L974.4 534L970.4 530.9L964 530.5L960.5 528.8L956.5 527.8L954.6 530L948.8 530.8L944.4 530.8L935.2 532.2L928.9 533.6L923.3 533.1L917.6 532.5L912.1 540.5L906.8 543.3L901.8 549.2L895.7 550.4L886.3 549.9L885.8 543.3L888.1 538.7L891.1 532.9L893.1 524.3L898.5 512.8L901.9 506.6L906.9 499.2L911.3 494.5L914.1 491.4L916 489.2L911.6 490.5L907.4 489L905.8 485.2L907.2 479L910.6 481.1L912.9 480.7L910 475.8L909.5 470L911 466.6L911.8 463.7L907 458.2L902.3 451.8L899.7 446.1L897.2 440.9L895.8 436.7L898.8 432L899.1 429.1L895 426.1L893.5 422.8L894.3 416.8L897.6 409.2L900.8 405.9L900.9 401.7L898.7 401L896.3 399.7L893.4 402.1L890.5 404.5L889 408.4L887.7 410.7L884.7 411.8L882.5 415L887.9 414.4L883.9 417.5L881.9 419.9L882.9 423.5L886.5 427.6L890.7 429.2L894.3 430.3L896 431L891.4 433.3L889.7 435.4L890.1 443.1L888.4 449.3L879.2 450L871.7 449.5L865.4 446.7L861.2 443.2L857.1 439.5L849.9 433.8L844.6 430.3L838.7 423.5L833 417.9L825.9 408.3L823.7 401.7L826.1 399.8L832.5 396.9L837.6 394.9L841.3 393.2L845.2 388.1L851 384L855.5 377.9L858.2 375.9L864.1 373.8L868.1 370.2L871.3 366.8L875 363.8L880.5 359.7L882.6 357.1L888 357.3L881.3 355.5L889 349L885.6 349.8L881.1 352.7L878.8 353.9L873.5 356.8L867.4 360.6L862.6 362.2L859 367.2L849.1 369.6L845.4 370.9L843 375.8L833.2 381.7L831 385.1L827.4 390.3L824.3 397.9L822.6 401.1L818.2 401.1L814 408L814.8 411.2L820.7 419.4L824.5 428L830 434.9L830.4 437.2L823.8 438.8L819.2 439M954.6 383.2L957.7 386.9L958.8 391.3L954.4 393.7L950.2 390.3L948.8 388.5L946.1 391.9L945.8 395.7L940.7 398.7L938.6 402.5L935 402.9L929.9 406.3L926.2 402L926.1 396.9L928.2 392.3L931.8 391.9L936 393.2L936.2 390.9L939.3 387.1L942.4 383.5L946.9 380.8L950.7 380.8ZM959 405.3L963.9 405.3L966.7 407.6L965.2 410.7L960.5 411.3L955.8 409.3L955.8 406.5ZM982.2 431.6L985.7 431.4L988.4 435.1L991.6 438.4L993.4 438.7M1046.1 450.4L1049.8 449.7L1054.2 448.1L1057.7 445L1060.1 440.3L1058.7 440.1L1056.1 443.7L1051.5 446.9L1047.9 449.2ZM981.6 271.4L979.6 275.5L977.9 280.6L976.7 285.2L978.3 285L980.8 288.4L983.1 286.3L986.1 287.4L990.1 286.8L993 287.6L994.2 286.3L997.2 290.2L999 288.4L1001 290.5L1002.7 288L1000.7 284.9L997.5 283L994.6 282.8L993 281.2L991.7 283.8L988.4 282.5L987.1 281.5L988.6 279.3L985.7 277.9L985.5 275.4L982.2 278L982.6 275.1ZM987.7 274.6L990.5 277.1L993.1 280L995.6 279.7L997.3 277L995.7 275L997.1 272.8L993.5 272.2L992.1 267.9L989.9 268.1L988.8 271ZM1031.9 280.2L1028.5 281.7L1026.5 283.5L1025.3 288L1025.5 290.7L1028.7 291.7L1031.2 291.4L1032.1 288.9L1033.2 286.4L1036.4 286.5L1036.5 283.1L1034.1 284.5L1035.2 281.8L1032.1 281.9ZM1049.6 330.9L1043.6 330.8L1040.6 332.1L1044.3 334.1L1044.9 335.7L1048 334.6L1050.2 333.8ZM1050.5 335.4L1047.6 337L1049.4 339.2L1051.3 337.4ZM1027.1 360.8L1026.3 362.7L1027.8 364.6L1028.4 366.5L1031.4 363.4L1035.4 361.5L1039.8 361.9L1044.2 363.5L1048.2 364.4L1047.9 362.6L1044 360.3L1040 359.6L1035.4 360.1L1031 360.2ZM1051.3 349.4L1051.9 352.3L1054.5 354.3L1056 352.4L1053.5 349.6ZM1064.7 369.2L1065.7 372.8L1068.9 372.4L1070.2 369.7L1068.7 366.2L1067.5 364.2L1065 366.2ZM1090.3 381L1092.9 381.7L1096.2 379.7L1099.4 377.7L1096.5 377L1092.2 377.6ZM1094.1 385L1097.3 385L1095.3 383.6ZM1124.2 369L1126.3 366.4L1125.2 365.3L1123.6 367.6ZM1117.4 438.3L1120.8 441.4L1123.8 447.1L1125.1 451.7L1128.7 452L1128.1 457.6L1129.9 460L1128.6 462.8L1125.6 458.6L1123.6 452.4L1120.4 446.7L1118.1 441.5ZM1127.9 464.8L1131.9 466.4L1136.8 465.7L1138.8 468.1L1136.1 474.2L1131.4 474.3L1128.9 478.9L1127.1 475.6L1129.5 472.1ZM1131.8 478.6L1134.9 482.2L1136.8 487L1136.2 493L1137.5 497.5L1135.7 500.9L1132.9 503L1128.2 504.9L1125.8 509.8L1122.5 506.9L1116.9 509L1111.2 511.4L1108.5 515.6L1110.6 521.7L1113.3 522.3L1114.8 515.5L1114.2 511.1L1114.5 505.5L1120.1 503.4L1123.9 500.9L1124.9 496.1L1129.3 494L1130.7 489.4L1130.2 484L1129.7 480.5ZM1115.9 511.5L1119.8 508.3L1122.3 509.6L1119.4 513.3L1117.5 514.6ZM1083.8 548.1L1085 550.9L1081.5 561.2L1078.4 557.1L1080.6 551ZM1038.3 565.8L1042 568.1L1039.4 571.6L1034.9 573.4L1032.3 569.4L1035 566ZM1080.5 576.1L1087 575.9L1087.7 582.5L1084.9 587L1085.1 595.2L1095.4 596.5L1096.7 602L1093 600.4L1087 597.4L1080.7 597.1L1082 593.4L1078.4 592.5L1079.3 586.2L1079.7 580.5ZM1097.7 602.4L1102.3 602.5L1105.2 608.9L1102.9 614L1100.6 610.3L1098 607.1ZM1087.3 605.8L1092.4 607.5L1092.4 614.7L1087.5 612.5ZM1075.7 608.8L1076.6 612.7L1070.7 618.9L1068.3 618.3ZM900.3 551L901.2 553.7L901.4 560.3M926 292.5L925.8 295.3L924.5 301.3L919.4 298.5L921 296.6L924.4 292.9ZM939.6 285.4L939.3 288L936.5 288.6L932.5 286.6L932.3 284.2L934 283.7L937.2 285ZM943.7 288.1L944.9 290.7L942 289.8L940 288.3L941.1 287.3ZM910.6 321.9L910 324.5L908.9 329.8L908.2 328.8L908.1 324.9L909.6 321.5ZM907.9 347.5L909.5 349.5L910.8 354.1L908.2 352.6L906.6 349.7ZM941.2 269.5L941.6 271.8L939.9 271.2L940.3 269.6ZM1186.2 85.9L1186.3 93.9L1182.6 100L1176.8 110.1L1180.6 115.7L1186.2 118.8L1192.2 121.3L1196.4 123.6L1192.7 127.7L1188.7 132.5L1184.7 135.7L1179 140.8L1182.3 144.5L1191.2 147L1194.6 142.7L1201 140L1204.3 142.5L1211.7 145.4L1214.9 152.9L1214.2 161.9L1212.4 167.4L1207.9 172.7L1201.8 177.6L1197.5 183.3L1187.3 183.5L1182.6 182.6L1177.6 178.1L1171.8 172.9L1170.6 177L1166.1 175L1163.6 174.1L1159.6 169.6L1154.6 168.6L1153.3 163.4L1154.1 158.7L1153.8 153.1L1152.9 147.6L1150.7 146.3L1148.5 148.1L1146.5 152.4L1146.3 158.1L1146.5 166L1143 171.5L1138.8 172.7L1133.4 175.1L1126.8 176.1L1123.3 177.4L1122.9 183.2L1122.8 187.6L1121.8 191.7L1121.5 188L1120.8 186.3L1118.8 189.4L1116.4 191L1114.6 194.1L1109 194.9L1107.4 196L1103.5 196.3L1103.7 197.7L1105.3 199.1L1102.8 203.1L1098.4 204.4L1094.6 205.6L1092.1 206.7L1089.1 208.4L1088.3 206.7L1092.8 202L1090.2 201.1L1086.6 204.2L1080.3 206.3L1078 208.6L1078.9 211.9L1081.5 207.6L1084.9 208.1L1088.3 210L1089.2 212.7L1088.5 215.3L1091.8 215.9L1087 218.1L1090.7 219.8L1096.3 218.2L1103.1 213.7L1099.1 217.3L1095.3 220.3L1091.2 223.1L1084.2 222.8L1078 222.3L1075 225.6L1071.6 226.7L1069.6 228.7L1069.9 232.5L1072.9 236.2L1077.1 238.5L1080.9 242.3L1081.3 247L1083.4 251.7L1084.8 254.6L1086.5 252L1090 249.3L1091.6 248.6L1093 252.8L1092.5 256.8L1094.6 259.3L1096.3 261.3L1099.8 262.8L1102.6 264.6L1104.4 260.4L1104.1 257L1105.3 254.2L1106.7 253L1106 248L1106.2 245.4L1109.2 243.4L1112.7 242.6L1112.8 239.6L1114 235.7L1116.4 232.2L1118.2 233.1L1118.9 236.8L1119.3 239.4L1116.9 245.9L1121 248.4L1124.2 253.8L1129.8 258.8L1129.3 265.2L1127.9 268.7L1125.1 270.8L1120 273.7L1117.6 274L1113.4 274L1110.5 276.9L1108 279.7L1107 278.5L1104.8 277.5L1102.4 278.8L1100.6 282.9L1099.9 286.4L1102.6 287.9L1104.3 285.5L1107.8 282.2L1107.4 285.4L1108.9 286.8L1108 289.8L1107.8 293L1107.3 298L1110.2 296.4L1111.9 292.3L1112.3 289.3L1115 289.8L1117.5 290.1L1116.5 293.1L1120.3 292.1L1122.2 295L1127.4 296.2L1125.2 299L1126.9 299.7L1129.2 302.1L1130.6 304L1129.4 308.6L1129.2 312.3L1129.5 316.1L1132.1 316.1L1129.8 319.8L1132.2 321L1134.8 323.3L1137.1 326L1135.8 329.5L1135.8 331.5L1134.5 339.2L1131.2 346.8L1132.8 349.9L1135.6 354L1138 358.8L1141 357L1143.9 354.7L1144 357.2L1145.2 362.7L1149.3 360.3L1150.6 354.8L1153.6 355.4L1154.5 360.9L1158 362.9L1161.1 364.5L1164.1 359.8L1166.7 359.6L1168.6 354.2L1168.9 352.2L1172.5 353.5L1176.5 358.1L1178.5 363.9L1178.9 367.4L1178.5 362.1L1177.4 356.4L1174.2 351.7L1170.9 348L1167.6 346.2L1164 343.7L1162 340.7L1166.8 343L1167.2 340.7L1165.6 339.8L1163.1 336.2L1164.1 333.9L1165.1 331.5L1165.7 324.8L1167.7 320.8L1169.6 317.9L1171.7 316.1L1174.1 313.1L1176.6 310.6L1177.1 305.2L1180.1 301.5L1182.4 298.5L1185 296.4L1185.9 290.4L1186.5 285.9L1189.3 282.7L1190.3 287.6L1194.2 284.3L1196.1 283.1L1201.3 280.8L1206.9 279.2L1212.2 275.8L1214.3 275.4L1217 272.3L1220.1 266.7L1223.1 263.2L1227.7 256L1226.4 249.4L1228.2 243.9L1230.9 239.9L1233.2 235.2L1235.7 229.4L1239.6 227.6L1240.1 222.9L1242.6 213L1243 203.8L1243.9 201L1241.4 200.6L1240.8 205.6L1237.5 212.9L1235.6 218.9L1232.8 226.1L1230.2 232.2L1226.7 235.8L1225.8 231.3L1228.1 225.5L1230.8 216.5L1231.9 209.3L1233.1 203.5L1234.1 192L1236.8 184.6L1240.7 182L1240.9 173.8L1237.9 164.4L1233.8 154.4L1228.3 144.9L1223.6 140.3L1219.5 140.1L1215.2 133.3L1212.9 126.5L1207.9 120.2L1203.2 114.8L1198.5 111.2L1197.4 106.4L1195.3 100.1L1195.9 95.6L1197.8 92.8M1160.4 71.3L1154.6 73.7L1150.7 78.6L1146.9 80.1L1138.1 80.4L1130.4 83.1L1132.2 79.1L1129.4 76.1L1124.4 77.6L1123.8 80.9L1119.8 76.8L1115.6 72.8L1106.4 70.7L1099.5 68.1L1087.5 69.9L1082.8 66.4L1080.5 58.9M1171 140.3L1162.6 141.5L1153.7 138.4L1144.6 129.6L1136.5 122.4L1134 119.6L1147 121.9L1147.8 125.8L1153.9 132.3L1160 137.7L1165.6 139.2ZM1135.2 118.1L1127.6 116.7L1117.9 114.4L1112.3 108.2L1119 108L1125.6 106.6L1131.2 110.1L1136.7 112.3L1128.9 111.3ZM1152.1 116.8L1144.4 113.5L1144.8 112.3L1150.9 113.7ZM1107.6 106.7L1101.4 106L1102 104.3L1107.8 105ZM1076.5 213.9L1072.5 214L1067.9 212L1062.2 211.9L1061.9 214.9L1064 218.3L1067.4 219.9L1069.1 222.7L1069 226.9L1071.9 224.1L1074.8 218.5L1076.5 215.8ZM1087.4 221.7L1083.3 219.2L1081.6 218.8L1084.3 220.9ZM1053.8 256.2L1052.6 260L1052.9 267.9L1051.5 275.1L1048.5 282.7L1044.2 288.6L1042.9 295L1046.3 297.9L1047.6 302.5L1050 308L1054.5 313.7L1057.7 318.5L1059.9 324.4L1063.3 323.2L1068.7 324.6L1071.5 322.7L1074.2 319.3L1078 317.8L1079.8 315.6L1082 312.4L1085.4 308.6L1084.2 305.4L1083.8 301.6L1079.4 300.6L1076.5 297.7L1074.6 291.9L1072.8 286.2L1069.5 283.7L1071 279L1069.7 273.2L1067.9 268.9L1065.7 263.2L1062.2 259.2L1058.8 257.4ZM1084.9 257.9L1087.2 259.7L1089.7 262.5L1093.4 265.2L1096.5 269.1L1100.4 269.6L1100.4 271.8L1095.2 271.8L1093.7 275.1L1092.1 277.2L1094.2 280.2L1096.8 284.6L1096.5 287L1101.9 288.2L1104.4 291.1L1104.2 294.3L1101.4 298.5L1097.8 298.3L1095 296.4L1093.3 293.7L1091.2 291.5L1088.7 287.9L1086.4 284.3L1085.4 280.5L1082.5 275.8L1079.8 273.3L1082.4 268.9L1085.3 271L1087.5 268.8L1084.1 263ZM1106.5 276.7L1105.7 270.5L1105 268.6L1109.3 268.7L1112.1 272.3L1109.1 276.9ZM1128.8 307.7L1127.6 303.3L1123.7 299.6L1120.9 297.8L1116.6 297.1L1112.9 300.5L1112.3 305.8L1113.9 308.4L1116.6 308.3L1116.8 312.5L1120.7 314L1123.6 313.3L1125.4 310.5L1124.3 306.4L1127.3 308.1ZM1125.1 319.2L1126.2 316.1L1124.4 314.5L1118 315.2L1116.6 317.5L1118.3 320.6L1121.5 320.4ZM1110.7 304.4L1110.8 298.7L1107.4 301.7L1106.6 304.7L1108.3 305.8ZM1108.1 298.5L1105 298.3L1101.8 300.3L1103.4 303.1L1105.9 302.3ZM1115.2 294.7L1114 291.2L1112.3 292.6L1113.1 295ZM1113.6 317.6L1113.1 313.3L1109.2 311.1L1106.9 312.8L1107.6 315.8L1109.7 318.5ZM1106.8 309.9L1104.8 307L1102.4 308.8L1102.5 311.5L1105 312.2ZM1102.7 307.3L1101.3 303.5L1096.8 300.4L1093 299.4L1092.4 302.3L1096.2 304.9L1098.2 308.4L1100.4 309.9ZM1096.8 306.8L1093.1 305.1L1089.5 305.3L1086.8 309L1083.8 310.6L1080.2 315.1L1078.7 319.3L1081.5 321L1084.8 321.9L1088.7 320.5L1091.6 318.9L1091 315.2L1091.3 312.2L1094.1 310.4ZM1097.4 313L1094.5 312.2L1091.6 314.6L1091 319.1L1093.9 318L1095.9 316.5ZM1113.6 322.2L1112.5 319.1L1108.9 319.9L1108.7 322.3ZM1101.9 316L1100 313.5L1098.4 316L1099.7 317.9ZM1186.5 297.5L1185.7 291.6L1188.9 285.4L1190 288.5L1188.6 294.9ZM1179.6 309.6L1178.9 307.3L1183.1 304.9L1182.3 307.8ZM1173 348.2L1170.8 344.7L1173.3 344L1175.3 346.7ZM1149.6 368.9L1151.7 366.1L1152.3 366L1150.5 369.3ZM1161 366.9L1161.4 364.3L1162.9 364.7L1162.4 366.5ZM1181.1 372.2L1180 370.3L1181 370.2L1181.7 373.4ZM1181.8 376.4L1180.9 374.1M1180.2 387.3L1180.8 384.3M1179.2 392.3L1179.5 390.2M1165.1 407.5L1166 405.8M1150.9 412.3L1153.2 412.1M1146.8 230.6L1139.8 231.4L1135.7 232.2L1132 229.9L1131.1 225.2L1132.5 222.2L1137.2 224.5L1139.5 227.5L1143.9 228.9ZM1145.9 211.9L1143 210.4L1140 214.6L1134.3 220.1L1132.2 220.2L1132 216.5L1133.6 212.8L1132.4 209.3L1129.9 210.2L1127.6 214.7L1124.8 212.2L1124.7 215.7L1128.6 218.6L1132.8 220.5L1136.2 221.4L1140.5 220.6L1143.5 216.4ZM1136.1 206.5L1132 203.6L1124.6 205.3L1128.3 206.2L1133.7 206.2ZM1125.6 207.8L1121.6 206.4L1117.3 206.2L1117.2 208.3L1122.1 208.8ZM1142.3 308.6L1141.4 305.6L1138.5 303.6L1135.7 304.7L1135.9 307.9L1140.5 310.2ZM1148.9 294.6L1147.3 292.2L1142.2 290.5L1138.2 289.3L1139.2 291.1L1143.5 293.1L1147.3 294.9ZM1151.9 249.5L1148.7 246.9L1145 250.2L1143.8 256.5L1146.9 255.7L1148.2 251.8ZM1310 365.1L1308.2 360.8L1305.1 361.8L1305.7 364.6ZM1301.6 367L1302.3 364.3M1298.8 372.5L1298.6 370.5M990.4 341.2L991.3 343L992.9 344.9L995 344.3L995 341.4L992.8 340.7ZM993.7 347.3L994.8 349.2L997.7 348.4L998.2 347L996.1 346.9ZM837.4 444.3L839.2 449.5L837.4 447.8ZM983.2 320.7L985.7 322.4L984.1 322.5L983.1 321.2ZM982.6 307.8L983 310.7L980.3 309.7L980.7 307.6ZM982.7 305.6L982.1 307.3L980.7 306.6L981.5 305.4Z" fill="none" stroke="#8800d6" stroke-width="1.85" stroke-linejoin="round"/><path d="M938.8 260.2C938.6 255.4 940.3 246 942.6 240.2C944.9 234.3 948.4 230 952.6 225.2C956.8 220.4 961.8 215.8 967.6 211.4C973.5 207 980.6 202.4 987.7 198.9C994.8 195.3 1002.7 192.3 1010.2 190.1C1017.7 187.9 1025.6 186.5 1032.7 185.6C1039.8 184.7 1047.3 184.1 1052.8 184.6C1058.2 185.1 1062.8 186.7 1065.3 188.9C1067.8 191 1068.6 194.7 1067.8 197.6C1066.9 200.5 1064 203.7 1060.3 206.4C1056.5 209.1 1050.3 211.4 1045.2 213.9C1040.2 216.4 1035.2 218.7 1030.2 221.4C1025.2 224.1 1020.2 226.8 1015.2 230.2C1010.2 233.5 1005.2 237.9 1000.2 241.4C995.2 245 990.2 248.3 985.2 251.4C980.2 254.6 975.1 257.5 970.1 260.2C965.1 262.9 959.5 266.3 955.1 267.7C950.7 269.2 946.6 270.2 943.8 269C941.1 267.7 939 265 938.8 260.2Z" fill="none" stroke="#000" stroke-width="2.0"/><path d="M935.8 261.9C936.7 263.9 939.7 269.2 941 271C942.3 272.7 941 272.4 943.6 272.5C946.1 272.5 951.4 272.6 956.1 271.1C960.8 269.5 966.7 266 971.9 263.2C977.1 260.4 982 257.5 987.1 254.4C992.2 251.2 997.3 247.8 1002.3 244.2C1007.3 240.7 1012.2 236.4 1017.1 233.1C1022.1 229.8 1024.3 228.5 1031.9 224.5C1039.4 220.5 1055.9 213.4 1062.4 209.1C1069 204.8 1069.7 200.8 1071.1 198.7C1072.6 196.6 1071.6 198.6 1071.1 196.7C1070.7 194.7 1069.1 189.1 1068.4 187.3C1067.7 185.4 1069.2 186.7 1066.7 185.7C1064.2 184.6 1059 181.7 1053.2 181.1C1047.5 180.5 1039.6 181.2 1032.3 182.1C1025 183.1 1017 184.4 1009.2 186.7C1001.5 189 993.1 192.3 985.8 195.9C978.5 199.5 971.5 204 965.5 208.6C959.5 213.2 954.1 218.2 949.7 223.2C945.3 228.3 941.7 232.8 939.4 238.9C937 244.9 936 255.7 935.4 259.6C934.8 263.4 934.9 260 935.8 261.9Z" fill="none" stroke="#000" stroke-width="0.9"/><path d="M932.8 263.7C933.9 266 937.2 271.6 938.6 273.6C939.9 275.5 939.9 274.8 940.7 275.2C941.5 275.6 940.5 276.1 943.3 275.9C946 275.8 952 276.1 957.1 274.4C962.2 272.8 968.3 269.1 973.7 266.3C979 263.4 983.9 260.5 989 257.3C994.2 254.1 999.4 250.6 1004.4 247C1009.4 243.5 1014.2 239.3 1019.1 236C1023.9 232.8 1026 231.6 1033.6 227.6C1041.1 223.5 1058 216.1 1064.6 211.9C1071.2 207.7 1071.4 204.3 1073.1 202.2C1074.8 200 1074.4 200.1 1074.6 199.1C1074.9 198.1 1075.2 198.6 1074.7 196.4C1074.2 194.1 1072.6 188 1071.5 185.7C1070.4 183.4 1071.1 183.8 1068.2 182.5C1065.2 181.1 1059.7 178.3 1053.7 177.7C1047.8 177 1040 177.7 1032.4 178.6C1024.8 179.6 1016.3 181 1008.2 183.4C1000.2 185.8 991.4 189.2 984 192.9C976.5 196.7 969.6 201.1 963.4 205.8C957.2 210.5 951.4 215.9 946.8 221.3C942.2 226.7 938.4 231.8 935.9 238.2C933.4 244.6 932.4 255.4 931.9 259.6C931.3 263.9 931.6 261.4 932.8 263.7Z" fill="none" stroke="#000" stroke-width="0.9"/><path d="M975.1 328.5C975.7 329.9 978.1 334.4 978.9 335.7C979.7 337 978.1 336.1 980.1 336.3C982 336.5 986.4 337.8 990.5 336.8C994.7 335.8 1000.6 333.2 1004.9 330.2C1009.2 327.2 1012.8 322.7 1016.4 318.7C1020 314.7 1023.3 310.4 1026.4 306.2C1029.5 302 1032.1 297.6 1035.2 293.7C1038.3 289.8 1041.5 285.9 1045 282.6C1048.6 279.2 1053.9 276.9 1056.5 273.6C1059 270.4 1059.9 265.1 1060.5 263.1C1061.1 261.1 1061.5 262.5 1060.2 261.7C1058.8 261 1055.7 258.2 1052.2 258.8C1048.8 259.4 1044.1 262.2 1039.5 265.2C1034.8 268.1 1031.9 270.5 1024.3 276.5C1016.8 282.6 1001.3 295.3 994.2 301.6C987.1 307.9 984.8 310 981.6 314.2C978.4 318.5 976.1 324.8 975.1 327.1C974 329.5 974.4 327.1 975.1 328.5Z" fill="none" stroke="#000" stroke-width="1.9" stroke-dasharray="8 3.5"/><path d="M971.1 330.6C972 332.4 974.5 337.1 975.6 338.7C976.6 340.3 976.8 339.8 977.5 340.2C978.2 340.6 977.5 340.7 979.9 340.8C982.2 341 986.9 342.3 991.6 341.2C996.2 340 1003.1 336.9 1007.8 333.7C1012.5 330.4 1016.2 325.7 1019.9 321.5C1023.6 317.4 1026.8 313.2 1029.9 309C1033 304.8 1035.7 300.3 1038.7 296.5C1041.7 292.6 1044.5 289.3 1048.1 285.9C1051.7 282.5 1057.3 280 1060.1 276.3C1062.9 272.6 1064.1 266.2 1064.9 263.7C1065.7 261.2 1065.1 262.2 1064.9 261.4C1064.6 260.6 1064.1 259.5 1063.6 258.8C1063.1 258.2 1063.3 258.1 1061.8 257.4C1060.3 256.7 1056.3 254.9 1054.5 254.5C1052.6 254 1053.5 253.5 1050.6 254.6C1047.7 255.8 1041.9 258.3 1037.1 261.4C1032.3 264.4 1029.2 266.8 1021.6 272.9C1014 279.1 998.6 291.7 991.3 298.2C984.1 304.6 981.4 306.9 978 311.5C974.6 316.1 972.1 322.9 970.8 325.7C969.5 328.4 970.3 327.1 970.4 327.9C970.4 328.7 970.2 328.8 971.1 330.6Z" fill="none" stroke="#000" stroke-width="1.4" stroke-dasharray="8 3.5"/><path d="M950.1 352.8C951.4 350.3 954.3 342.8 957.6 337.8C961 332.8 965.5 327.8 970.1 322.8C974.7 317.8 979.7 312.8 985.2 307.8C990.6 302.8 996.8 297.8 1002.7 292.8C1008.5 287.8 1014.4 282.5 1020.2 277.7C1026.1 272.9 1031.9 267.9 1037.7 264C1043.6 260 1049.8 256.2 1055.3 254C1060.7 251.7 1066.5 250.2 1070.3 250.2C1074 250.2 1076.5 253.3 1077.8 254" fill="none" stroke="#000" stroke-width="0.9" stroke-dasharray="7 3"/><path d="M950.1 352.8C952.6 353.1 959.3 354.7 965.1 354.1C971 353.5 979.3 351 985.2 349.1C991 347.2 997.7 343.9 1000.2 342.8" fill="none" stroke="#000" stroke-width="0.9" stroke-dasharray="7 3"/><path d="M1057.3 371.2C1057.7 372.9 1057.8 374.8 1057.8 376.4C1057.7 378.1 1057.4 379.7 1056.9 381.1C1056.4 382.4 1055.6 383.7 1054.8 384.5C1053.9 385.4 1052.9 386 1051.8 386.2C1050.7 386.4 1049.5 386.3 1048.4 385.9C1047.3 385.4 1046.1 384.6 1045.1 383.6C1044.1 382.6 1043.1 381.2 1042.4 379.7C1041.7 378.2 1041 376.5 1040.7 374.8C1040.3 373.1 1040.2 371.2 1040.2 369.6C1040.3 367.9 1040.6 366.3 1041.1 364.9C1041.6 363.6 1042.4 362.3 1043.2 361.5C1044.1 360.6 1045.1 360 1046.2 359.8C1047.3 359.6 1048.5 359.7 1049.6 360.1C1050.7 360.6 1051.9 361.4 1052.9 362.4C1053.9 363.4 1054.9 364.8 1055.6 366.3C1056.3 367.8 1057 369.5 1057.3 371.2Z" fill="none" stroke="#000" stroke-width="1.0"/><path d="M803.5 330C807.2 324.6 818.9 329.2 826 332.5C833.1 335.8 840.6 342.1 846 350C851.4 357.9 856 369.2 858.5 380C861 390.8 861.8 403.3 861 415C860.2 426.7 856.8 441.2 853.5 450C850.2 458.8 844.8 465.4 841 467.5C837.2 469.6 834.8 467.9 831 462.5C827.2 457.1 822.2 445.4 818.5 435C814.8 424.6 811 411.7 808.5 400C806 388.3 804.3 376.7 803.5 365C802.7 353.3 799.8 335.4 803.5 330Z" fill="none" stroke="#000" stroke-width="0.9"/><path d="M823.5 365C826.2 363.8 831.4 367.5 833.5 372.5C835.6 377.5 835.8 387.1 836 395C836.2 402.9 835.8 413.5 835 420C834.2 426.5 832.9 433.2 831 434C829.1 434.8 826 430.7 823.5 425C821 419.3 817.1 407.5 816 400C814.9 392.5 815.8 385.8 817 380C818.2 374.2 820.8 366.2 823.5 365Z" fill="none" stroke="#000" stroke-width="1.9"/><path d="M1198.5 122.5C1201.4 121.9 1208.9 119 1216 119C1223.1 119 1233.5 119.8 1241 122.5C1248.5 125.2 1254.3 129.6 1261 135C1267.7 140.4 1275.2 148.8 1281 155C1286.8 161.2 1292.7 168.5 1296 172.5C1299.3 176.5 1300.2 177.9 1301 179" fill="none" stroke="#000" stroke-width="0.9"/><path d="M1198.5 122.5C1199.3 124.2 1200.6 128.8 1203.5 132.5C1206.4 136.2 1210.6 140.8 1216 145C1221.4 149.2 1228.5 153.3 1236 157.5C1243.5 161.7 1252.7 166.9 1261 170C1269.3 173.1 1279.3 174.5 1286 176C1292.7 177.5 1298.5 178.5 1301 179" fill="none" stroke="#000" stroke-width="0.9"/><path d="M1233.5 142.5C1234.8 140.2 1243.1 138.2 1248.5 139C1253.9 139.8 1261 144.4 1266 147.5C1271 150.6 1277.2 155 1278.5 157.5C1279.8 160 1277.2 162.2 1273.5 162.5C1269.8 162.8 1261.4 160.7 1256 159C1250.6 157.3 1244.8 155.2 1241 152.5C1237.2 149.8 1232.2 144.8 1233.5 142.5Z" fill="none" stroke="#000" stroke-width="1.8"/><path d="M1100.2 497.8C1101 495.7 1105.2 494.9 1110.2 492.8C1115.2 490.7 1123.5 487.8 1130.2 485.3C1136.9 482.8 1144.8 479.9 1150.2 477.8C1155.7 475.7 1160 473.2 1162.7 472.8C1165.5 472.3 1166.5 473.2 1166.5 475.3C1166.5 477.3 1165 481.5 1162.7 485.3C1160.4 489 1156.5 493.6 1152.7 497.8C1149 502 1144.4 507.4 1140.2 510.3C1136 513.2 1131.9 515.3 1127.7 515.3C1123.5 515.3 1118.9 512 1115.2 510.3C1111.4 508.6 1107.7 507.4 1105.2 505.3C1102.7 503.2 1099.3 499.9 1100.2 497.8Z" fill="none" stroke="#000" stroke-width="1.0"/><path d="M1261 277.5C1263.1 276.2 1272.7 280.4 1276 285C1279.3 289.6 1281.4 301.2 1281 305C1280.6 308.8 1276.4 309.6 1273.5 307.5C1270.6 305.4 1265.6 297.5 1263.5 292.5C1261.4 287.5 1258.9 278.8 1261 277.5Z" fill="none" stroke="#000" stroke-width="0.9" stroke-dasharray="7 3"/></g><path d="M1077.2 596.8L1082.3 596.8L1080.2 600.9ZM1092.7 598L1096.8 595L1097.6 599.6ZM1259.9 523.7L1261.1 518.7L1264.6 521.7ZM1270.1 512.1L1272.7 507.6L1275.2 511.5ZM1282.6 494.9L1285.7 490.7L1287.8 494.8ZM1295 481.7L1296.3 476.7L1299.8 479.7ZM1302.6 465.9L1301.4 460.9L1305.9 461.9ZM1313 450.9L1308.5 448.5L1312.2 445.8ZM1320.8 429.7L1316.5 432.5L1316 428ZM1327.7 410.8L1328.4 415.9L1324.1 414.4ZM1323 394.8L1327.7 392.2L1328 396.8ZM1326.5 379.9L1331.2 376.9L1331.9 381.4ZM1332.2 368.5L1330.8 362.8L1335.4 363.6ZM1335.3 331.1L1333.9 325.6L1338.4 326.3ZM1332.1 305.1L1330.6 300.1L1335.1 300.9ZM1329.5 286.5L1332.7 282.5L1334.6 286.7ZM1324.4 268.4L1329.5 267.5L1328.2 271.9ZM1302.9 219.8L1305.4 215.3L1308 219.1ZM1263 155.6L1262.4 160.7L1258.5 158.1ZM1168.3 96.5L1167.2 101.5L1163.6 98.7ZM1152.4 92.1L1153.2 97.2L1148.8 95.7ZM1114.8 82.4L1119.1 85.2L1115.1 87.6ZM1076 83.1L1081.1 83.3L1078.9 87.3ZM1056.2 82.2L1061.3 83L1058.6 86.8ZM1038.6 82.7L1043.3 84.8L1039.7 87.7ZM1020.8 86.8L1024.7 90.1L1020.5 92ZM894.7 156.3L899.9 156.4L897.8 160.5ZM879.8 171.1L884.9 171.8L882.3 175.6ZM869.9 185.6L874.3 188.3L870.4 190.7ZM817.3 321.3L821.8 318.8L822 323.4ZM816.9 342.8L820 338.7L822 342.9ZM818.5 361.4L822 357.7L823.6 362ZM819.2 378.1L824 376.3L823.5 380.9ZM826.1 393.2L830.5 395.8L826.7 398.3ZM830.2 410.2L830.7 415.3L826.4 413.7ZM840.1 430.6L835.7 433.3L835.3 428.7ZM843.9 450.3L838.9 449.1L841.9 445.6ZM852.3 467.9L848.3 464.8L852.4 462.8ZM862.1 480.9L858.3 477.4L862.6 475.7ZM872.2 498.4L867.5 496.3L871.1 493.4ZM1156.5 564.3L1160 568L1155.6 569.4ZM1208.2 546.9L1203.2 545.8L1206.1 542.2ZM1248.3 507.8L1253.1 506.1L1252.6 510.6ZM1272.6 480.2L1277.6 478.8L1276.7 483.3ZM1279.9 465.7L1284.1 462.7L1284.8 467.3ZM1291.7 453L1292.4 447.9L1296.2 450.5ZM1302.2 433.7L1298.1 430.6L1302.2 428.6ZM1310.1 417.1L1305.1 418.4L1306.1 413.9ZM1314.7 398L1311.8 402.2L1309.5 398.2ZM1318.4 377.9L1317.4 383L1313.8 380.2ZM1320.9 359.3L1318.8 364L1315.9 360.5ZM1318.1 344L1315.7 339.5L1320.3 339.4ZM1320.5 327.6L1316.1 325.1L1319.9 322.5ZM1316.1 307.4L1317.2 302.4L1320.8 305.2ZM1309.4 288.8L1314.2 287.1L1313.7 291.6ZM1305.5 270L1310.5 271.4L1307.4 274.8ZM1292.5 233.7L1297.6 233.2L1296 237.5ZM1276.6 207.6L1275.5 202.6L1280 203.7ZM1256.4 176.6L1251.8 179L1251.8 174.4ZM1242.3 159.8L1240.1 164.4L1237.2 160.9ZM1225.9 148L1225.1 153.1L1221.4 150.5ZM1197 129.3L1197.5 134.4L1193.2 132.8ZM1178 120.9L1179.6 125.8L1175 125.1ZM1142 106.2L1145.9 109.5L1141.7 111.4ZM1123.2 104.2L1128.2 105.6L1125.1 109ZM1086.5 100.9L1091.6 99.9L1090.3 104.4ZM1069.1 101L1074.1 100L1072.8 104.4ZM1050.1 101.7L1055.3 101.7L1053.2 105.8ZM1031.7 103.3L1036.6 104.8L1033.4 108.1ZM1016 107.4L1020.2 110.3L1016.2 112.5ZM996.6 112.2L1001.7 112.6L999.3 116.5ZM906.9 168.3L908.6 173.2L904.1 172.6ZM874.1 213.1L871 217.3L869 213.1ZM864.2 231.7L860.1 234.9L859.2 230.4ZM859.2 249.2L854.7 251.7L854.5 247.1ZM850.1 265.6L847.1 269.8L844.9 265.7ZM846.9 280.9L845.7 285.9L842.2 283ZM842 299.1L844.3 303.7L839.7 303.7ZM835 318.7L840 320L837 323.5ZM835.9 336.1L841 335.8L839.2 340ZM837.2 356.1L842.3 355.5L840.7 359.8ZM839.2 374.5L844.2 375.6L841.3 379.2ZM841 391.3L844.4 395.1L840 396.3ZM849.3 410.9L847.8 415.8L844.5 412.6ZM854.9 429.5L850.2 431.4L850.5 426.9ZM863.2 445.5L858.3 443.9L861.5 440.6ZM870.1 465.3L866.7 461.5L871.1 460.2ZM881 478.5L878.4 474.1L883 473.7ZM891 495.7L888 491.6L892.5 490.8ZM930.5 534.2L926.7 530.7L931 529.1ZM1209.9 522.4L1212.9 518.2L1215.1 522.2ZM1261.3 464.1L1266.3 465.2L1263.4 468.8ZM1269.6 449.5L1274.4 447.6L1274 452.2ZM1277.6 437.1L1279.9 432.5L1282.7 436.2ZM1286.2 420.1L1283.9 415.4L1288.5 415.5ZM1293.6 402.6L1288.8 400.8L1292.1 397.6ZM1298.4 382.2L1293.3 382.7L1294.9 378.4ZM1301.7 366.1L1296.6 366.7L1298.2 362.4ZM1301.3 347.2L1296.6 344.9L1300.3 342.1ZM1299.1 328.7L1297.9 323.7L1302.4 324.7ZM1297 311.3L1299.9 307L1302.1 311.1ZM1294.7 290.7L1299.8 290.2L1298.1 294.5ZM1281.8 254.1L1286.3 256.6L1282.5 259.1ZM1275.9 238.4L1281 238.9L1278.5 242.8ZM1256.7 210.9L1256.3 205.8L1260.6 207.5ZM1219.6 165.3L1217.1 169.8L1214.5 166.1ZM1173.4 135.9L1176.1 140.2L1171.5 140.7ZM1134.8 124.8L1139.7 126.4L1136.4 129.7ZM1118.2 121.4L1123.3 121.7L1121 125.7ZM1044.2 119.5L1049.1 121.1L1045.9 124.4ZM1027.3 122.3L1031.3 125.6L1027.2 127.5ZM943.8 161.1L948.5 159L948.3 163.6ZM885.8 231.1L881.7 228L885.9 225.9ZM877.6 248L873.7 244.7L877.9 242.8ZM869.7 266.7L864.8 265.2L868 261.9ZM864 282.7L859.1 284.4L859.7 279.8ZM862 297.7L858.7 301.7L856.9 297.5ZM857.9 314.4L858.2 319.5L854 317.7ZM853 332.6L856.5 336.3L852.1 337.6ZM855.2 351.2L859.1 354.5L854.9 356.3ZM856.7 372L860 375.9L855.6 377ZM862.3 389.5L863 394.6L858.6 393.1ZM867.6 409.1L864.5 413.2L862.5 409ZM872.6 427.8L867.5 428.5L869.1 424.1ZM881.8 445.3L877.6 442.3L881.6 440.2ZM889.3 462.3L887.1 457.7L891.7 457.7ZM899.6 476.2L898.8 471.1L903.2 472.5ZM937.2 516.6L937.6 511.4L941.6 513.8ZM1082 546L1076.9 546.8L1078.3 542.4ZM1101.8 546.4L1097.7 549.5L1096.9 545ZM1119.8 544L1115.7 547.1L1114.8 542.6ZM1138.5 539.6L1133.5 540.8L1134.5 536.4ZM1153.5 533.3L1149 530.9L1152.8 528.2ZM1167.8 528.4L1165.7 523.7L1170.3 523.9ZM1184.6 516.7L1187.6 512.6L1189.7 516.7ZM1200 505.9L1205.1 505.1L1203.8 509.5ZM1213.2 494.2L1217.9 496.3L1214.3 499.2ZM1227.8 481L1231.4 484.6L1227 486ZM1238.6 466.4L1242.2 470.1L1237.8 471.5ZM1249.3 449.4L1254.2 451.1L1250.8 454.3ZM1256.7 436.4L1261.7 435L1260.8 439.6ZM1267.9 422L1269.9 417.3L1272.9 420.7ZM1274.7 406.2L1273 401.3L1277.6 401.9ZM1280 388.2L1276.2 384.8L1280.4 383.1ZM1284.8 369.4L1280.4 366.7L1284.3 364.2ZM1284.6 348.7L1281.7 344.5L1286.3 343.9ZM1284.1 330.9L1284.3 325.8L1288.3 328ZM1280.5 310.2L1284.6 307.1L1285.5 311.6ZM1277.6 292.7L1282.8 292.6L1280.8 296.8ZM1272.5 271.9L1277.1 274L1273.5 276.9ZM1265.8 257.5L1270.5 259.4L1267.1 262.5ZM1257.9 240.4L1263 240.1L1261.3 244.3ZM1199.7 172.8L1197.4 177.5L1194.6 173.8ZM1166.9 152.2L1169.5 156.6L1164.9 157ZM1146.6 143.7L1150.8 146.7L1146.8 148.9ZM1109.7 135.3L1114.8 136L1112.3 139.8ZM1057.5 134.6L1061.8 137.5L1057.7 139.7ZM892.5 246.1L894.1 241.2L897.4 244.4ZM885.9 264.9L886.3 259.8L890.2 262.2ZM880.1 281.1L877.4 276.7L881.9 276.2ZM877.5 297.2L872.5 295.6L875.7 292.3ZM876.6 316.2L872.1 318.7L871.9 314.1ZM872.9 330.6L871.1 335.5L868 332.1ZM871.5 350L872.1 355.1L867.8 353.5ZM873.7 369L874 374.2L869.7 372.4ZM877.6 392.3L875.8 387.5L880.4 388ZM883.6 407.1L880.1 403.3L884.5 402ZM892.3 425.7L887.2 425.8L889.2 421.6ZM899.6 442.5L896.1 438.7L900.6 437.5ZM907.1 456.7L905.8 451.8L910.3 452.7ZM921.2 471.5L916.2 470.4L919.1 466.8ZM931.3 484.8L926.3 483.9L929 480.2ZM945.2 496.8L940.1 497.3L941.7 493ZM959 512L954.8 509L958.8 506.9ZM980.3 525.2L975.5 522.3L979.2 519.7ZM1015.1 539.3L1009.3 538.7L1011.5 534.7ZM1026 542.5L1025 537.4L1029.4 538.7ZM1042.6 545L1039.5 540.9L1044 540.1ZM1063.9 546.4L1059 544.9L1062.2 541.6ZM1089.7 531.4L1085.2 529L1088.9 526.3ZM1108.2 529.9L1103.5 527.8L1107 524.9ZM1123.2 526.5L1119 523.5L1123.1 521.4ZM1142.5 521.6L1140.4 516.9L1145 517ZM1164.6 507.1L1161.4 511.5L1159.2 507.4ZM1176.9 500.2L1173.9 504.5L1171.7 500.4ZM1189.8 491.4L1194.9 492.4L1192.1 496ZM1202.6 477.5L1206.7 480.6L1202.6 482.7ZM1215.5 465.3L1219 469L1214.7 470.4ZM1229.6 450.6L1233.8 453.6L1229.8 455.8ZM1238.2 438.2L1243.2 439L1240.6 442.8ZM1246.3 423.5L1250.7 420.8L1251.1 425.3ZM1254.4 407.9L1255.7 402.9L1259.2 405.9ZM1262.1 390L1260.3 385.2L1264.9 385.7ZM1265.4 372.5L1262.6 368.2L1267.1 367.6ZM1265.1 353.3L1263 348.6L1267.6 348.8ZM1266.8 334.3L1267.2 329.2L1271.1 331.6ZM1262.2 312.6L1265.9 309L1267.3 313.4ZM1258.8 296.3L1263.8 294.8L1263 299.3ZM1219.3 217.6L1216.6 213.2L1221.2 212.8ZM1206 203.3L1200.8 202.9L1203.2 198.9ZM1191.9 189.7L1188 193.1L1186.9 188.6ZM1160.5 169.1L1161.8 174.1L1157.3 173.1ZM1122 156.1L1125.9 159.4L1121.6 161.2ZM1069.5 151.3L1071.3 156.1L1066.8 155.7ZM1045.8 147.4L1050.1 150.9L1046 153ZM960.4 178.8L965.5 182L961.7 184.7ZM907.8 242.4L913.5 241.5L912.3 246ZM906.7 259.4L911.9 259.5L909.7 263.6ZM898.4 278.7L902.5 275.5L903.4 280ZM892.5 296.9L892.4 291.8L896.6 293.7ZM891.4 315.8L887.3 312.9L891.3 310.7ZM890.2 331.9L885.2 332.9L886.3 328.5ZM893 348.6L888.8 351.5L888.2 346.9ZM894.7 367.9L891.2 371.7L889.5 367.4ZM895.2 391.8L893.8 386.7L898.3 387.5ZM904.3 410.1L899.2 408.3L902.4 405ZM909.8 423.9L904.7 424L906.6 419.8ZM915.7 438.3L912.5 434.3L917.1 433.4ZM929 455.4L924 454.3L926.8 450.7ZM945 472L939.7 470.6L942.6 467ZM956.1 482.4L951.1 481.7L953.7 477.9ZM968.5 495.7L963.6 493.5L967 490.5ZM1007.2 517.2L1001.4 516.2L1003.9 512.4ZM1017.1 518.4L1012 518.2L1014.3 514.2ZM1031.9 525.1L1032.6 520.1L1036.4 522.6ZM1050 531.2L1048.2 526.3L1052.8 526.9ZM1069.6 530.2L1066.3 526.2L1070.8 525.2ZM1092.6 514.5L1090 510L1094.6 509.8ZM1122.5 502.4L1118.4 506.8L1116.5 502.6ZM1141.5 500.4L1137.5 504.8L1135.6 500.6ZM1172.5 483.5L1168.8 488.2L1166.6 484.1ZM1176.1 478.4L1181.2 478.3L1179.2 482.5ZM1190.9 464.8L1195.9 466.2L1192.7 469.6ZM1205.1 453.6L1209.9 455.5L1206.5 458.6ZM1215 437.5L1220.1 437.3L1218.3 441.5ZM1225.3 425L1229.8 422.4L1230 427ZM1235 407L1236.4 402L1239.8 405.1ZM1241.1 390.5L1239.5 385.6L1244.1 386.3ZM1246.1 372.4L1243.1 368.2L1247.7 367.5ZM1248.1 355.8L1245.2 351.5L1249.8 351ZM1247.9 337.6L1246.6 332.6L1251.1 333.6ZM1245.1 316.3L1246.6 311.4L1249.9 314.5ZM1241.5 296.8L1245.1 293.1L1246.6 297.5ZM1237.5 279.5L1241.9 276.9L1242.2 281.5ZM1230.1 263.3L1234.1 260.1L1235 264.6ZM1198.8 221.4L1194.2 219.1L1197.9 216.3ZM1134.9 177.8L1135.6 182.8L1131.3 181.4ZM1117.6 173L1118.7 178L1114.2 176.9ZM1101.3 169L1102.1 174.1L1097.7 172.7ZM1081.6 168.8L1080.2 173.8L1076.8 170.7ZM1061.5 170.5L1062.2 165.4L1066 168ZM953.1 205.4L958.4 208L955 211.1ZM918 262.1L922.5 258.1L924 262.4ZM916.3 275L919.4 270.9L921.5 275ZM909.8 292.4L914.6 290.5L914.2 295.1ZM906.3 312L907.4 306.9L911 309.8ZM908.3 329.9L905.4 325.6L910 325ZM908.4 349.9L903.3 349.5L905.6 345.5ZM909.1 365.9L904.2 367.5L904.9 363ZM908.8 383.2L913.4 380.9L913.4 385.5ZM915 401.5L919.6 399.3L919.6 403.9ZM925.7 421.6L921.1 419.3L924.7 416.5ZM934.2 435.6L931 431.6L935.5 430.6ZM945.3 450.4L944.2 445.4L948.7 446.5ZM952.2 466.5L955.7 462.8L957.3 467.1ZM965.4 478.9L969.5 475.4L970.8 479.8ZM986.7 487.1L984.4 482.5L989 482.5ZM1002.5 497.4L1005.3 493.2L1007.6 497.2ZM1020.3 504.1L1022.4 499.5L1025.3 503ZM1036.2 510.6L1037.2 505.6L1040.8 508.4ZM1057.3 512.4L1056.6 507.4L1060.9 508.8ZM1073.7 515.2L1071.8 510.5L1076.4 510.8ZM1082.3 495.7L1080 491L1084.6 491.1ZM1101.7 491.2L1098.5 495.2L1096.5 491ZM1123.3 485.7L1120.1 489.7L1118.2 485.5ZM1137.1 481.9L1134.1 486L1132 481.9ZM1156.4 475.2L1153.4 479.5L1151.2 475.4ZM1168.1 465.1L1172.5 462.4L1172.9 467ZM1179.9 454.4L1184.5 452.1L1184.5 456.7ZM1195.1 440.8L1199.5 438.2L1199.8 442.8ZM1205.3 424.8L1207.6 420.2L1210.4 423.8ZM1215.8 412.1L1216 407L1220.1 409.2ZM1225.2 394.2L1222.5 389.8L1227.1 389.4ZM1228.7 374.6L1224.2 372.1L1228.1 369.5ZM1233.9 358.1L1229.5 355.4L1233.4 353ZM1232.1 337.6L1228.2 334.3L1232.4 332.4ZM1229.2 320.6L1226.6 316.2L1231.1 315.8ZM1225.7 303.5L1224.8 298.4L1229.2 299.7ZM1220.2 282.8L1220.8 277.7L1224.7 280.3ZM1210.8 268.6L1210 263.5L1214.4 265ZM1203.6 251L1201.4 246.4L1206 246.5ZM1191.1 236.1L1186.5 233.8L1190.2 231ZM1177.9 223.1L1172.8 223.9L1174.2 219.5ZM1164.1 212.6L1159.9 215.6L1159.2 211.1ZM1149.4 201.6L1146.7 205.9L1144.3 202ZM1111.4 189.3L1109 193.8L1106.3 190.1ZM1096.1 186.3L1092.8 190.2L1091 186ZM1071.2 189L1072 184L1075.7 186.7ZM926.2 290.7L929.9 286.8L931.6 291.1ZM926.5 307.8L931.4 306L930.9 310.5ZM924.7 328L925.3 322.9L929.2 325.4ZM923.3 347.1L919.3 343.9L923.5 342ZM926 364L920.9 363.5L923.4 359.6ZM928.3 382L933.2 380.3L932.6 384.9ZM936.5 401.4L931.4 401.5L933.4 397.3ZM945.8 416.1L940.8 414.9L943.7 411.4ZM956 433.8L951.9 430.7L956 428.7ZM964.5 447.2L961.8 442.8L966.4 442.4ZM972.8 459.3L977.1 456.5L977.6 461.1ZM991.4 472.7L991.7 467.6L995.7 469.8ZM1007.4 480.7L1007.7 475.6L1011.7 477.9ZM1027.2 489.3L1027.3 484.2L1031.4 486.3ZM1045.2 492.2L1044.2 487.2L1048.6 488.4ZM1063.6 497.9L1062.1 493L1066.6 493.7ZM1089.7 477.7L1085.4 474.9L1089.4 472.6ZM1109.5 477.3L1106 473.5L1110.4 472.2ZM1124.7 472.6L1122 468.2L1126.6 467.8ZM1141.1 462.9L1139.1 458.2L1143.7 458.5ZM1156.7 452.8L1155.4 447.8L1159.9 448.8ZM1173.2 442.2L1172.9 437L1177.1 438.9ZM1184 429.1L1182 424.4L1186.6 424.7ZM1196.2 411.1L1191.9 408.3L1195.9 406ZM1205.2 396.5L1200.2 395.3L1203.2 391.8ZM1213.9 376.4L1208.8 377L1210.3 372.7ZM1214.8 357.1L1210.1 359.2L1210.3 354.7ZM1218.4 340.4L1213.3 341.2L1214.7 336.8ZM1216 320.4L1210.9 319.6L1213.6 315.9ZM1194.1 270L1189.3 268.2L1192.7 265.1ZM1183.7 254.7L1178.5 254.2L1181 250.3ZM1173.3 241.3L1168.3 242.2L1169.6 237.8ZM1142.3 216.3L1138.6 219.9L1137.2 215.5ZM1107.9 205.7L1103.5 208.3L1103.2 203.7ZM1088.8 204L1083.7 204L1085.7 199.9ZM941.6 313.1L941 307.5L945.4 308.9ZM941.3 331.5L939 326.3L943.6 326.3ZM939.8 346.2L937.5 341.6L942.1 341.6ZM945.3 363.6L940.2 362.7L943 359ZM948 381.1L943 382.1L944.1 377.7ZM954.3 396.1L949.4 397.6L950.2 393ZM965 412.6L959.9 413.7L961.1 409.2ZM973.3 429.3L968.2 428.6L970.8 424.8ZM985.7 443.8L981.1 441.6L984.7 438.7ZM1002 454L997.6 451.4L1001.4 448.9ZM1018.7 464.3L1014.7 461.1L1018.9 459.1ZM1036.1 471.9L1032.2 468.6L1036.4 466.8ZM1054.2 477.3L1050.3 474L1054.5 472.2ZM1072.6 480.2L1068.6 477L1072.8 475ZM1098.7 460.7L1093.7 461.8L1094.8 457.4ZM1116.2 454L1111.3 455.4L1112.2 450.9ZM1133.8 450L1128.6 449.8L1130.8 445.8ZM1148.4 441.7L1143.3 441.1L1145.7 437.2ZM1161.2 428.4L1156.1 429.3L1157.4 424.9ZM1175.1 412.2L1170.6 414.7L1170.4 410.1ZM1183.3 397.5L1180.1 401.5L1178.2 397.4ZM1191.2 378.8L1189.8 383.7L1186.4 380.6ZM1197.8 361.3L1196.8 366.4L1193.1 363.6ZM1197.3 344.8L1197 349.9L1193.1 347.6ZM1198.3 327.6L1196.7 332.4L1193.4 329.2ZM1188.3 291.1L1184.5 294.6L1183.2 290.2ZM1168.7 261.8L1164.8 265.2L1163.7 260.8ZM1142.2 236.1L1138.5 239.7L1137.2 235.3ZM1127 229L1123 232.2L1122.1 227.7ZM1106.8 225.4L1101.8 226.6L1102.8 222.1ZM1088.6 224.6L1083.9 222.6L1087.4 219.6ZM1009 258.4L1004.6 254.3L1008.7 252.3ZM957.1 357.7L954.8 352.1L959.4 352.1ZM962.9 362.1L957.8 362.6L959.4 358.3ZM967.3 381.4L963.3 384.7L962.4 380.2ZM976.1 395.8L973 399.9L970.9 395.8ZM983.6 413L979.9 416.6L978.5 412.2ZM995.7 427.1L991.5 430L990.8 425.4ZM1009.8 436.9L1005.4 439.6L1005 435ZM1026.1 446.1L1021.5 448.5L1021.4 443.9ZM1042.2 453.9L1037.5 455.9L1037.8 451.3ZM1062.3 457.7L1057.7 460L1057.7 455.4ZM1078.2 459.8L1073.5 461.9L1073.7 457.3ZM1084.8 439.1L1085.9 444.1L1081.4 443ZM1104.2 437.1L1104.8 442.2L1100.5 440.6ZM1120.6 433.7L1120.2 438.8L1116.3 436.5ZM1137.8 422.6L1138.2 427.7L1134 425.9ZM1150.7 410L1152.3 414.8L1147.8 414.2ZM1163.1 397.9L1165.2 402.5L1160.6 402.4ZM1169.4 383L1173.3 386.5L1169 388.1ZM1174.4 363.8L1179.1 365.6L1175.7 368.7ZM1177.6 345.5L1182.3 347.5L1178.8 350.5ZM1178.8 326.5L1182.7 329.8L1178.5 331.6ZM1174.3 310.5L1177.6 314.4L1173.2 315.5ZM1171.5 292L1172.4 297.1L1168 295.8ZM1159.2 277.4L1159.8 282.5L1155.5 280.9ZM1147.4 264L1146.9 269.1L1143 266.7ZM1136.2 252.3L1134.1 257L1131.2 253.5ZM1119.9 244.1L1116.3 247.8L1114.8 243.4ZM1097.9 244L1096.5 239.1L1101 239.9ZM1079.2 244.4L1077.7 239.1L1082.2 239.8ZM997 280.9L996.3 275.3L1000.7 276.7ZM978.4 372L976.1 366.6L980.7 366.6ZM984.2 374.8L983 379.8L979.4 376.8ZM992.8 393.1L993.7 398.1L989.3 396.9ZM1003.8 406.8L1005.4 411.7L1000.8 411ZM1015.4 417.9L1016.8 422.8L1012.3 422ZM1032.8 428.9L1034 433.9L1029.5 432.9ZM1049.7 437.4L1050 442.6L1045.8 440.8ZM1067.5 441.4L1067.7 446.6L1063.5 444.6ZM1089.9 422.9L1095 422.5L1093.3 426.8ZM1108 419.1L1113.2 419L1111.2 423.2ZM1123.9 411.7L1129 411.6L1127.1 415.7ZM1138.3 399.5L1143.3 398.2L1142.4 402.7ZM1149.5 385.2L1154 382.7L1154.3 387.3ZM1154.7 369.9L1158 366L1159.8 370.2ZM1161.5 350.7L1165.5 347.5L1166.5 352ZM1159 332.1L1163.2 329.1L1163.9 333.6ZM1158.1 312.9L1163.2 312.6L1161.4 316.8ZM1151 295.1L1155.8 296.9L1152.4 300ZM1138.6 282.2L1142.8 285.2L1138.7 287.4ZM1128 269.2L1130 273.9L1125.4 273.6ZM1111.3 259.1L1109.6 264L1106.4 260.6ZM1093.2 260.4L1091.7 255.5L1096.3 256.3ZM996.1 368L993.8 362.8L998.4 362.8ZM1001.2 373.1L1004.9 376.8L1000.5 378.2ZM1009.6 389.9L1014.5 391.6L1011.3 394.8ZM1021 402.3L1026.1 402.8L1023.7 406.7ZM1035.3 415.4L1040.3 416.4L1037.5 420.1ZM1053.4 422.2L1058.5 422.8L1056.1 426.7ZM1069 424.6L1074.1 424.8L1071.9 428.9ZM1077.4 409L1078 403.9L1081.8 406.4ZM1094.8 407.8L1095.3 402.7L1099.2 405.1ZM1114 398.6L1113.3 393.5L1117.7 395ZM1127.4 386.9L1125.8 382L1130.4 382.7ZM1137.5 374.1L1135.7 369.3L1140.3 369.8ZM1143.2 356.5L1141.4 351.7L1145.9 352.1ZM1144.4 338.4L1144 333.3L1148.3 335ZM1140.9 318.7L1143.3 314.2L1145.9 317.9ZM1130.6 302.3L1134.9 299.5L1135.4 304.1ZM1116.5 285.8L1121.5 287L1118.5 290.5ZM1105.1 275.3L1107.6 279.8L1103 280ZM1085.3 274.4L1083.2 269.7L1087.8 269.9ZM1034 300.1L1031.2 294.8L1035.8 294.4ZM1022.2 309.8L1019.5 304.8L1024.1 304.5ZM1014.3 325.8L1012 320.7L1016.6 320.7ZM1012.2 340.1L1009.2 335.9L1013.7 335.2ZM1012.4 353.6L1016.6 356.6L1012.6 358.8ZM1016.4 373.9L1021.5 372.8L1020.3 377.3ZM1028.8 388.6L1032.3 384.8L1033.9 389.1ZM1043 399.4L1045.1 394.7L1048 398.3ZM1058.8 409.1L1060.9 404.4L1063.8 408ZM1087.3 394L1083.5 390.6L1087.8 388.9ZM1103.7 385.1L1099.1 383L1102.6 380.1ZM1117.7 373.8L1112.8 372.1L1116.1 368.9ZM1128.4 356.1L1123.8 353.9L1127.4 351.1ZM1130.1 340.4L1126.5 336.8L1130.8 335.3ZM1124 320.5L1123.5 315.4L1127.8 317ZM1112 304.5L1115.4 300.6L1117.2 304.9ZM1095.5 291.2L1100.5 292.2L1097.7 295.9ZM1080.4 288.4L1083.1 292.7L1078.5 293.2ZM1060.5 294.1L1058.2 289.6L1062.8 289.5ZM1046.7 300.6L1043 304.1L1041.6 299.8ZM1034.2 314.6L1032.2 319.3L1029.2 315.8ZM1026.2 332L1029.2 336.2L1024.7 336.9ZM1028.2 354.1L1032.9 351.9L1032.8 356.5ZM1037.2 372L1038.3 367L1041.8 369.8ZM1048.6 384.7L1047.3 379.7L1051.8 380.7ZM1069.6 391.6L1066.2 387.8L1070.6 386.6ZM1093.4 370.8L1088.3 371L1090.2 366.8ZM1107.7 357.3L1102.6 357.6L1104.4 353.4ZM1112.8 342.6L1107.8 341.2L1111 337.8ZM1106.6 324.3L1104.5 319.6L1109.1 319.7ZM1087.8 312.4L1090.6 308.2L1092.9 312.2ZM1068.8 307.6L1073.9 307.9L1071.7 311.9ZM1052.9 313.7L1057.5 316.1L1053.7 318.8ZM1045.2 332.2L1050 330.4L1049.5 334.9ZM1046.5 352.1L1047.4 347.1L1051.1 349.8ZM1058.8 367.5L1055.3 363.7L1059.7 362.4ZM1076.7 373.7L1071.7 372.5L1074.6 368.9ZM1082.1 356.7L1077.1 355.8L1079.8 352.1ZM1093.9 343.4L1089 341.8L1092.3 338.5ZM1084.4 329.9L1082.6 325.1L1087.2 325.5ZM1063.2 330.9L1065.1 326.1L1068.2 329.5ZM1063.7 352.1L1060.7 348L1065.2 347.2Z" fill="#000"/><path d="M1329.1 394.4L1327.9 394.5M1334 378.8L1331.5 379.2M1333.9 358.6L1333.1 363.2M1337.1 339.7L1336.8 354.3M1334.6 347.9L1336.8 354.3L1339.2 348M1336.8 321.8L1336.1 325.9M1039.9 139.6L1034.7 128.1M1039 132.5L1034.7 128.1L1035.2 134.2M975.5 518.4L977.3 521M991.8 526.8L1009.5 536.8M1001.1 535.3L1009.5 536.8L1003.9 530.3M1006 534.2L1010.4 536.7M1159 510.2L1160.3 509.4M1049.2 154.2L1048 151.9M1034 157.7L1028.2 145.4M1032.8 150L1028.2 145.4L1028.8 151.8M967.3 188.5L963.6 183.4M916.7 244.8L912.9 243.7M896.3 386.1L896.1 387.1M899.5 405.3L900.8 406.6M939.3 467.4L941.1 468.8M964.4 490.9L965.3 492M982 503.1L984.7 515.8M981.4 510.5L984.7 515.8L985.6 509.6M998.4 511.5L1002.6 514.3M1111.7 507.3L1117.5 504.7M1131.2 505.1L1136.5 502.7M1146 497.9L1157.7 491.5M1153.4 496.3L1157.7 491.5L1151.4 492.5M1162.5 489L1167.7 486.1M1045.3 172.3L1038.8 185.9M1039.5 179L1038.8 185.9L1043.8 181M1025.5 178.7L1019.4 195.6M1019.4 187.8L1019.4 195.6L1024.4 189.6M1010 183.9L997.7 173.3M1004.6 175.9L997.7 173.3L1001.3 179.6M990.8 193.2L979.4 179.4M986.1 183.4L979.4 179.4L982 186.8M975.1 201.8L969.5 190.4M974 194.7L969.5 190.4L970.2 196.5M960.7 213.9L956.7 209.5M950.6 227.9L931 227.1M939 224.6L931 227.1L938.7 230.2M936.1 242L921.3 239.5M928.1 238.3L921.3 239.5L927.4 242.9M929.3 258.1L923.2 260.3M972.1 477L970.2 477.6M1056.5 187.2L1047.5 202.9M1048.9 195.1L1047.5 202.9L1053.5 197.8M1036.2 193.2L1030.4 217.1M1029.3 207.2L1030.4 217.1L1035.9 208.8M1018 198.3L1015 223.6M1012.7 213.6L1015 223.6L1019.6 214.4M1003.6 207.3L1000.4 230.6M998.4 221.2L1000.4 230.6L1004.9 222.1M987.8 217.5L986.4 231.1M984.9 224.8L986.4 231.1L989.2 225.2M971.3 228.4L951 220M960.1 220.4L951 220L957.7 226.2M960.8 242.8L937.1 235.2M947.2 234.9L937.1 235.2L945.1 241.3M948.6 258L924.8 259.6M933.7 255.7L924.8 259.6L934.2 262.3M941.1 272.3L924.6 280M930.2 274.4L924.6 280L932.5 279.3M931.8 288.5L930.7 288.9M1068.2 205.1L1064.8 218.3M1064.2 211.8L1064.8 218.3L1068.5 212.9M1050 207.3L1046.5 230.1M1044.7 220.8L1046.5 230.1L1051 221.8M1031.6 213.4L1037.6 243.8M1031.4 233.5L1037.6 243.8L1039.4 231.9M1014.4 218.7L1021.2 245.6M1015 236.5L1021.2 245.6L1022.2 234.7M998.9 229L1001.7 245.6M998 239L1001.7 245.6L1003 238.2M981.8 241.7L959.1 232.8M969 233.1L959.1 232.8L966.6 239.3M969.8 256.8L943.9 250.8M954.4 249.6L943.9 250.8L952.8 256.6M959.1 272L936.8 279.8M944.3 273.7L936.8 279.8L946.5 279.9M951.2 289.1L938.4 295.8M943 290.8L938.4 295.8L945.1 294.9M944.3 304.8L943.2 308.2M941.3 322.5L941.3 326.3M1053 224L1057.8 247M1052.7 238.8L1057.8 247L1059.1 237.5M1035.5 229.4L1046 259.6M1038.2 250L1046 259.6L1046.1 247.3M1016.4 238.6L1029.3 260.2M1021.5 253.8L1029.3 260.2L1027.4 250.2M1003.8 247.4L1006.7 253.3M987.9 259.9L963.3 257M973.1 254.7L963.3 257L972.3 261.5M979.4 274.6L957.6 273.3M966.4 270.7L957.6 273.3L966 276.9M969.5 292.6L969.4 307.6M967.1 301L969.4 307.6L971.8 301.1M961.4 308.7L961.4 326.5M958.8 319.2L961.4 326.5L964 319.2M957.8 326.7L957.6 344.6M955 337.2L957.6 344.6L960.4 337.3M957.1 345.2L957.1 352.1M1080.3 237.2L1079.9 239.5M1061.3 239.8L1067.7 261M1062.2 253.6L1067.7 261L1068.2 251.8M1046 242.7L1052.2 263.8M1046.8 256.5L1052.2 263.8L1052.8 254.7M1028 252.8L1037.2 272.2M1030.8 265.8L1037.2 272.2L1036.3 263.2M1014.6 261.5L1020.4 274.8M1015.8 269.9L1020.4 274.8L1019.9 268.1M999.3 273.2L998.5 276M990.4 288.3L995.8 300.5M991.4 295.9L995.8 300.5L995.3 294.2M982.9 305.2L987.6 320.1M983.3 314.4L987.6 320.1L987.9 313M976 322.8L977 340.4M974 333.3L977 340.4L979.2 333M976.1 343.6L976.7 359.9M974 353.1L976.7 359.9L979 352.9M978.4 361.7L978.4 366.6M1074.7 254.3L1073.8 271.6M1071.6 264.3L1073.8 271.6L1076.8 264.6M1056.1 260.1L1056.7 285.6M1053 276L1056.7 285.6L1060 275.8M1039.6 266.6L1041.5 288.4M1037.7 280.1L1041.5 288.4L1043.8 279.6M1024.3 276.7L1027.7 291.2M1024 285.4L1027.7 291.2L1028.5 284.4M1009.4 288.3L1013.3 301.1M1009.5 296L1013.3 301.1L1013.6 294.7M1000.3 305.3L1002.7 317.9M999.5 312.6L1002.7 317.9L1003.7 311.8M996.3 320.5L999.3 335.2M995.7 329.3L999.3 335.2L1000.3 328.4M991.5 339.7L993.6 355.6M990.3 349.1L993.6 355.6L995.1 348.5M996.1 358.9L996.1 362.8M1067.6 275.3L1067.9 292.2M1065.2 285.2L1067.9 292.2L1070.3 285.1M1051.1 279.9L1051.2 298.4M1048.5 290.9L1051.2 298.4L1053.9 290.8M1032.9 288.5L1033.5 294.6M1021.5 301.3L1021.8 304.6M1014.2 317.8L1014.3 320.7M1353.5 370L1329.5 376M1337.8 370.4L1329.5 376L1339.5 377M1342 395.5L1325 396.5M1331.9 393.5L1325 396.5L1332.2 398.6M1342.5 346L1343.5 362M1340.6 355.4L1343.5 362L1345.5 355.1" fill="none" stroke="#000" stroke-width="1.45" stroke-linejoin="miter"/><circle cx="1078" cy="340.7" r="274.3" fill="none" stroke="#000" stroke-width="2.9"/><g font-size="21.7" fill="#111"><text x="1078" y="61.7" text-anchor="middle">60W</text><text x="934" y="99.7" text-anchor="end">30W</text><text x="1220.7" y="99.7" text-anchor="start">90W</text><text x="830.5" y="204.7" text-anchor="end">0</text><text x="1323" y="204.7" text-anchor="start">120W</text><text x="792.5" y="348.2" text-anchor="end">30E</text><text x="1362.5" y="348.2" text-anchor="start">150W</text><text x="830.5" y="490.7" text-anchor="end">60E</text><text x="1323" y="490.7" text-anchor="start">180</text><text x="935.5" y="595.7" text-anchor="end">90E</text><text x="1220.5" y="595.7" text-anchor="start">150E</text><text x="1077.5" y="633.7" text-anchor="middle">120E</text></g><g><rect x="1361.6" y="368.2" width="44" height="34.1" fill="#fff" stroke="#222" stroke-width="1.1"/><text x="1383.6" y="382.6" font-size="17.3" text-anchor="middle" fill="#111">1.5</text><path d="M1361.6 392.2L1404.6 392.2" stroke="#000" stroke-width="1.3" fill="none"/><path d="M1394.1 388.2L1405.1 392.2L1394.1 396.2" stroke="#000" stroke-width="1.5" fill="none" stroke-linejoin="miter"/></g></g>
<g><clipPath id="clipC"><circle cx="326.4" cy="972.5" r="274.3"/></clipPath><g clip-path="url(#clipC)"><path d="M205.3 815.2L208.3 808.9L213.1 802.5L218.8 796.9L224.5 792.9L230.8 789.9L237.5 788L246.4 786.6L254.4 786.4L263.3 787.5L273.1 789.6L281.6 792.4L288.9 795.8L295.6 800.2L307.2 809.6L312.2 814.6L316.5 820.1L318.9 824.4L320.6 829.1L322 834.9L322.6 840.9L322.3 852.9L319.5 868.6L308.3 907.1L305.1 915.4L301.1 922.4L296.4 928.8L291.6 933.9L286.2 938.3L279.9 941.3L273.1 942.7L266.1 942.5L258.4 940.4L251.3 936.9L244.9 932.1L237 924.4L231 916.4L225.6 906.9L221.5 896.7L205 835.8L204.1 830.9L203.7 824.9L204 820Z" fill="#fff1bc"/><path d="M237.5 915.5L232.9 914L230.2 914.3L228.7 915.2L226.8 918.2L225.7 924.1L225.2 936L226.1 946L227.8 955.8L231.6 968.2L232.6 974.1L232.2 981.1L230.1 987.7L226.1 993.4L223.1 995.9L220.6 997.4L215.8 998.9L202 1000.7L195.6 1003.2L193.3 1005.1L191.5 1007.4L188.7 1013.7L186.3 1024.5L186 1028.4L186.4 1032.4L187.6 1036.2L189.7 1040.7L192.5 1044.8L196 1048.3L201 1051.6L209.3 1054.9L218.9 1057.8L229.6 1060.1L270.3 1065.3L283.3 1066.3L293.3 1066.4L311.2 1065.1L343 1061.3L361.7 1057.9L369.3 1055.5L375.6 1052.5L382.2 1048L387.1 1043.1L390.7 1038.3L394.2 1032.3L397.1 1025.9L400.7 1015.7L401.7 1014.1L402.5 1013.8L399.1 1004.1L395.8 992.5L393.4 982.8L391.5 972L390.5 959L391.5 938.1L391 930.1L389.8 923.2L387.4 915.6L384 908.4L380.1 902.6L375.3 897.6L371.2 894.7L365.9 891.9L360.3 889.9L355.4 889.2L350.5 889.5L346.7 890.6L343.3 892.6L340.6 895.4L339.4 898.1L338.4 901.9L337.9 912.9L339.1 923.8L343.8 945.2L343.6 951.2L341.9 957.9L333.1 984.5L329.9 990.6L325.6 994.7L320.4 997.7L313.8 1000L307 1001.4L301 1001.7L296 1001.5L291.1 1000.5L286.4 998.9L281 996.4L275.1 992.7L270.4 988.9L267.1 985.2L264.3 981.1L262.2 976.6L258.8 964L257.8 955.1L258.8 941.2L258.3 937.3L257.4 934.4L256 931.8L253.5 928.8L245.5 922.8L239.9 917.2Z" fill="#fff1bc"/><path d="M406 979.4L406.2 969.4L406.7 963.4L408.1 957.6L410.1 953L413.2 947.9L417.1 943.4L422.4 938.8L428.1 934.8L434.2 931.5L440.7 928.8L446.5 927.2L453.4 926L467.3 924.9L477.3 924.7L484.3 925.4L491 927.2L498.1 930.8L503.9 936.2L509.4 944.5L514.1 955.5L521.5 982.5L524.4 998.3L525.1 1005.2L525.1 1012.2L524.4 1018.2L523.2 1023L520.4 1028.3L515.9 1033.6L510.6 1038L500.2 1044L494.5 1048.1L491.9 1051L487.5 1058.8L484.4 1062.7L459.6 1086L455.6 1091.6L450.6 1104.6L444.8 1113.9L439.3 1121.1L432.8 1128.6L427.1 1134.3L422.5 1138.1L405.2 1148.1L391.4 1158L384.6 1162.2L374 1167.8L363.7 1171.8L351.1 1174.9L337.2 1176.1L327.3 1175.2L317.8 1172L310 1167.6L303.9 1162.5L297.5 1154.9L293 1147.1L289.8 1138.7L288.3 1130.9L287 1117L287.3 1113L288.1 1110.2L290.7 1106.1L295.2 1102.1L301.9 1097.8L310 1093.9L319.5 1090.7L329.2 1088.4L336.1 1087.4L357.1 1085.9L366.9 1084.2L375.6 1081.9L384 1078.6L391.8 1074.2L399 1068.8L405.4 1062.6L411.1 1055.6L414.9 1048.6L417.2 1041L418 1034L417 1028.2L411.6 1018.8L409.2 1011.2L406.8 994.4Z" fill="#bcf9ff"/><path d="M403.9 880.3L404.6 876.4L406 872.6L412.7 860.3L419.2 850.2L426.1 841.6L430.4 837.5L435.5 834.4L441.2 832.6L448.1 832L456 833.5L465.3 837.2L472 841.5L477.7 847.1L483.3 855.4L488 865.3L490.6 875L491.2 883.9L490.1 889.7L487.6 894L483.1 897.8L477.7 900.2L468.9 902.4L459 903.8L434.1 906L421.1 906.6L417.2 906.1L413.4 904.8L410.2 902.6L408.3 900.4L406.4 896.9L404.7 891.2L403.8 885.2Z" fill="#fff1bc"/><path d="M574.8 957.7L574 961.6L572.4 964.2L569.3 966.6L565.4 967.6L561.4 967L558.1 964.9L555.8 961.6L555 957.7L555.8 953.8L558.1 950.5L561.4 948.4L565.4 947.8L569.3 948.8L572.4 951.2L574 953.8Z" fill="#fff1bc"/><path d="M333.1 780.1L335.5 775.8L339 772.4L343.4 770.2L348.2 768.9L355.2 768.1L363.2 768.3L370.2 769.4L376.9 771.5L382.3 774L387.3 777.3L391.1 780.6L394.9 785.3L399 792.2L401.7 798.6L402.6 803.5L402 807.3L400.1 810.7L396.6 814.1L392.3 816.6L385.6 818.9L376.8 820.7L368.8 821.5L362.8 821.2L356.1 819.5L350.7 816.9L345.9 813.3L341.9 808.7L338.1 802.9L335 796.6L332.9 789.9L332.3 785Z" fill="#bcf9ff"/><path d="M151.4 865.2L152.4 858.3L153.7 853.5L155.5 850L158.2 847.2L162.5 844.8L167.4 843.8L172.3 843.9L177.1 845.2L181.5 847.4L185.4 850.5L189.2 855.1L192.2 860.3L193.6 865L194.1 869.9L193.6 875.9L192.3 880.7L188.8 886.7L185.9 889.3L183.4 890.7L180.5 891.5L176.6 891.8L172.6 891.3L168.8 890.2L165.2 888.5L161 885.8L155.5 880.1L153.5 876.7L152 873.1L151.3 869.2Z" fill="#bcf9ff"/><path d="M138.8 947.8L140.2 942L141.6 939.3L143.5 937L146 935.5L147.9 935.3L149.6 936L151.1 937.3L152.7 939.9L153.7 942.7L153.7 949.7L151.7 957.4L150.2 960.1L148.2 962.2L146.5 962.9L144.6 962.7L142.8 961.8L141.5 960.4L139.5 954.8Z" fill="#fff1bc"/><path d="M284.2 952.8L285.6 949.2L287.7 947.1L290.2 945.4L294.9 943.9L299.8 944.1L301.6 944.9L303.8 946.9L306.3 951.2L307.3 956.1L306.6 961L304.3 964.1L300.8 966L296.9 966.6L292 965.7L289.4 964.3L286.9 961.3L284.7 956.7Z" fill="#bcf9ff"/><path d="M222.8 830.2L224.6 825.5L227.2 821.3L231.2 816.8L235.1 813.8L239.5 811.4L245.2 809.5L251 808.3L257 807.7L264 807.8L271 808.6L276.8 809.9L282.5 811.9L288.7 815.1L294.5 819L299 823L302.1 826.9L304.1 830.3L305.9 835L308 844.7L308.1 855.7L306.7 866.6L301 889L295.7 904.1L292.6 910.4L288.9 916.3L285.7 920.1L282.6 922.6L278.2 924.8L272.4 926.2L267.4 926.4L261.5 925.3L255.9 923.2L251.7 920.6L247.3 916.5L243.7 911.8L239.9 904.7L236.8 896.3L231.9 874.8L223.8 848L222.3 838.1L222.3 834.1Z" fill="#ffd699"/><path d="M222.9 1017.8L225 1014.5L227.9 1011.9L233.1 1008.8L238.5 1006.3L251.1 1003L266.9 1000.2L278.4 996.9L282.3 996.4L287.3 996.7L306.1 999.7L311.1 1000L317 999.5L322.6 997.5L325.9 995.3L328.8 992.5L334.7 984.5L339.8 973.6L345 958.5L348.4 952.4L350.9 949.4L353.3 947.6L356.9 945.9L360.8 945.1L365.6 945.5L370.1 947.6L374.4 951.6L378.3 957.4L382 965.6L385 974.1L390.2 994.5L391.5 1002.4L391.7 1008.4L391.3 1014.4L390.2 1020.3L388.6 1025L385.9 1030.4L382 1036.2L377.5 1041.5L373.1 1045.6L369.8 1047.9L365.4 1050.1L352 1054.2L337.2 1057.1L316.4 1059.8L296.4 1060.5L277.4 1059.3L260.7 1056.1L253 1053.7L245.6 1050.8L238.4 1047.2L231.6 1042.9L227.7 1039.9L225.1 1036.9L223 1032.4L222 1027.6L221.8 1022.6Z" fill="#ffd699"/><path d="M419 984.1L419.6 969.1L421.9 959.4L423.9 954.8L426.6 950.6L429.8 946.8L434.3 942.9L439.4 939.7L444.9 937.3L451.5 935.2L458.4 933.9L466.4 933.3L473.4 933.4L480.3 934.2L486.2 935.6L492.4 938.7L497.2 943.6L501.8 951.3L505.5 961.7L509.4 977.2L511.9 993L512.2 1007L511.6 1012L510.5 1015.8L507.9 1021.1L503.7 1026.8L486.8 1043.7L477.5 1057.8L457.8 1079.1L451.3 1086.8L447.6 1092.7L443 1104.8L438.5 1111.4L429.7 1120.9L419.9 1129.4L407.7 1138.1L393 1146.8L383.2 1151.7L373.7 1155L362 1157.6L349.1 1158.6L340.1 1157.7L331.7 1154.7L327.5 1152.1L324.7 1149.3L322.5 1146L320.9 1141.3L320.3 1136.4L320.7 1131.5L322.2 1126.8L324.5 1123.6L328.3 1120.4L334.5 1117.2L368.8 1106.5L379.9 1101.8L390.3 1095.9L396.8 1091.1L402.4 1085.5L414.6 1069.6L419.4 1062L421.7 1056.5L423.1 1050.7L424.1 1042.7L424.4 1034.7L423.5 1020.8L419.9 1000.1Z" fill="#99eaff"/><path d="M448.7 868.5L449.9 867L452.7 866.2L454.5 867L455.8 868.6L456.6 870.4L456.6 872.4L455.5 875.3L454.1 876.6L452.2 876.9L449.7 875.3L448.5 871.5Z" fill="#ffd699"/><path d="M236.7 847.7L237.7 843.9L239.8 839.4L242.1 836.1L245.5 832.5L249.5 829.5L253.9 827.1L262.4 824.4L267.4 823.9L271.4 824.1L276.3 825.1L281 826.8L285.4 829.1L288.6 831.5L291.5 834.2L294.6 838.1L298.6 846.1L300.3 853.9L300 862.9L297.7 877.8L294.4 890.4L290.7 899.7L285.7 907.1L279.8 912.5L276.3 914.4L272.5 915.4L267.5 915.7L263.6 915.3L259.8 914.1L256.3 912.2L253.3 909.6L250.8 906.5L247.6 900.3L245.3 892.7L242.5 874.9L236.9 854.6Z" fill="#ff7856"/><path d="M249.1 1025.2L250.1 1021.4L251.7 1017.8L253.9 1014.4L256.6 1011.5L263.3 1007.2L276.2 1001.7L281.1 1000.5L286 1000.4L306.6 1004.5L311.6 1005L317.4 1004.1L322.9 1001.6L327.5 997.9L332.5 991.7L336.2 985.7L341.5 974.9L345.5 969.2L350.5 964.3L355.7 961.6L359.6 961L363.4 961.5L366.9 963.3L369.7 966.1L372.7 970.1L375.5 975.4L380.1 988.6L382.4 999.4L383 1009.4L382 1018.3L379.2 1025.8L374.3 1033.3L368.6 1038.9L361 1043.6L351.7 1047.2L333 1051L307.1 1053.8L296.1 1053.8L285.2 1052.1L277.5 1050.1L269.9 1047.4L262.7 1044L256.7 1040.4L253 1037L250.8 1033.8L249.2 1029.1Z" fill="#ff7856"/><path d="M427.3 988.8L428.1 972.8L429.1 966.9L431 961.3L433.4 956.9L436.6 953.1L440.4 949.8L444.6 947.2L451.1 944.7L458.9 942.9L467.9 942.2L474.8 942.8L480.5 944.4L485.7 947.4L489.2 950.9L492.5 955.9L495.1 962.4L497 970.1L498.8 983L499.3 993L498.7 1001L496.9 1008.8L494.7 1014.3L491.4 1019.3L486.9 1024.7L478.5 1033.3L469.1 1046.2L437.7 1082.5L432.5 1089.8L427.5 1100.6L423.6 1105.2L417.8 1110.7L409.9 1116.8L400.6 1122.7L390.9 1127.8L380.7 1132.2L374.1 1134.4L368.2 1135.4L363.3 1135.3L358.5 1134.1L355.4 1131.8L353.7 1128.6L353.8 1126L356 1123.1L362 1119.7L374.4 1115.6L382.6 1112L392.3 1106.7L401.5 1100.7L409.3 1094.4L415.6 1088L421 1080.8L425 1073.9L427.6 1067.4L429.3 1060.6L430.4 1052.7L430.9 1042.7L430.7 1025.7L428.2 1004.8Z" fill="#56b0ff"/><path d="M244.7 857.7L245.3 853.8L246.6 850L250.8 842.1L255.6 837L258.9 834.8L262.5 833.1L269.2 831.5L273.2 831.7L276.1 832.3L282.3 835.3L285.3 837.9L287.9 841L291.2 847.1L293.3 854.8L293.9 862.8L293.2 871.8L290.6 883.5L287.1 892.8L282.9 899.7L278 904.6L272.7 907.2L268.8 907.8L265.8 907.7L263 907L260.3 905.7L258 903.9L255.4 900.9L252.9 896.6L250.8 890L249.4 883.1L247.8 871.2L245 861.6Z" fill="#f72735"/><path d="M263 1027.7L263.2 1024.8L264.4 1021.1L266.7 1017.8L270.3 1014.5L273.7 1012.5L278.4 1010.7L282.3 1010L287.3 1009.9L292.2 1010.7L296 1012L299.4 1014L302.3 1016.7L304.8 1019.8L306.5 1023.4L307.5 1027.2L307.7 1031.1L307 1034L305.3 1037.5L303.4 1039.8L300.4 1042.3L296.9 1044.2L293.1 1045.4L288.2 1046.2L284.2 1046.3L279.3 1045.5L275.5 1044.3L272 1042.5L269.6 1040.7L267 1037.7L265 1034.3L263.5 1030.6Z" fill="#f72735"/><path d="M332.9 1017.7L335.2 1010.1L340.7 999.4L346.6 990L352.3 983L356 979.7L359.5 978.3L363.1 978.8L367.1 981.6L371.4 987.1L374.8 994.3L377.1 1003L378.1 1012L377.5 1019L375.8 1024.7L372.6 1031L368.3 1036.5L362.2 1041.5L355.8 1044.3L348.9 1045.4L346 1045L343.3 1044L340.8 1042.4L338.1 1039.5L334.7 1033.4L332.9 1025.7Z" fill="#f72735"/><path d="M433.2 974.7L434.4 968.8L436.2 964.2L439 960.1L442.6 956.7L446.7 953.9L451.4 952.2L456.3 951.3L462.2 951.2L468.2 952L472.9 953.5L476.4 955.3L480.2 958.5L483.3 962.4L485.6 966.8L487.3 972.5L488.3 978.4L488.7 987.4L488 997.4L486.1 1005.1L482.9 1012.4L478.9 1018.2L462.8 1036L449.5 1054.7L445.9 1058L442.3 1059.3L440.5 1059.3L438.9 1058.6L437.6 1057.5L436.1 1055L434 1048.4L432.5 1038.5L431.2 1021.5L430.6 1000.5L431.2 988.5Z" fill="#2857ff"/><path d="M256.4 875.2L255.3 864.2L255.6 858.2L257.3 851.4L260.7 845.3L265.7 840.5L269.1 838.5L272 837.7L274.9 837.5L277.8 838L283.1 840.7L286.5 844.3L289 849.7L290.3 856.6L290.6 865.6L289.5 874.6L287.5 882.3L283.9 890.6L280 896.4L276.1 899.5L271.5 901.1L266.8 900.4L262.7 897.7L260.2 894.7L258.3 890.1L257.1 884.2Z" fill="#d8152f"/><path d="M340.5 1025.2L341.8 1018.3L345 1011L349.1 1005.3L353.6 1001.4L358.1 999.5L363 999.6L367.2 1001.9L370.5 1005.6L372.3 1009.2L373.3 1013L373.6 1018L373.2 1023L372.1 1026.9L370.1 1031.5L367.9 1034.8L365 1037.5L361.5 1039.3L357.6 1040.1L352.7 1039.9L348.9 1038.8L345.7 1036.6L342.5 1032.7L341 1029.1Z" fill="#d8152f"/><path d="M435.6 979.4L438.1 972.9L441.4 968L445.4 965.1L451 963.2L457.9 963.3L463.4 965.3L466.9 968.7L469.4 974.1L470.7 980.9L470.9 988.9L470 996.8L467.7 1005.6L464.3 1013.9L460.8 1019.9L456.1 1025.1L451.9 1027.4L447.1 1027.9L443.6 1026.5L440.1 1023.1L437 1016.9L434.8 1008.1L433.7 997.2L434 987.2Z" fill="#181cf7"/><g fill="none" stroke="#a030e6" stroke-width="0.95" stroke-dasharray="4 4.8"><circle cx="326.4" cy="972.5" r="250.9"/><circle cx="326.4" cy="972.5" r="188.8"/><circle cx="326.4" cy="972.5" r="135.4"/><circle cx="326.4" cy="972.5" r="87.6"/><circle cx="326.4" cy="972.5" r="43.1"/><path d="M88.8 835.4L250.5 928.7"/><path d="M52.1 972.5L238.8 972.5"/><path d="M88.8 1109.7L250.5 1016.3"/><path d="M189.2 1210.1L282.6 1048.4"/><path d="M326.4 1246.8L326.4 1060.1"/><path d="M463.5 1210.1L370.2 1048.4"/><path d="M564 1109.7L402.3 1016.3"/><path d="M600.7 972.5L414 972.5"/><path d="M564 835.4L402.3 928.7"/><path d="M463.5 734.9L370.2 896.6"/><path d="M326.4 698.2L326.4 884.9"/><path d="M189.2 734.9L282.6 896.6"/><path d="M250.5 928.7L326.4 972.5"/><path d="M282.6 1048.4L326.4 972.5"/><path d="M402.3 1016.3L326.4 972.5"/><path d="M370.2 896.6L326.4 972.5"/></g><path d="M125.6 781.9L133.1 781.9L136.1 781.6L146.1 781.2L149.3 783.9L156 786.5L157.1 793.5L160.7 799.2L165.3 805.1L173.1 808.1L178 818.9L180.9 829.6L182.3 837.2L180.7 845.4L180.3 849.9L182.3 852.9L185.7 855.3L188.2 862.2L187.5 867.9L190.7 873.9L190.1 876L184.5 880.4L182.3 882.5L182.4 887.3L181.9 892.4L180.5 898.2L178 903.3L176.3 908.8L174.3 912.9L174.3 916.8L172.2 919.4L170.7 917.4L167.8 917L164.6 916.2L162.6 913.2L159.8 915.5L157.2 917.5L156.1 921.1L152.8 926L149 927L147.2 929.8L142.9 935.2L143.9 940L148.2 941.4L150.3 944.6L149.6 949.2L146.5 953.6L144.3 956.6L142.8 962.9L141 969.3L142.1 972.2L143.7 975.7L142.7 979.9L142.1 983.8L143 986.3L146.1 987.6L148.8 988L153 989.2L156.7 990L158.8 989.5L162.9 990.3L162.7 988.3L163.2 985.6L160.4 981.2L161.7 978.3L163 974.5L160.5 971.1L162.4 966.8L163.5 964.8L166.4 964.7L168.6 962.8L170.7 963.8L172.5 962.3L174.3 962.4L175.4 965.9L175.7 969.9L177.4 970.4M178.1 970.2L178.1 975.1L181 980.1L181.4 985.7L179.3 988.7L178.8 993.2L179.5 997.6L182.4 1002.1L185.4 1001.2L186.8 999.6L187.9 996.2L190.3 991.6L192.1 989.7L192.8 988L195.6 990.9L199.6 993L198.7 989.5L196.2 984.6L193.5 984.1L191.6 985.2L189.3 982.1L189.9 980.9L192.4 978.3L194.5 980.8L196 977.1L195.9 974.1L191.6 971.8L188.3 969.4L185 967.3L182.7 966.2L180.6 967.4ZM177.6 969.9L177.5 966L175.9 963.8L176.7 962L177.7 957.9L175.2 956.1L176.8 953.9L175.2 952.9L172.6 953.6L170.1 954.1L167.8 955.8L167.5 955L166.3 952.8L162.7 953L163 950.7L164.4 948.9L167.7 948.2L169.9 948L168.2 952.5L170.1 949.1L172.1 947.2L175.2 945.8L178.2 944.8L181.6 945.7L185.1 943.7L188.5 940.7L192 937.7L196.5 936.5L196.1 934.4L198.3 935L198.6 931.7L196 931.1L192 932.7L188 933.3L184.7 937.7L181.6 938.8L177.3 942.2L176.9 940.7L179.4 939.1L177.1 936.9L174.4 937.7L172.7 935.6L171.5 933L175 935L178.7 934.6L182.3 931.7L184.5 929.1L187.1 927.8L190 925.8L194.1 925.1L196.5 924.7L198.2 923L197.4 920.4L197.4 918.5L196.5 916.3L198 913.7L200.1 910.9L199.7 907.9L197.7 907.5L195.8 903.6L195.7 899.5L193.2 894.7L190.1 894.5L189.1 891.3L188.3 889.9L187.5 885.1L191 879.8L190.9 876.2L193.6 874.9L196.8 874.8L197.9 872.1L199.7 869.9L202.9 873.2L205.1 872.8L208.3 877.2L210.6 879.8L213.9 881.7L216.4 882.4L216 885L214.5 888.2L212.6 890.7L209.7 894.3L206.7 898.3L209.5 901.4L212.1 903.6L214 904.4L216.6 903.9L218.2 904.4L220 903.4L222.3 901.2L224.4 901.6L223.9 904.7L221.8 907.1L221.3 908.1L224.2 909.6L222.8 910L221.8 912.4L221.9 914.8L224.1 917.6L223.9 920L225.2 923.1L227.2 925.6L227.8 927.3L226.9 930.2L226.6 932.4L227.3 934.1L230.4 934.9L232.1 934.8L235.1 935.8L236.5 937.3L237.1 941L233.7 939.5L232.8 940.1L230.5 937.4L229.5 936.5L227.6 936.9L226 937.7L226 939.9L226 942.8L223.8 943.7L224.2 947L224.9 950.9L223.4 951.9L223.3 954.1L226.7 956.9L229.2 957.1L232.4 958.6L232.5 960.3L230.2 961.2L230.3 962.7L233.1 963.4L235.1 962.1L236.9 962.3L237.6 964.4L237.7 967.1L237.3 969.4L238.5 972.8L239.7 971L240.9 970.6L240.4 968L239.7 964.9L238.8 961.7L240.8 960.5L242.8 959.9L245.8 960.4L249.1 960.9L251.5 963.3L254.1 966.7L256.6 965.8L256.4 962.9L253.9 961.4L251.4 959.7L249.2 956.8L248 955L243 953.6L240.4 955.5L238.6 955.3L236.8 951.8L234.6 950.6L231.3 949.5L229.7 948.2L228.7 945L229.3 942.8L231.6 942.8L236.4 943.1L240.6 943.3L243.4 943.4L241 941.9L240.3 939.5L239.7 937.5L240.1 935.9L243.5 934.9L248 936.1L252 937.8L253.3 940L255 944.4L256.7 947.8L258.9 950.6L261.4 952.6L263.2 954.8L265.4 956.7L266.3 958.1L269 961.1L270 963.6L271.4 966.2L272.1 968.5L271.7 970.6L269.9 973.5L268.5 971.5L267.9 973.5L267.1 975.6L266.1 978.8L264.1 981.8L262 985.2L259.9 985.4L257.9 982.1L258.6 978.4L260.2 975.4L257.6 976.7L253.9 978.6L251.4 981L251.3 983L252.7 982.2L254.1 983.3L253.9 985.9L256.5 984.8L259.6 986.7L259 989.3L261.9 988.8L265.5 987.4L266.6 986.6L266.2 989.8L264.9 990.7L262.3 990.3L262.5 992L265.3 993L267.2 994L269.8 996.5L269.4 998.5L271.3 1000.6L272.9 1002.2L276 1002.2L276.8 1003.5L276.9 1005.9L276.5 1009.4L277.6 1011.3L279.2 1008.1L282.1 1005.6L285.1 1004.7L288.2 1003.4L290.1 1003.5L289.9 1005.9L286.2 1009.7L281.7 1013.4L279.2 1017.3L276.1 1017.8L279.6 1017.7L283.5 1015.4L287 1010.5L291.1 1007.2L291.8 1010.3L293 1010.9L293.5 1012.5L293.1 1015.9L292.2 1017.8L295.2 1014.6L296.6 1009.3L301.5 1009.4L303 1008.6L307.4 1008.2L310.2 1008.9L313.2 1008.9L316.9 1006.4L318 1008.8L321 1010.8L321.9 1012.4L321 1016.7L318.4 1017.8L315.5 1019.5L318.3 1018.6L320.7 1018.7L321.4 1019.7L326.4 1021.4L329 1021.3L331.3 1019.4L333.5 1020.3L334.9 1023.6L335 1026.5L337 1026.8L337.8 1023.9L339.4 1024.5L342.1 1023.7L343.5 1020.8L344.1 1018.7L346 1018.6L348.8 1018.5L353 1018.6L355.6 1019.2L358.6 1016.8L362.7 1017.3L365.4 1017.3L367.1 1014.6L369.5 1011.3L373.2 1011.1L371.2 1008.8L374.9 1005.2L379.1 1003L382.5 1001.1L385.4 1000L388.6 997.6L391.6 995.8L394.4 1000L395.1 1001.6L392.4 1004L388.8 1006.4L391.1 1008.4L388.6 1011.4L389.3 1012.6L395.7 1013.8L393.7 1019.6L393.9 1023.4L394 1028.2L389.4 1033.4L387.7 1036L389.6 1039.6L390.2 1042.1L394.4 1044.9L395.1 1049.4L395.8 1049.6L396.3 1055.8L394.7 1058L395.8 1065.6L392.6 1063.6L388.2 1058.9L384.6 1053.8L383.1 1048.3L383.2 1045.2L383.1 1041.3L384.1 1036.8L384.2 1033.4L382.5 1029.6L383 1033.2L379.4 1035.7L376.2 1038.6L377.9 1046L374.5 1049.4L372 1049.1L368.5 1051.8L364.9 1053.2L361.8 1055L359.5 1060.9L356.8 1066.1L356.7 1071.7L358.3 1073.8L360.8 1072.4L364.1 1074.5L365.9 1073.8L366.8 1077.6L367.5 1082.5L368.8 1087.2L367.5 1095.3L364.9 1102.4L362.7 1107.9L358.5 1111.7L355.6 1111.3L353.2 1114.6L351.6 1120.1L347.6 1123.5L346.7 1126.4L349.4 1128.5L353 1133.3L353.9 1136.8L353.3 1140.2L349.4 1142.3L345.6 1143.8L345.3 1138L344.6 1134.5L344.9 1132.7L341.2 1132L339.7 1131.1L340.8 1127.8L337.9 1124.9L331 1128.8L329.9 1126.7L331.9 1123.1L329 1122.2L325.3 1125.3L320.4 1128.4L320.9 1131.2L324.2 1132.7L323.6 1134.8L326.4 1134.1L330.3 1133.4L333.7 1134.3L333.3 1136.1L327.3 1138.8L324.3 1142.7L327.3 1147.1L329.2 1150.8L332.4 1154.8L332.5 1157.8L329.3 1160.1L332.7 1161.6L331.8 1167L329.5 1169.3L325 1176.8L319.4 1182.7L314 1187.4L304.2 1190.7L301.5 1190.8L295.5 1192.2L289.1 1193.3L288 1196.9L286.1 1194L285.8 1191.4L280.2 1189.9L274.8 1192.5L270.9 1195.1L268.6 1199.4L270.8 1205.7L274 1211L276.5 1213.4L278.1 1221L278.8 1224.4L277.4 1231.8L275.3 1235.2L270.1 1237.6L265.5 1238.5L262.7 1241.9L252.7 1243.9L255.1 1238.5L253.6 1235L249.3 1232.8L248 1228.9L246.8 1225L241.3 1219.8L240.8 1215.6L237.9 1215.6L235.4 1221.2L232 1225L229 1229L228 1232.8L229.9 1237.7M222.4 1233.8L225.8 1227.8L228.9 1221.3L230.6 1216.9L231.5 1209.7L232 1202.6L233.3 1198.3L231.1 1194.9L228 1195.5L223.1 1197.2L219.3 1194.9L223.2 1188.9L224.9 1183.5L222.3 1176L221.7 1169.5L222.8 1165.8L218.8 1162.7L212.4 1162.3L208.9 1160.6L204.9 1159.6L203 1161.8L197.2 1162.6L192.8 1162.6L183.6 1164L177.3 1165.4L171.7 1164.9L166 1164.3L160.5 1172.3L155.2 1175.1L150.2 1181L144.1 1182.2L134.7 1181.7L134.2 1175.1L136.5 1170.5L139.5 1164.7L141.5 1156.1L146.9 1144.6L150.3 1138.4L155.3 1131L159.7 1126.3L162.5 1123.2L164.4 1121L160 1122.3L155.8 1120.8L154.2 1117L155.6 1110.8L159 1112.9L161.3 1112.5L158.4 1107.6L157.9 1101.8L159.4 1098.4L160.2 1095.5L155.4 1090L150.7 1083.6L148.1 1077.9L145.6 1072.7L144.2 1068.5L147.2 1063.8L147.5 1060.9L143.4 1057.9L141.9 1054.6L142.7 1048.6L146 1041L149.2 1037.7L149.3 1033.5L147.1 1032.8L144.7 1031.5L141.8 1033.9L138.9 1036.3L137.4 1040.2L136.1 1042.5L133.1 1043.6L130.9 1046.8L136.3 1046.2L132.3 1049.3L130.3 1051.7L131.3 1055.3L134.9 1059.4L139.1 1061L142.7 1062.1L144.4 1062.8L139.8 1065.1L138.1 1067.2L138.5 1074.9L136.8 1081.1L127.6 1081.8L120.1 1081.3L113.8 1078.5L109.6 1075L105.5 1071.3L98.3 1065.6L93 1062.1L87.1 1055.3L81.4 1049.7L74.3 1040.1L72.1 1033.5L74.5 1031.6L80.9 1028.7L86 1026.7L89.7 1025L93.6 1019.9L99.4 1015.8L103.9 1009.7L106.6 1007.7L112.5 1005.6L116.5 1002L119.7 998.6L123.4 995.6L128.9 991.5L131 988.9L136.4 989.1L129.7 987.3L137.4 980.8L134 981.6L129.5 984.5L127.2 985.7L121.9 988.6L115.8 992.4L111 994L107.4 999L97.5 1001.4L93.8 1002.7L91.4 1007.6L81.6 1013.5L79.4 1016.9L75.8 1022.1L72.7 1029.7L71 1032.9L66.6 1032.9L62.4 1039.8L63.2 1043L69.1 1051.2L72.9 1059.8L78.4 1066.7L78.8 1069L72.2 1070.6L67.6 1070.8M203 1015L206.1 1018.7L207.2 1023.1L202.8 1025.5L198.6 1022.1L197.2 1020.3L194.5 1023.7L194.2 1027.5L189.1 1030.5L187 1034.3L183.4 1034.7L178.3 1038.1L174.6 1033.8L174.5 1028.7L176.6 1024.1L180.2 1023.7L184.4 1025L184.6 1022.7L187.7 1018.9L190.8 1015.3L195.3 1012.6L199.1 1012.6ZM207.4 1037.1L212.3 1037.1L215.1 1039.4L213.6 1042.5L208.9 1043.1L204.2 1041.1L204.2 1038.3ZM230.6 1063.4L234.1 1063.2L236.8 1066.9L240 1070.2L241.8 1070.5M294.5 1082.2L298.2 1081.5L302.6 1079.9L306.1 1076.8L308.5 1072.1L307.1 1071.9L304.5 1075.5L299.9 1078.7L296.3 1081ZM230 903.2L228 907.3L226.3 912.4L225.1 917L226.7 916.8L229.2 920.2L231.5 918.1L234.5 919.2L238.5 918.6L241.4 919.4L242.6 918.1L245.6 922L247.4 920.2L249.4 922.3L251.1 919.8L249.1 916.7L245.9 914.8L243 914.6L241.4 913L240.1 915.6L236.8 914.3L235.5 913.3L237 911.1L234.1 909.7L233.9 907.2L230.6 909.8L231 906.9ZM236.1 906.4L238.9 908.9L241.5 911.8L244 911.5L245.7 908.8L244.1 906.8L245.5 904.6L241.9 904L240.5 899.7L238.3 899.9L237.2 902.8ZM280.3 912L276.9 913.5L274.9 915.3L273.7 919.8L273.9 922.5L277.1 923.5L279.6 923.2L280.5 920.7L281.6 918.2L284.8 918.3L284.9 914.9L282.5 916.3L283.6 913.6L280.5 913.7ZM298 962.7L292 962.6L289 963.9L292.7 965.9L293.3 967.5L296.4 966.4L298.6 965.6ZM298.9 967.2L296 968.8L297.8 971L299.7 969.2ZM275.5 992.6L274.7 994.5L276.2 996.4L276.8 998.3L279.8 995.2L283.8 993.3L288.2 993.7L292.6 995.3L296.6 996.2L296.3 994.4L292.4 992.1L288.4 991.4L283.8 991.9L279.4 992ZM299.7 981.2L300.3 984.1L302.9 986.1L304.4 984.2L301.9 981.4ZM313.1 1001L314.1 1004.6L317.3 1004.2L318.6 1001.5L317.1 998L315.9 996L313.4 998ZM338.7 1012.8L341.3 1013.5L344.6 1011.5L347.8 1009.5L344.9 1008.8L340.6 1009.4ZM342.5 1016.8L345.7 1016.8L343.7 1015.4ZM372.6 1000.8L374.7 998.2L373.6 997.1L372 999.4ZM365.8 1070.1L369.2 1073.2L372.2 1078.9L373.5 1083.5L377.1 1083.8L376.5 1089.4L378.3 1091.8L377 1094.6L374 1090.4L372 1084.2L368.8 1078.5L366.5 1073.3ZM376.3 1096.6L380.3 1098.2L385.2 1097.5L387.2 1099.9L384.5 1106L379.8 1106.1L377.3 1110.7L375.5 1107.4L377.9 1103.9ZM380.2 1110.4L383.3 1114L385.2 1118.8L384.6 1124.8L385.9 1129.3L384.1 1132.7L381.3 1134.8L376.6 1136.7L374.2 1141.6L370.9 1138.7L365.3 1140.8L359.6 1143.2L356.9 1147.4L359 1153.5L361.7 1154.1L363.2 1147.3L362.6 1142.9L362.9 1137.3L368.5 1135.2L372.3 1132.7L373.3 1127.9L377.7 1125.8L379.1 1121.2L378.6 1115.8L378.1 1112.3ZM364.3 1143.3L368.2 1140.1L370.7 1141.4L367.8 1145.1L365.9 1146.4ZM332.2 1179.9L333.4 1182.7L329.9 1193L326.8 1188.9L329 1182.8ZM286.7 1197.6L290.4 1199.9L287.8 1203.4L283.3 1205.2L280.7 1201.2L283.4 1197.8ZM328.9 1207.9L335.4 1207.7L336.1 1214.3L333.3 1218.8L333.5 1227L343.8 1228.3L345.1 1233.8L341.4 1232.2L335.4 1229.2L329.1 1228.9L330.4 1225.2L326.8 1224.3L327.7 1218L328.1 1212.3ZM346.1 1234.2L350.7 1234.3L353.6 1240.7L351.3 1245.8L349 1242.1L346.4 1238.9ZM335.7 1237.6L340.8 1239.3L340.8 1246.5L335.9 1244.3ZM324.1 1240.6L325 1244.5L319.1 1250.7L316.7 1250.1ZM148.7 1182.8L149.6 1185.5L149.8 1192.1M174.4 924.3L174.2 927.1L172.9 933.1L167.8 930.3L169.4 928.4L172.8 924.7ZM188 917.2L187.7 919.8L184.9 920.4L180.9 918.4L180.7 916L182.4 915.5L185.6 916.8ZM192.1 919.9L193.3 922.5L190.4 921.6L188.4 920.1L189.5 919.1ZM159 953.7L158.4 956.3L157.3 961.6L156.6 960.6L156.5 956.7L158 953.3ZM156.3 979.3L157.9 981.3L159.2 985.9L156.6 984.4L155 981.5ZM189.6 901.3L190 903.6L188.3 903L188.7 901.4ZM434.6 717.7L434.7 725.7L431 731.8L425.2 741.9L429 747.5L434.6 750.6L440.6 753.1L444.8 755.4L441.1 759.5L437.1 764.3L433.1 767.5L427.4 772.6L430.7 776.3L439.6 778.8L443 774.5L449.4 771.8L452.7 774.3L460.1 777.2L463.3 784.7L462.6 793.7L460.8 799.2L456.3 804.5L450.2 809.4L445.9 815.1L435.7 815.3L431 814.4L426 809.9L420.2 804.7L419 808.8L414.5 806.8L412 805.9L408 801.4L403 800.4L401.7 795.2L402.5 790.5L402.2 784.9L401.3 779.4L399.1 778.1L396.9 779.9L394.9 784.2L394.7 789.9L394.9 797.8L391.4 803.3L387.2 804.5L381.8 806.9L375.2 807.9L371.7 809.2L371.3 815L371.2 819.4L370.2 823.5L369.9 819.8L369.2 818.1L367.2 821.2L364.8 822.8L363 825.9L357.4 826.7L355.8 827.8L351.9 828.1L352.1 829.5L353.7 830.9L351.2 834.9L346.8 836.2L343 837.4L340.5 838.5L337.5 840.2L336.7 838.5L341.2 833.8L338.6 832.9L335 836L328.7 838.1L326.4 840.4L327.3 843.7L329.9 839.4L333.3 839.9L336.7 841.8L337.6 844.5L336.9 847.1L340.2 847.7L335.4 849.9L339.1 851.6L344.7 850L351.5 845.5L347.5 849.1L343.7 852.1L339.6 854.9L332.6 854.6L326.4 854.1L323.4 857.4L320 858.5L318 860.5L318.3 864.3L321.3 868L325.5 870.3L329.3 874.1L329.7 878.8L331.8 883.5L333.2 886.4L334.9 883.8L338.4 881.1L340 880.4L341.4 884.6L340.9 888.6L343 891.1L344.7 893.1L348.2 894.6L351 896.4L352.8 892.2L352.5 888.8L353.7 886L355.1 884.8L354.4 879.8L354.6 877.2L357.6 875.2L361.1 874.4L361.2 871.4L362.4 867.5L364.8 864L366.6 864.9L367.3 868.6L367.7 871.2L365.3 877.7L369.4 880.2L372.6 885.6L378.2 890.6L377.7 897L376.3 900.5L373.5 902.6L368.4 905.5L366 905.8L361.8 905.8L358.9 908.7L356.4 911.5L355.4 910.3L353.2 909.3L350.8 910.6L349 914.7L348.3 918.2L351 919.7L352.7 917.3L356.2 914L355.8 917.2L357.3 918.6L356.4 921.6L356.2 924.8L355.7 929.8L358.6 928.2L360.3 924.1L360.7 921.1L363.4 921.6L365.9 921.9L364.9 924.9L368.7 923.9L370.6 926.8L375.8 928L373.6 930.8L375.3 931.5L377.6 933.9L379 935.8L377.8 940.4L377.6 944.1L377.9 947.9L380.5 947.9L378.2 951.6L380.6 952.8L383.2 955.1L385.5 957.8L384.2 961.3L384.2 963.3L382.9 971L379.6 978.6L381.2 981.7L384 985.8L386.4 990.6L389.4 988.8L392.3 986.5L392.4 989L393.6 994.5L397.7 992.1L399 986.6L402 987.2L402.9 992.7L406.4 994.7L409.5 996.3L412.5 991.6L415.1 991.4L417 986L417.3 984L420.9 985.3L424.9 989.9L426.9 995.7L427.3 999.2L426.9 993.9L425.8 988.2L422.6 983.5L419.3 979.8L416 978L412.4 975.5L410.4 972.5L415.2 974.8L415.6 972.5L414 971.6L411.5 968L412.5 965.7L413.5 963.3L414.1 956.6L416.1 952.6L418 949.7L420.1 947.9L422.5 944.9L425 942.4L425.5 937L428.5 933.3L430.8 930.3L433.4 928.2L434.3 922.2L434.9 917.7L437.7 914.5L438.7 919.4L442.6 916.1L444.5 914.9L449.7 912.6L455.3 911L460.6 907.6L462.7 907.2L465.4 904.1L468.5 898.5L471.5 895L476.1 887.8L474.8 881.2L476.6 875.7L479.3 871.7L481.6 867L484.1 861.2L488 859.4L488.5 854.7L491 844.8L491.4 835.6L492.3 832.8L489.8 832.4L489.2 837.4L485.9 844.7L484 850.7L481.2 857.9L478.6 864L475.1 867.6L474.2 863.1L476.5 857.3L479.2 848.3L480.3 841.1L481.5 835.3L482.5 823.8L485.2 816.4L489.1 813.8L489.3 805.6L486.3 796.2L482.2 786.2L476.7 776.7L472 772.1L467.9 771.9L463.6 765.1L461.3 758.3L456.3 752L451.6 746.6L446.9 743L445.8 738.2L443.7 731.9L444.3 727.4L446.2 724.6M408.8 703.1L403 705.5L399.1 710.4L395.3 711.9L386.5 712.2L378.8 714.9L380.6 710.9L377.8 707.9L372.8 709.4L372.2 712.7L368.2 708.6L364 704.6L354.8 702.5L347.9 699.9L335.9 701.7L331.2 698.2L328.9 690.7M419.4 772.1L411 773.3L402.1 770.2L393 761.4L384.9 754.2L382.4 751.4L395.4 753.7L396.2 757.6L402.3 764.1L408.4 769.5L414 771ZM383.6 749.9L376 748.5L366.3 746.2L360.7 740L367.4 739.8L374 738.4L379.6 741.9L385.1 744.1L377.3 743.1ZM400.5 748.6L392.8 745.3L393.2 744.1L399.3 745.5ZM356 738.5L349.8 737.8L350.4 736.1L356.2 736.8ZM324.9 845.7L320.9 845.8L316.3 843.8L310.6 843.7L310.3 846.7L312.4 850.1L315.8 851.7L317.5 854.5L317.4 858.7L320.3 855.9L323.2 850.3L324.9 847.6ZM335.8 853.5L331.7 851L330 850.6L332.7 852.7ZM302.2 888L301 891.8L301.3 899.7L299.9 906.9L296.9 914.5L292.6 920.4L291.3 926.8L294.7 929.7L296 934.3L298.4 939.8L302.9 945.5L306.1 950.3L308.3 956.2L311.7 955L317.1 956.4L319.9 954.5L322.6 951.1L326.4 949.6L328.2 947.4L330.4 944.2L333.8 940.4L332.6 937.2L332.2 933.4L327.8 932.4L324.9 929.5L323 923.7L321.2 918L317.9 915.5L319.4 910.8L318.1 905L316.3 900.7L314.1 895L310.6 891L307.2 889.2ZM333.3 889.7L335.6 891.5L338.1 894.3L341.8 897L344.9 900.9L348.8 901.4L348.8 903.6L343.6 903.6L342.1 906.9L340.5 909L342.6 912L345.2 916.4L344.9 918.8L350.3 920L352.8 922.9L352.6 926.1L349.8 930.3L346.2 930.1L343.4 928.2L341.7 925.5L339.6 923.3L337.1 919.7L334.8 916.1L333.8 912.3L330.9 907.6L328.2 905.1L330.8 900.7L333.7 902.8L335.9 900.6L332.5 894.8ZM354.9 908.5L354.1 902.3L353.4 900.4L357.7 900.5L360.5 904.1L357.5 908.7ZM377.2 939.5L376 935.1L372.1 931.4L369.3 929.6L365 928.9L361.3 932.3L360.7 937.6L362.3 940.2L365 940.1L365.2 944.3L369.1 945.8L372 945.1L373.8 942.3L372.7 938.2L375.7 939.9ZM373.5 951L374.6 947.9L372.8 946.3L366.4 947L365 949.3L366.7 952.4L369.9 952.2ZM359.1 936.2L359.2 930.5L355.8 933.5L355 936.5L356.7 937.6ZM356.5 930.3L353.4 930.1L350.2 932.1L351.8 934.9L354.3 934.1ZM363.6 926.5L362.4 923L360.7 924.4L361.5 926.8ZM362 949.4L361.5 945.1L357.6 942.9L355.3 944.6L356 947.6L358.1 950.3ZM355.2 941.7L353.2 938.8L350.8 940.6L350.9 943.3L353.4 944ZM351.1 939.1L349.7 935.3L345.2 932.2L341.4 931.2L340.8 934.1L344.6 936.7L346.6 940.2L348.8 941.7ZM345.2 938.6L341.5 936.9L337.9 937.1L335.2 940.8L332.2 942.4L328.6 946.9L327.1 951.1L329.9 952.8L333.2 953.7L337.1 952.3L340 950.7L339.4 947L339.7 944L342.5 942.2ZM345.8 944.8L342.9 944L340 946.4L339.4 950.9L342.3 949.8L344.3 948.3ZM362 954L360.9 950.9L357.3 951.7L357.1 954.1ZM350.3 947.8L348.4 945.3L346.8 947.8L348.1 949.7ZM434.9 929.3L434.1 923.4L437.3 917.2L438.4 920.3L437 926.7ZM428 941.4L427.3 939.1L431.5 936.7L430.7 939.6ZM421.4 980L419.2 976.5L421.7 975.8L423.7 978.5ZM398 1000.7L400.1 997.9L400.7 997.8L398.9 1001.1ZM409.4 998.7L409.8 996.1L411.3 996.5L410.8 998.3ZM429.5 1004L428.4 1002.1L429.4 1002L430.1 1005.2ZM430.2 1008.2L429.3 1005.9M428.6 1019.1L429.2 1016.1M427.6 1024.1L427.9 1022M413.5 1039.3L414.4 1037.6M399.3 1044.1L401.6 1043.9M395.2 862.4L388.2 863.2L384.1 864L380.4 861.7L379.5 857L380.9 854L385.6 856.3L387.9 859.3L392.3 860.7ZM394.3 843.7L391.4 842.2L388.4 846.4L382.7 851.9L380.6 852L380.4 848.3L382 844.6L380.8 841.1L378.3 842L376 846.5L373.2 844L373.1 847.5L377 850.4L381.2 852.3L384.6 853.2L388.9 852.4L391.9 848.2ZM384.5 838.3L380.4 835.4L373 837.1L376.7 838L382.1 838ZM374 839.6L370 838.2L365.7 838L365.6 840.1L370.5 840.6ZM390.7 940.4L389.8 937.4L386.9 935.4L384.1 936.5L384.3 939.7L388.9 942ZM397.3 926.4L395.7 924L390.6 922.3L386.6 921.1L387.6 922.9L391.9 924.9L395.7 926.7ZM400.3 881.3L397.1 878.7L393.4 882L392.2 888.3L395.3 887.5L396.6 883.6ZM558.4 996.9L556.6 992.6L553.5 993.6L554.1 996.4ZM550 998.8L550.7 996.1M547.2 1004.3L547 1002.3M238.8 973L239.7 974.8L241.3 976.7L243.4 976.1L243.4 973.2L241.2 972.5ZM242.1 979.1L243.2 981L246.1 980.2L246.6 978.8L244.5 978.7ZM85.8 1076.1L87.6 1081.3L85.8 1079.6ZM231.6 952.5L234.1 954.2L232.5 954.3L231.5 953ZM231 939.6L231.4 942.5L228.7 941.5L229.1 939.4ZM231.1 937.4L230.5 939.1L229.1 938.4L229.9 937.2Z" fill="none" stroke="#8800d6" stroke-width="1.85" stroke-linejoin="round"/><path d="M279.5 851.3C279.5 853.5 279 855.9 278.2 858C277.3 860.1 276 862.1 274.4 863.7C272.8 865.3 270.8 866.6 268.7 867.5C266.6 868.3 264.2 868.8 262 868.8C259.8 868.8 257.4 868.3 255.3 867.5C253.2 866.6 251.2 865.3 249.6 863.7C248 862.1 246.7 860.1 245.8 858C245 855.9 244.5 853.5 244.5 851.3C244.5 849.1 245 846.7 245.8 844.6C246.7 842.5 248 840.5 249.6 838.9C251.2 837.3 253.2 836 255.3 835.1C257.4 834.3 259.8 833.8 262 833.8C264.2 833.8 266.6 834.3 268.7 835.1C270.8 836 272.8 837.3 274.4 838.9C276 840.5 277.3 842.5 278.2 844.6C279 846.7 279.5 849.1 279.5 851.3Z" fill="none" stroke="#000" stroke-width="1.0"/><path d="M280.2 1025.2C281.6 1023.1 286.4 1022.3 290.2 1022.7C294 1023.1 299 1025.4 302.7 1027.7C306.5 1030 309.8 1034 312.7 1036.5C315.7 1039 317.9 1042.7 320.2 1042.7C322.5 1042.7 324.4 1040.2 326.5 1036.5C328.6 1032.7 330 1025.8 332.8 1020.2C335.5 1014.5 339.4 1008.1 342.8 1002.7C346.1 997.2 349.5 990.8 352.8 987.6C356.1 984.5 359.9 983 362.8 983.9C365.7 984.7 368.4 988.7 370.3 992.6C372.2 996.6 373.2 1002.7 374.1 1007.7C374.9 1012.7 375.9 1018.1 375.3 1022.7C374.7 1027.3 373.2 1031.4 370.3 1035.2C367.4 1039 362.8 1042.9 357.8 1045.2C352.8 1047.5 346.1 1048.1 340.3 1049C334.4 1049.8 328.6 1050 322.7 1050.2C316.9 1050.4 310.6 1051.1 305.2 1050.2C299.8 1049.4 294.2 1047.7 290.2 1045.2C286.2 1042.7 283.1 1038.5 281.4 1035.2C279.8 1031.9 278.7 1027.3 280.2 1025.2Z" fill="none" stroke="#000" stroke-width="2.0"/><path d="M263.9 1030.2C263.9 1026 265.4 1020.8 267.7 1017.7C270 1014.5 273.5 1012.7 277.7 1011.4C281.8 1010.2 287.7 1009.7 292.7 1010.2C297.7 1010.6 303.1 1013.1 307.7 1013.9C312.3 1014.8 316.5 1015.8 320.2 1015.2C324 1014.5 326.9 1013.5 330.3 1010.2C333.6 1006.8 337.3 1000.2 340.3 995.1C343.2 990.1 345.9 984.9 347.8 980.1C349.7 975.3 349.9 969.5 351.5 966.3C353.2 963.2 355.5 962 357.8 961.3C360.1 960.7 363.2 960.7 365.3 962.6C367.4 964.5 368.2 967.6 370.3 972.6C372.4 977.6 375.7 986.4 377.8 992.6C379.9 998.9 382.2 1004.7 382.8 1010.2C383.5 1015.6 382.8 1020.6 381.6 1025.2C380.3 1029.8 378.9 1033.5 375.3 1037.7C371.8 1041.9 366.1 1047.3 360.3 1050.2C354.5 1053.1 346.9 1054.2 340.3 1055.2C333.6 1056.3 326.9 1056.5 320.2 1056.5C313.6 1056.5 306.9 1056.3 300.2 1055.2C293.5 1054.2 285.6 1052.3 280.2 1050.2C274.8 1048.1 270.4 1046.1 267.7 1042.7C264.9 1039.4 263.9 1034.4 263.9 1030.2Z" fill="none" stroke="#000" stroke-width="1.0"/><path d="M452.6 863.7C452.6 865.4 452.1 867.3 451.3 868.7C450.4 870.1 449 871.5 447.6 872.4C446.2 873.2 444.3 873.7 442.6 873.7C440.9 873.7 439 873.2 437.6 872.4C436.2 871.5 434.8 870.1 433.9 868.7C433.1 867.3 432.6 865.4 432.6 863.7C432.6 862 433.1 860.1 433.9 858.7C434.8 857.3 436.2 855.9 437.6 855C439 854.2 440.9 853.7 442.6 853.7C444.3 853.7 446.2 854.2 447.6 855C449 855.9 450.4 857.3 451.3 858.7C452.1 860.1 452.6 862 452.6 863.7Z" fill="none" stroke="#000" stroke-width="1.0"/><path d="M574.9 957.7C574.9 959.4 574.4 961.3 573.6 962.7C572.7 964.1 571.3 965.5 569.9 966.4C568.5 967.2 566.6 967.7 564.9 967.7C563.2 967.7 561.3 967.2 559.9 966.4C558.5 965.5 557.1 964.1 556.2 962.7C555.4 961.3 554.9 959.4 554.9 957.7C554.9 956 555.4 954.1 556.2 952.7C557.1 951.3 558.5 949.9 559.9 949C561.3 948.2 563.2 947.7 564.9 947.7C566.6 947.7 568.5 948.2 569.9 949C571.3 949.9 572.7 951.3 573.6 952.7C574.4 954.1 574.9 956 574.9 957.7Z" fill="none" stroke="#000" stroke-width="1.0"/><path d="M307.7 1125.3C309.6 1121.8 314.8 1122.6 320.2 1121.6C325.7 1120.5 333.6 1120.1 340.3 1119.1C346.9 1118 354 1116.8 360.3 1115.3C366.6 1113.9 372 1112.8 377.8 1110.3C383.7 1107.8 389.9 1103.6 395.4 1100.3C400.8 1097 406.2 1093.2 410.4 1090.3C414.5 1087.4 417.9 1082.8 420.4 1082.8C422.9 1082.8 425.4 1086.1 425.4 1090.3C425.4 1094.5 423.3 1102 420.4 1107.8C417.5 1113.7 412.9 1119.9 407.9 1125.3C402.9 1130.8 396.6 1135.8 390.3 1140.4C384.1 1145 377 1149.5 370.3 1152.9C363.6 1156.2 356.5 1158.9 350.3 1160.4C344 1161.9 338.2 1162.5 332.8 1161.6C327.3 1160.8 321.7 1158.5 317.7 1155.4C313.8 1152.3 310.6 1147.9 309 1142.9C307.3 1137.9 305.8 1128.9 307.7 1125.3Z" fill="none" stroke="#000" stroke-width="1.6" stroke-dasharray="8 3.5"/><path d="M299 1125.3C300.8 1122.2 304.2 1121 310.2 1119.1C316.3 1117.2 326.9 1115.7 335.3 1114.1C343.6 1112.4 352.8 1110.9 360.3 1109.1C367.8 1107.2 374.1 1105.5 380.3 1102.8C386.6 1100.1 392.4 1096.3 397.9 1092.8C403.3 1089.2 408.7 1084 412.9 1081.5C417.1 1079 420.2 1077.1 422.9 1077.8C425.6 1078.4 428.1 1081.5 429.2 1085.3C430.2 1089 430.6 1094.5 429.2 1100.3C427.7 1106.1 424.4 1114.1 420.4 1120.3C416.4 1126.6 411.2 1132.4 405.4 1137.9C399.5 1143.3 392.4 1148.5 385.3 1152.9C378.2 1157.3 370.3 1161.4 362.8 1164.1C355.3 1166.9 347.4 1168.9 340.3 1169.2C333.2 1169.4 326.1 1168.1 320.2 1165.4C314.4 1162.7 308.8 1157.5 305.2 1152.9C301.7 1148.3 300 1142.4 299 1137.9C297.9 1133.3 297.1 1128.5 299 1125.3Z" fill="none" stroke="#000" stroke-width="0.9" stroke-dasharray="7 3"/></g><path d="M511.1 1153.5L511.4 1158.6L507.2 1156.8ZM520.2 1140.6L523.6 1144.4L519.2 1145.7ZM531.6 1124.1L536.5 1125.5L533.4 1128.9ZM542.1 1109.1L547.1 1110.2L544.2 1113.8ZM550 1094.1L554.6 1096.5L550.8 1099.2ZM561 1078.9L563.1 1083.5L558.5 1083.4ZM568.7 1061.1L565.8 1065.3L563.6 1061.3ZM576.2 1045.6L571.4 1043.7L574.8 1040.6ZM576.6 1029.9L575.2 1024.9L579.7 1025.8ZM566.9 889.8L571.9 893L568.1 895.6ZM566.7 885.8L565.5 880.7L570 881.8ZM562.5 868.8L558.5 865.6L562.7 863.7ZM553.6 852.3L549.4 849.4L553.4 847.2ZM543.9 834.2L542.7 829.2L547.2 830.2ZM532.1 818L535.9 814.5L537.2 818.9ZM520.6 799.9L524.4 803.4L520.1 805ZM509.4 788.5L506.6 792.8L504.3 788.8ZM495.9 778.1L491 776.3L494.4 773.2ZM480.9 769.7L479.4 764.8L483.9 765.5ZM464 755.1L466.8 750.8L469.2 754.7ZM447.6 744.8L452 742.1L452.3 746.7ZM430.7 738.7L435.7 737.4L434.8 741.9ZM413.6 731.5L418.6 730.4L417.5 734.9ZM398.3 724.6L403 722.6L402.7 727.1ZM377.5 721.1L381.6 718L382.4 722.6ZM359.8 718L362.3 713.5L364.9 717.4ZM342.9 718.4L343.6 713.3L347.4 715.9ZM326 715.3L323.7 710.7L328.3 710.7ZM308.7 718.7L304.6 715.6L308.7 713.5ZM293 718.2L287.9 717.4L290.7 713.7ZM274.7 719.8L269.7 720.9L270.8 716.4ZM255.6 723.6L250.9 725.7L251.1 721.1ZM239.6 731.9L235 734.1L235 729.5ZM221.9 739.6L217 741.1L217.8 736.6ZM205.9 746.3L200.8 746L203.1 742ZM186.7 757L182.3 754.5L186.1 751.9ZM173 766.7L169.3 763.2L173.6 761.6ZM159.9 779.7L155.9 776.5L160.1 774.6ZM144.7 790.8L141.3 787L145.7 785.8ZM132.9 806.7L128 805L131.4 801.8ZM123.5 818.9L118.3 819.1L120.2 814.9ZM111.2 832.1L106.2 833.3L107.2 828.8ZM102.4 849.7L98.6 853.2L97.4 848.7ZM93.5 863.4L89.6 866.6L88.5 862.2ZM88.3 882.7L84 885.5L83.5 880.9ZM79.5 901.6L74.4 901.4L76.6 897.4ZM75.2 921.3L71.3 917.9L75.6 916.2ZM71.9 937.4L70.7 932.4L75.1 933.4ZM65.8 955.9L67.8 951.1L70.8 954.6ZM67.7 974.2L70.8 970.1L72.8 974.2ZM67.8 990.7L70.7 986.5L73 990.5ZM71 1011.5L72.1 1006.5L75.7 1009.3ZM75.4 1029.7L73.9 1024.8L78.4 1025.6ZM100.8 1098.8L95.8 1097.6L98.8 1094.1ZM407.3 1198.1L408.7 1203.1L404.2 1202.2ZM497.5 1137.5L499.8 1142.1L495.2 1142.1ZM528.8 1095.6L533.9 1096.1L531.5 1100ZM538.4 1079L542.8 1081.7L538.9 1084.1ZM551 1062.3L551.6 1067.4L547.3 1065.9ZM556 1047.4L552.4 1051.1L550.9 1046.7ZM563.1 1030.9L558.4 1028.9L561.9 1025.9ZM565.2 1000.2L566.2 1006L561.7 1005ZM559 918.5L563 921.8L558.8 923.7ZM556.4 903.6L558.2 898.8L561.3 902.1ZM550.7 885.6L546.8 882.2L551 880.4ZM543.8 868.3L538.9 867L541.9 863.5ZM537 854.4L532.4 852.3L535.9 849.4ZM525.8 838.6L524.1 833.8L528.7 834.3ZM512.8 822.2L516.8 819L517.8 823.5ZM501.8 806.2L505.4 809.9L501 811.3ZM489.1 793.9L484.9 796.9L484.2 792.3ZM474.5 783.3L470.9 779.6L475.3 778.2ZM459.2 774.2L460.2 769.1L463.8 771.9ZM439.8 762.7L444.3 760.4L444.4 765ZM423.5 753.1L428.6 753.1L426.6 757.2ZM409.1 746.6L414.2 747.3L411.6 751.1ZM390.1 738.5L395.3 738.7L393.1 742.7ZM371.7 734.8L376.7 733.5L375.8 738ZM354.3 735.6L358.3 732.5L359.2 737ZM336.5 732.3L337.7 727.3L341.2 730.4ZM318.6 735.4L316.4 730.7L321 730.9ZM302.4 733.5L297.8 731.1L301.6 728.4ZM286.5 736.9L281.4 737.4L283.1 733.1ZM268.7 739.2L264.4 742L263.8 737.5ZM250.4 743.1L247.2 747.1L245.3 742.9ZM233.3 751.1L231.1 755.8L228.2 752.2ZM214.5 757.6L211.8 761.9L209.4 757.9ZM200.6 766.9L198 771.3L195.5 767.5ZM183.9 779.7L181.7 784.3L178.8 780.7ZM169.9 791.2L168.1 796L164.9 792.6ZM156 803.6L154.8 808.6L151.3 805.7ZM144.7 815.7L144.8 820.8L140.6 818.8ZM131.3 831.3L132.4 836.4L127.9 835.2ZM122.4 845.6L124.2 850.4L119.7 849.9ZM111.2 860.9L111.7 866L107.4 864.4ZM105.8 879.8L105.1 884.9L101.3 882.3ZM98.5 897.6L94.6 901L93.5 896.5ZM94.8 914.8L89.6 915L91.5 910.8ZM90.9 936L87.6 932.1L92 931ZM86.7 954.5L87 949.3L91 951.6ZM83 972.6L85.7 968.3L88.2 972.2ZM84.1 988.1L87.2 983.9L89.3 988.1ZM87.7 1007.6L89.9 1002.9L92.7 1006.5ZM91.8 1027.9L91.6 1022.8L95.8 1024.7ZM177.8 1159.7L178.8 1164.7L174.3 1163.5ZM460.6 1152.6L455.5 1153.7L456.7 1149.2ZM509.7 1098.8L514.9 1098.4L513.1 1102.7ZM519.9 1080.8L525 1081.6L522.3 1085.3ZM528.4 1062.9L532 1066.5L527.7 1068.1ZM538.4 1046.6L538 1051.7L534.1 1049.4ZM542.7 1030.7L538.7 1034L537.7 1029.6ZM545.9 1011.2L545.3 1016.3L541.5 1013.8ZM549.9 948.1L551.2 953.8L546.6 953ZM544.3 933.5L547.8 937.7L543.3 938.9ZM540.4 922.6L545.1 920.6L544.8 925.2ZM538.1 908.1L537.8 903L542 904.8ZM532.7 889.5L528.2 886.9L532.1 884.4ZM528.4 871.9L523.4 870.7L526.4 867.2ZM517.8 857.7L513.5 854.8L517.5 852.6ZM503.7 842.4L503.9 837.3L508 839.5ZM493.3 823.7L498.4 823L496.9 827.3ZM480.7 809.6L480.8 814.7L476.6 812.7ZM471 800.1L466 801L467.3 796.6ZM453.5 789.6L452 784.7L456.5 785.5ZM436.2 779.9L439.4 776L441.3 780.2ZM418.6 767.6L423.7 767L422.2 771.4ZM402.7 762.4L407.8 763.2L405.2 767ZM384.4 754.5L389.5 755.1L387 758.9ZM367.1 751.9L372.2 751L370.9 755.4ZM346.1 750.6L349.5 746.8L351.2 751ZM329.2 750.1L329.2 744.9L333.3 747ZM314.9 752L311.4 748.2L315.8 746.9ZM296.3 750.8L291.2 751.1L293 746.9ZM277.2 754.8L274.2 759L272.1 754.9ZM259.2 756.4L258.5 761.5L254.7 758.9ZM239.9 764.8L242.3 769.3L237.7 769.4ZM223.5 770.1L226.7 774.2L222.1 775ZM205.9 782L210.4 784.6L206.6 787.1ZM191.1 793.3L196.1 794.6L193.1 798ZM175.8 802.4L180.7 804.2L177.3 807.4ZM162.3 817.8L167.5 817.9L165.4 822ZM149.6 830.5L154.7 830.6L152.6 834.7ZM139.5 843.9L144.6 843.9L142.5 848ZM131.6 860.2L136.7 860.4L134.5 864.5ZM123.9 877L128.4 879.6L124.6 882.1ZM115.9 893.4L116.7 898.5L112.3 897ZM114.3 911.1L111.3 915.2L109.2 911.1ZM107.4 933.5L102.5 932.1L105.6 928.7ZM104 953.1L102 948.3L106.6 948.7ZM102.7 968.4L103.6 963.4L107.3 966.1ZM101.4 986L103.9 981.5L106.5 985.3ZM104.1 1004.6L106.4 1000L109.2 1003.6ZM107.4 1026.2L107.5 1021L111.6 1023.2ZM129.4 1076.9L124.2 1077.2L126.1 1073ZM183.3 1142.7L187.9 1144.8L184.4 1147.7ZM327.9 1182.3L325.6 1177.7L330.2 1177.7ZM344.5 1178.1L345.7 1173.2L349.2 1176.1ZM363.2 1176.6L367.6 1173.9L368 1178.5ZM379.6 1171.7L383.9 1168.8L384.5 1173.4ZM398.7 1164.8L400.6 1160L403.7 1163.5ZM418 1160.7L417 1155.6L421.4 1156.9ZM434.8 1148.5L429.8 1147.5L432.6 1143.9ZM450 1136.4L446.7 1140.3L444.9 1136ZM464.1 1122.6L466 1127.4L461.5 1127ZM475 1113L479.5 1115.5L475.7 1118.1ZM486.9 1097L492.1 1096.8L490.2 1101ZM496.8 1084.9L501.9 1084.4L500.2 1088.7ZM508.2 1065.6L513.1 1067.2L509.9 1070.5ZM513 1042.6L516.7 1046.9L512.3 1048.2ZM534.2 1011.2L531 1015.9L528.6 1012ZM537.1 950.7L536.8 956.5L532.7 954.4ZM528.9 942.2L533 945.3L528.9 947.3ZM523.4 924.6L527.1 921L528.4 925.4ZM522.7 908.8L521.5 903.8L526 904.8ZM517.6 891.5L513.5 888.3L517.7 886.3ZM509.5 874.6L505.2 871.7L509.2 869.5ZM495.7 855.9L500.3 853.6L500.3 858.2ZM485.5 842.8L489 839L490.7 843.3ZM472.8 828.1L476.9 831.1L472.9 833.2ZM463.1 816.2L460.2 820.4L458 816.4ZM448 807.7L443.5 805.2L447.3 802.6ZM427.9 794.9L429.6 790L432.8 793.3ZM412.7 784.9L417.2 782.4L417.4 787ZM393.4 778.9L398.4 778L397.2 782.4ZM377.5 774.2L382.5 773.1L381.4 777.5ZM357.4 769.6L361.6 766.5L362.4 771.1ZM341.9 767.3L343.7 762.5L346.8 765.8ZM324.1 767.3L321.1 763.1L325.6 762.4ZM308.9 769.5L303.8 769.8L305.6 765.6ZM289.3 770.1L287.1 774.8L284.2 771.2ZM268.3 771.5L270.5 776.1L265.9 776ZM250.5 777L255.1 779.1L251.5 782ZM234 788.5L238.7 786.6L238.4 791.2ZM217.6 796L221.4 792.6L222.6 797ZM200.6 808.8L204.3 805.4L205.6 809.8ZM185.9 818.3L189.7 814.8L191 819.2ZM172.6 831.4L176.3 827.8L177.7 832.2ZM151.2 859.9L154.9 856.3L156.3 860.7ZM141 875.7L145.2 872.7L145.9 877.2ZM135.6 891.5L140.7 892.2L138.1 896ZM129.7 909.8L130.5 914.9L126.1 913.5ZM127.6 926.6L123.7 930L122.5 925.5ZM121.7 948.7L117.2 946.1L121.1 943.6ZM119.5 969L118.6 963.9L123 965.2ZM117.6 985.4L118.9 980.4L122.4 983.5ZM120.1 1005.1L121.6 1000.2L124.9 1003.4ZM126.3 1021.8L126.2 1016.6L130.4 1018.6ZM130.1 1039.4L127.5 1035L132 1034.7ZM137.9 1056.5L133 1054.8L136.3 1051.6ZM206 1140.4L209.4 1136.5L211.1 1140.8ZM236.5 1161.5L239.9 1157.5L241.7 1161.8ZM254 1167.3L258.9 1165.7L258.2 1170.2ZM271.3 1170.9L275.7 1173.5L271.9 1176ZM291.2 1173.1L291.2 1178.3L287.1 1176.2ZM313.5 1178.2L308.4 1178.8L310 1174.5ZM338.3 1160.7L333.1 1161.1L334.9 1156.9ZM351.8 1160.1L356.9 1159.3L355.5 1163.7ZM400.2 1141.5L405.4 1139.6L405 1144.2ZM417.1 1134.1L421.7 1131.8L421.7 1136.4ZM438.5 1122.7L437.5 1127.8L433.9 1125ZM453.6 1111.2L456.9 1115.2L452.4 1116.2ZM462.9 1098.4L467.8 1099.8L464.7 1103.2ZM476.5 1082.3L481.5 1083.6L478.5 1087.1ZM507.4 1008L510 1013.3L505.4 1013.5ZM520.8 955.8L519 961.4L515.5 958.5ZM515.3 942.2L515.6 947.3L511.4 945.5ZM511.2 924.7L513.4 929.4L508.8 929.3ZM505 908.2L507.3 912.8L502.7 912.8ZM498.5 894.7L496.6 889.9L501.2 890.3ZM484.8 874.9L489.4 872.6L489.4 877.2ZM469.4 858.3L474.8 856.6L474.2 861.2ZM459.2 843.5L464.7 842.1L463.9 846.6ZM453.7 830.4L452.4 835.3L448.9 832.3ZM442 823.2L436.8 823.8L438.4 819.5ZM424.7 814.2L422.5 809.5L427.1 809.6ZM404.2 802.5L406.9 798.1L409.3 801.9ZM389.6 795L393.4 791.6L394.6 796.1ZM360.9 790.3L365.9 786.9L366.8 791.5ZM311.6 786.7L314.6 782.4L316.8 786.5ZM296.1 788.1L298.1 783.3L301.1 786.8ZM278.6 793.9L279.2 788.5L283.1 790.8ZM258.5 802L258.7 796.5L262.8 798.6ZM243.2 804.2L245 799.4L248.1 802.7ZM226 810.7L229.8 807.2L231 811.7ZM161.5 877.3L164.3 873L166.7 876.9ZM155.3 892L158.2 887.8L160.4 891.9ZM148.5 906.9L153.5 908.2L150.5 911.7ZM143.4 923.2L143.1 928.4L139.1 926.1ZM141.3 943.5L136.4 944.9L137.2 940.4ZM137.4 964L133.9 960.3L138.3 959ZM138.5 983.9L137.8 978.8L142.2 980.2ZM137.6 1003.1L137.9 998L141.9 1000.3ZM142.8 1021.8L141.5 1016.8L146 1017.7ZM188.7 1100.6L184 1102.7L184.2 1098.1ZM208.9 1111.7L203.6 1113.7L203.9 1109.1ZM216 1122.6L211.2 1124.6L211.5 1120ZM244.1 1146.5L244.6 1141.3L248.5 1143.8ZM262 1151.4L264.8 1147.1L267.1 1151.1ZM276.5 1154.5L281.5 1153.2L280.6 1157.7ZM296.4 1157.4L299.7 1161.4L295.2 1162.4ZM317.8 1161.1L315.1 1165.4L312.7 1161.5ZM337.5 1142.2L342.8 1141.6L341.4 1145.9ZM417.1 1105.9L423 1105.3L421.7 1109.7ZM433.4 1090.9L439.2 1092.2L436.5 1096ZM446.7 1077.7L452.3 1079.5L449.2 1083ZM498.9 938.3L499.9 944.1L495.4 943ZM478.2 891L481.4 895L476.9 896ZM465.4 874.2L470.5 874.9L467.9 878.7ZM437.4 841.6L442.9 843.7L439.8 847ZM433.6 836.9L428.8 838.6L429.4 834ZM419.7 829.3L415.6 826.2L419.7 824.1ZM397.8 817.8L401.1 814L402.9 818.2ZM373.4 815.7L377.9 811.7L379.4 816.1ZM268.6 819.1L269.6 813.4L273.4 815.9ZM254.4 816.8L255 811.7L258.9 814.3ZM235.8 823.8L239.7 820.4L240.8 824.9ZM174 892.5L176.4 888L179 891.7ZM167.2 907.2L171.6 904.5L172 909.1ZM160.5 922.7L163.4 926.9L158.8 927.5ZM158.3 941.5L154.8 945.2L153.2 940.9ZM157 963.6L152.3 961.7L155.7 958.7ZM155.8 982.6L153.5 978L158.1 977.9ZM157.3 998.7L156 993.7L160.5 994.6ZM160 1016.5L157.8 1011.9L162.4 1012ZM167.4 1033.8L162.9 1031.3L166.7 1028.7ZM174.4 1050.5L169.8 1052.8L169.8 1048.2ZM207.7 1096.3L203 1098.3L203.3 1093.8ZM269.2 1135.8L269.9 1130.7L273.7 1133.3ZM283.7 1139L287.3 1135.2L288.9 1139.6ZM301.7 1141.3L306.8 1142.2L304.1 1145.9ZM325 1140.7L326.7 1145.5L322.1 1144.9ZM330.7 1125.6L334.6 1128.9L330.4 1130.7ZM346.4 1125.7L351.5 1125L350 1129.4ZM363.8 1121.3L368.8 1120.4L367.6 1124.8ZM426.6 853.6L422 855.9L422 851.3ZM410.5 845.1L405.9 842.8L409.6 840ZM391.5 833.7L394.9 829.8L396.6 834.1ZM367.2 828.7L371.5 824.9L372.9 829.3ZM259.5 836.5L262.6 831.3L265.4 835ZM191.5 893.4L194.4 888.8L196.9 892.6ZM185 905.1L187.1 900.4L190 904ZM177.7 919.6L182.6 921L179.6 924.4ZM178.4 938.7L177.2 943.7L173.7 940.8ZM175.2 957.1L170.2 958.1L171.4 953.7ZM171.6 979.3L167.9 975.6L172.3 974.2ZM175.4 997.7L173 993.2L177.6 993ZM176.9 1016.2L173.6 1012.3L178 1011.2ZM185.9 1033.7L180.8 1033.2L183.2 1029.3ZM193 1048L189.8 1052L187.9 1047.8ZM202 1062.6L204.5 1067.1L199.9 1067.4ZM211.3 1075.2L216.4 1075.6L214 1079.5ZM225.8 1093.2L228.5 1088.8L231 1092.7ZM240.9 1102.2L241.1 1097.1L245.2 1099.3ZM256.6 1113.9L255.3 1108.9L259.8 1109.8ZM275.3 1118.8L275.3 1113.7L279.4 1115.8ZM292.6 1125.1L295.7 1120.9L297.8 1125ZM309.8 1124L314.8 1122.8L313.8 1127.3ZM334.3 1107L339.2 1108.6L336 1111.8ZM356.7 1103.3L360 1107.2L355.6 1108.3ZM372.9 1097.4L375.4 1101.9L370.8 1102.1ZM389.4 1091.1L391.7 1095.6L387.1 1095.7ZM400.4 1079.1L406.1 1079.7L403.8 1083.7ZM429.4 882L433 885.7L428.6 887.1ZM422 872.6L417.2 874.4L417.6 869.9ZM404.4 862.6L399.7 860.4L403.4 857.6ZM389.9 852.3L386.6 848.4L391.1 847.3ZM367.3 842.3L371.4 839.3L372.2 843.8ZM342.7 838L347.6 835L348.2 839.6ZM205.8 904.3L210.4 901.9L210.5 906.5ZM198.1 917.2L203.3 916.7L201.6 921ZM195.8 933.9L196.8 938.9L192.4 937.7ZM194.1 956.7L189.2 958.3L189.8 953.8ZM190.3 974.7L185.8 972.2L189.6 969.6ZM190.9 996.5L187.9 992.3L192.5 991.6ZM194.8 1012.1L191.1 1008.6L195.4 1007ZM203.6 1028.3L198.5 1027.9L200.9 1023.9ZM213.6 1044.1L211.2 1048.7L208.6 1044.9ZM219.7 1057.2L222.5 1061.5L217.9 1062ZM230.5 1073.1L235.6 1072.4L234.2 1076.7ZM247.1 1084.8L250.4 1080.8L252.2 1085.1ZM263.2 1095L264.7 1090.1L268 1093.2ZM281 1102.3L282.6 1097.4L285.9 1100.6ZM297.6 1106.4L300.8 1102.4L302.7 1106.6ZM317.4 1109.8L322.4 1108.7L321.4 1113.1ZM343.7 1090L348 1092.9L344 1095.2ZM362.5 1085.5L365.5 1089.7L360.9 1090.4ZM380.2 1076.7L381.9 1081.6L377.3 1081ZM439.9 928.7L442.6 934.1L438 934.4ZM425.1 894.7L428.1 899.9L423.6 900.5ZM416.5 895L411.4 893.9L414.3 890.3ZM405.6 883.5L401.1 880.8L405 878.3ZM389.4 871.1L386.2 867L390.7 866.1ZM371.2 862.9L368.4 858.5L373 858ZM355.4 859.8L351.4 856.6L355.6 854.7ZM335.1 854.3L339.7 852.1L339.7 856.7ZM306.7 858L311.1 854L312.6 858.3ZM216.2 906.2L221.4 903.9L221.4 908.5ZM214.9 921.2L219.3 923.9L215.4 926.3ZM214.2 937.9L212.8 942.8L209.4 939.7ZM211.3 959L206.2 959.4L207.9 955.1ZM206.3 978.6L202.4 975.3L206.6 973.5ZM209.6 998.3L206.6 994.1L211.2 993.4ZM215.2 1015.7L210.9 1012.8L214.9 1010.5ZM222 1030.5L216.9 1031.5L218.2 1027ZM232.2 1041.7L229.8 1046.2L227.1 1042.5ZM241 1055.6L244.2 1059.7L239.7 1060.6ZM256.5 1068.7L261.6 1068.9L259.4 1072.9ZM271.1 1080.9L275.5 1078.1L275.9 1082.7ZM285.8 1086.7L290 1083.7L290.7 1088.3ZM304.3 1089L309.2 1087.4L308.5 1091.9ZM322.2 1091.4L327.4 1091.7L325.1 1095.7ZM330.9 1073.5L334.2 1077.4L329.8 1078.5ZM350.7 1068.3L351.5 1073.4L347.1 1072ZM370.6 1063.3L369.6 1068.3L365.9 1065.5ZM420.9 977.8L426.6 977.7L424.8 982ZM427.1 965.2L424.8 960.7L429.4 960.6ZM426.5 946.7L423.3 942.6L427.8 941.7ZM418.7 930.5L415.9 926.2L420.4 925.6ZM407.9 912L405.5 907.5L410.1 907.4ZM394 899.5L392.9 894.5L397.4 895.7ZM382.2 887.9L381.3 882.8L385.7 884.1ZM365 878.6L363.6 873.7L368.1 874.5ZM347.2 875.6L343.7 871.8L348.1 870.5ZM330.5 870.1L325.4 870.7L327 866.4ZM302 875L305.4 870.3L307.7 874.3ZM284.7 880.7L288.4 875.9L290.6 879.9ZM241.3 903.5L246.9 902.7L245.7 907.1ZM239.5 919.5L241.3 924.3L236.7 923.9ZM233.3 935.9L230.4 940.1L228.2 936.2ZM227.2 958.6L222.2 957.5L225.1 953.9ZM225.9 975.8L222.9 971.7L227.4 970.9ZM225.2 993.2L223.1 988.5L227.7 988.7ZM230.8 1013.1L227.2 1009.4L231.6 1008ZM240 1027.9L234.9 1027.8L237 1023.8ZM253.4 1040.9L250.5 1045.1L248.2 1041.1ZM263.6 1050L264.4 1055.1L260 1053.6ZM279.9 1061.1L283.7 1064.6L279.4 1066.2ZM293.5 1069.3L298.2 1071.3L294.6 1074.3ZM311.7 1071.3L315.9 1074.3L311.8 1076.4ZM341.1 1056.7L338.6 1061.2L336 1057.4ZM360.6 1050.9L356 1053.3L355.9 1048.8ZM366.8 1039.8L372.5 1040.1L370.4 1044.2ZM396.9 1001L402.2 999L401.9 1003.6ZM408.3 982.9L410.2 978.1L413.3 981.5ZM410.7 966L412.8 961.3L415.7 964.8ZM405.9 948.8L408.6 944.4L411 948.3ZM399.2 930.3L401.7 925.8L404.3 929.5ZM387.4 917.1L390.5 913L392.5 917.1ZM371.3 903.6L374.3 899.4L376.5 903.4ZM358.5 895.8L360.3 891L363.4 894.3ZM341.9 890.4L340.7 885.4L345.2 886.4ZM323.5 890.9L319 888.4L322.8 885.8ZM303.4 890.2L306.2 886L308.5 889.9ZM282 898.6L285.1 894.5L287.2 898.6ZM275.2 905.4L273.6 910.3L270.3 907.1ZM260.5 917.4L258.5 922.2L255.5 918.7ZM251.3 937.9L246.2 939L247.4 934.5ZM243.4 956.1L239.2 953.1L243.2 951ZM239.7 974.7L238.4 969.8L242.9 970.7ZM240.9 991.3L240.7 986.1L244.9 988ZM248.4 1008.1L246.9 1003.2L251.4 1004ZM259.1 1026.3L254.4 1024.4L257.9 1021.4ZM274.1 1037.8L269.3 1039.8L269.6 1035.2ZM286.7 1047L284.4 1051.6L281.6 1047.9ZM305.9 1052.1L304.1 1056.9L300.9 1053.6ZM321.7 1056.9L320.6 1061.9L317 1059.1ZM328.1 1041L323.2 1039.5L326.3 1036.1ZM347.7 1040.6L343.1 1038.4L346.7 1035.5ZM361.4 1031.1L359.2 1026.5L363.8 1026.5ZM375.2 1015.3L380.3 1015.3L378.3 1019.4ZM385.8 1005.1L388.5 1000.7L390.9 1004.6ZM389.2 984.4L394 982.6L393.5 987.2ZM393 966.6L398 965.4L396.9 969.9ZM387.6 946.2L392.8 945.9L390.9 950.1ZM379.9 930.6L385.1 930.1L383.5 934.4ZM367.2 918L372.2 916.8L371.1 921.3ZM349 909L353.3 906.1L353.9 910.7ZM333.4 905.5L335.3 900.7L338.4 904.1ZM316.8 908.3L315.6 903.3L320.1 904.3ZM300.7 912.7L296.6 909.5L300.8 907.5ZM283.6 924.1L279.1 921.7L282.8 919.1ZM272.6 936.3L268.9 932.8L273.2 931.2ZM260.6 952.6L258.9 947.8L263.4 948.3ZM258.5 970.5L260.5 965.7L263.5 969.2ZM257.3 988.1L259.6 983.5L262.3 987.2ZM265.8 1005.1L267.1 1000.1L270.6 1003.1ZM277.1 1020.5L275.3 1015.7L279.8 1016.2ZM292.5 1031.8L288.2 1029L292.2 1026.7ZM310.5 1038.2L305.6 1036.7L308.8 1033.4ZM333.2 1022.4L334.8 1017.5L338.1 1020.7ZM349.2 1015.5L352.6 1011.6L354.3 1015.8ZM364.5 1005L369.1 1002.7L369.1 1007.3ZM372.9 984.4L377.9 985.6L375 989.1ZM374.2 967.5L378.4 970.4L374.4 972.6ZM371.4 950.4L375.4 953.7L371.2 955.5ZM361.1 933.2L365.6 935.8L361.7 938.3ZM344.2 923.2L349.3 923.9L346.7 927.7ZM324.6 923.2L329.5 921.5L328.9 926.1ZM308.3 925.2L311.2 920.9L313.4 924.9ZM290.2 936.4L291.9 931.5L295.1 934.9ZM279.5 951.5L282.7 947.5L284.6 951.7ZM275.5 967.1L280 964.6L280.2 969.2ZM274.5 986.6L279 984.1L279.2 988.7ZM282 1001.9L285.7 998.3L287.1 1002.7ZM295.8 1016.2L297.4 1011.3L300.7 1014.5ZM313.7 1022.6L314.5 1017.5L318.2 1020.1ZM340.6 1001L345.8 1001.1L343.6 1005.2ZM352.4 986.7L356.6 989.7L352.6 991.9ZM357.8 968.8L360.5 973.2L355.9 973.6ZM352.8 950L355.3 954.5L350.7 954.8ZM337.6 938.4L341.5 941.9L337.2 943.6ZM320.4 938.8L325.2 940.6L321.8 943.7ZM300.3 947.2L305.4 947.1L303.5 951.2ZM293.8 962.2L298.9 963.1L296.2 966.8ZM292.5 983.1L297.6 983.6L295.2 987.5ZM303 995.9L308.2 995.6L306.3 999.8ZM321.9 1004L327 1003.1L325.7 1007.5ZM327.6 986.4L331.6 989.6L327.4 991.5ZM343.4 970.7L345.6 975.3L341 975.2ZM333.5 954.5L335.9 959L331.3 959.1ZM314.1 961.4L317.7 965.1L313.3 966.5ZM311.3 977.2L315.3 980.4L311.1 982.3Z" fill="#000"/><path d="M580.4 1009.9L579.8 991.7M582.8 999.1L579.8 991.7L577.4 999.3M582.9 989.7L577.4 963.4M583 972.5L577.4 963.4L575.9 974M585.3 971.3L571.3 943M580.1 951.4L571.3 943L572.7 955.1M582.8 955.3L574.2 933.9M580.5 940.9L574.2 933.9L574.6 943.3M580.4 936.3L566.4 927.4M573.6 929L566.4 927.4L570.9 933.3M577.1 918.2L557.3 908.8M566.4 909.7L557.3 908.8L563.7 915.3M573 898.7L570 894.3M562.8 1010.6L564 1005.5M565.4 994.6L570.7 973.3M571.6 982.4L570.7 973.3L565.7 980.9M566.1 973.8L568.8 956.8M570.2 964.3L568.8 956.8L565.1 963.5M566.5 958L559.8 939.3M565.2 945.8L559.8 939.3L559.8 947.7M564.1 936.7L559.9 923M563.9 928.4L559.9 923L559.5 929.7M550 995.4L558.6 977M557.8 985.6L558.6 977L552.6 983.1M551.2 977.4L562.4 957.7M560.8 966.9L562.4 957.7L555.3 963.8M547.9 958.8L548.9 953.4M546 940.1L545.5 938.3M515.4 1050.8L514.5 1047.6M523.6 1032.9L521.4 1019.9M524.5 1025.4L521.4 1019.9L520.3 1026.1M526.3 1016.1L529.8 1013.9M531.3 996.7L543.7 989.2M539.4 994.4L543.7 989.2L537.1 990.5M531.5 980.9L542.8 963.5M540.8 972L542.8 963.5L535.8 968.8M532.6 959.8L534.7 955.5M165.4 846.2L151.7 850.5M157.1 846.4L151.7 850.5L158.4 850.8M372.9 1154.6L349.2 1146.9M359.3 1146.6L349.2 1146.9L357.2 1153M388.2 1150.2L363.7 1142.5M374 1142.1L363.7 1142.5L371.9 1148.7M407.7 1142.1L405.2 1141.9M489.6 1070.4L479.9 1061.8M485.7 1064.1L479.9 1061.8L482.9 1067.3M497.6 1054.9L486.5 1042.8M493 1046.2L486.5 1042.8L489.4 1049.6M503.5 1035L495.8 1019.8M501.3 1025L495.8 1019.8L496.7 1027.3M508 1018.6L507.7 1013.4M514.1 999.4L530.5 990.8M525.1 996.7L530.5 990.8L522.6 991.9M513.9 981.1L538 967.5M530.8 975.8L538 967.5L527.2 969.3M513.6 964.3L517.3 960M477.2 859.3L474.5 858.9M467.6 844.9L464.3 844.4M372.1 788.1L366.3 789.2M354.5 784.3L340.4 788.3M345.9 784.4L340.4 788.3L347.2 788.8M336.2 785.4L316.9 795.7M323 789L316.9 795.7L325.9 794.4M282 788.2L281.1 789.7M261.8 795.3L260.7 797.5M213.1 821.6L197.4 826.4M203.3 822L197.4 826.4L204.7 826.8M198.6 833.1L172.2 843.4M180.6 836.1L172.2 843.4L183.3 843.1M187.3 846.8L161.3 858.5M169.3 850.7L161.3 858.5L172.4 857.7M176.5 859.9L155.4 869.7M162.2 863L155.4 869.7L164.9 868.8M200.5 1111.2L203.8 1111.4M343.4 1144.2L342.1 1143.8M361.9 1140L349.8 1136M356 1135.8L349.8 1136L354.7 1139.8M378 1134.5L351.6 1127.2M362.4 1126.4L351.6 1127.2L360.5 1133.5M394.7 1128.4L366.7 1125.7M377.4 1123L366.7 1125.7L376.7 1130.5M413.7 1120.2L392.7 1119.8M401.1 1117L392.7 1119.8L401 1123M428.4 1109.3L422.4 1107.5M442.3 1097.4L437.8 1094.1M454.4 1084.4L450.8 1081.2M467.4 1069.7L456.7 1057.7M463.1 1061.1L456.7 1057.7L459.4 1064.4M475.1 1054.9L462.2 1042.2M469.4 1045.5L462.2 1042.2L465.6 1049.3M484.7 1040.1L473.3 1026.8M480 1030.6L473.3 1026.8L476 1034M489.4 1021.2L479.7 1007.8M485.8 1012L479.7 1007.8L481.7 1014.9M496.6 1002.5L505.8 990.6M503.7 997.2L505.8 990.6L500 994.3M496.6 983.3L524.7 970.7M516.1 979L524.7 970.7L512.8 971.6M496.4 966.6L512.6 953.8M508 961.2L512.6 953.8L504.4 956.6M496.3 949L497.6 943.6M491.1 928.5L491.4 906.6M494.4 915.2L491.4 906.6L488.2 915.2M488.2 911.6L488.4 889.1M491.5 897.8L488.4 889.1L485.2 897.8M460.3 864.2L443.7 848.5M452.3 852.3L443.7 848.5L447.9 856.9M445.2 849L441.3 845.4M385 811.8L378.7 813.9M366.8 804.4L351.6 806.7M357.8 803.3L351.6 806.7L358.5 808M349.2 802L329.8 808.4M336.6 803.1L329.8 808.4L338.4 808.6M330.6 801.4L305.6 812.3M313.5 804.9L305.6 812.3L316.4 811.6M311.9 802.4L299.9 809.4M304.1 804.4L299.9 809.4L306.4 808.2M291.5 805.7L281.9 813.9M285 808.6L281.9 813.9L287.7 811.8M274.1 810.6L271.5 814.6M225 835.8L197.3 844.1M206.4 837.3L197.3 844.1L208.6 844.7M209 846.1L175 859.7M185.3 850.5L175 859.7L188.8 859.2M198.9 858.8L170.4 873M178.9 864.2L170.4 873L182.6 871.6M185.3 872.6L163.9 886.4M170.2 878.2L163.9 886.4L173.9 884.1M386.1 1116.1L366.9 1114.4M374.9 1112.3L366.9 1114.4L374.4 1117.9M402.9 1108L383.3 1107M391.3 1104.6L383.3 1107L391.1 1110.2M418.8 1096.9L406.1 1090M412.8 1091L406.1 1090L410.6 1095M431.4 1086.6L419.7 1078.7M426.1 1080.3L419.7 1078.7L423.6 1084M445.3 1070.4L436.6 1059.5M442.2 1062.9L436.6 1059.5L438.7 1065.7M454.2 1056.3L446.5 1041.8M451.9 1046.7L446.5 1041.8L447.5 1049.1M465.1 1039L458.3 1026.9M463.3 1031.2L458.3 1026.9L459.4 1033.4M471.7 1024.8L466.6 1009.5M471.1 1015.2L466.6 1009.5L466.4 1016.8M478.3 1004.7L483.3 992.4M483.1 998.8L483.3 992.4L479.1 997.1M481.2 986.2L503.4 974.8M496.5 982.2L503.4 974.8L493.4 976.1M481.6 969.5L492.6 951.2M490.9 959.9L492.6 951.2L485.7 956.8M477.9 948.8L478.7 932.8M480.8 939.7L478.7 932.8L475.9 939.5M474.6 930.2L475.1 909.4M477.9 917.7L475.1 909.4L472 917.6M470.5 913.6L471.2 889.2M474.3 898.6L471.2 889.2L467.6 898.4M461.3 898.7L455.1 870.6M461.1 880.2L455.1 870.6L453.7 881.8M449.5 881.3L437.5 858M445.1 865.1L437.5 858L438.8 868.4M437.9 866.3L429.1 856.4M434.7 859.4L429.1 856.4L431.5 862.3M376.3 825.8L372.2 827.1M357.8 821.6L342 823.8M348.4 820.4L342 823.8L349.1 825.3M339.9 820.1L315.3 825.9M323.8 820.3L315.3 825.9L325.4 827M323.4 819.3L295.7 824.1M305.4 818.6L295.7 824.1L306.7 826M303.2 821.4L291.2 827.6M295.6 822.9L291.2 827.6L297.6 826.8M286.6 822.8L275.2 829.6M279.2 824.7L275.2 829.6L281.5 828.4M269.3 829.3L264 833.2M249.9 837.1L233 841.4M239.3 837.1L233 841.4L240.6 842.1M234.6 849.2L211.6 854.4M219.7 849.2L211.6 854.4L221.2 855.6M222.6 859.6L200.2 864.3M208.2 859.4L200.2 864.3L209.5 865.6M207.3 872.2L185 880M192.5 873.9L185 880L194.6 880.1M197 889.8L195.6 890.7M408.2 1083.6L404.9 1081.7M421.7 1070L404.4 1060.1M412.7 1061.6L404.4 1060.1L409.9 1066.5M434.1 1056.1L413.9 1046.1M423.2 1047.2L413.9 1046.1L420.3 1052.8M442.8 1042.7L424.3 1033.9M432.9 1034.7L424.3 1033.9L430.4 1040.1M451.2 1026.1L441.3 1016.6M447.3 1019.2L441.3 1016.6L444.2 1022.4M459.1 1006.4L454.7 991.8M458.9 997.4L454.7 991.8L454.4 998.8M461.9 990.9L445.7 973M454.4 977.6L445.7 973L449.5 982.1M462 970.1L458 949.5M462.5 957.1L458 949.5L456.7 958.2M462.9 951.2L462.5 932.6M465.4 940.1L462.5 932.6L459.9 940.3M456.4 934.7L456.1 916.1M459 923.6L456.1 916.1L453.5 923.8M449.9 916L448.5 892.1M452.3 901.1L448.5 892.1L445.7 901.4M441.9 898.6L435.9 871.6M441.7 880.9L435.9 871.6L434.5 882.5M351.9 836.8L347.9 837.3M332.7 835.3L309.7 834.8M318.6 831.8L309.7 834.8L318.5 838.2M314.3 837.1L294.8 839.4M302.3 835.7L294.8 839.4L303 841.3M297.1 840.3L280.6 849M286.1 843L280.6 849L288.6 847.9M280.4 844.4L262.1 852.6M268.2 846.7L262.1 852.6L270.6 852M260.9 852.8L241.2 854M249 850.7L241.2 854L249.3 856.4M247.4 862.3L225.8 865.7M233.8 861.3L225.8 865.7L234.8 867.4M232.4 874.9L204.8 880.9M214.2 875L204.8 880.9L215.8 882.4M217.7 886.9L196.8 889.4M204.7 885.4L196.8 889.4L205.4 891.4M393.1 1070.5L377.3 1061.7M385.1 1063L377.3 1061.7L382.5 1067.6M410.2 1058.7L387 1045.9M397.5 1047.6L387 1045.9L394 1053.8M420.3 1046.9L396.4 1035.9M406.9 1036.8L396.4 1035.9L403.9 1043.3M432.2 1029.2L412.6 1023.1M421.3 1022.8L412.6 1023.1L419.5 1028.4M437.3 1014.2L422.6 1009.3M429.7 1009.1L422.6 1009.3L428.2 1013.7M442.3 996.5L429 987.3M436 989.2L429 987.3L433.2 993.2M446.1 979.3L432.1 962.6M439.9 967.2L432.1 962.6L435.2 971.1M446.4 958.5L442.2 941.6M446.5 948L442.2 941.6L441.4 949.2M440.8 940.5L440.3 934.3M434.4 924.5L433.2 907.4M436.2 914.3L433.2 907.4L431.1 914.7M426.7 906.7L425.8 900.2M317 854.4L311.8 856.2M301.3 856.1L287.2 863.8M292 858.4L287.2 863.8L294.3 862.7M283.7 862L267.1 866.1M273.4 861.9L267.1 866.1L274.7 866.8M265.9 867.8L237.8 869.8M247.9 865.3L237.8 869.8L248.5 872.8M250.4 878.3L224.2 880.3M233.8 876L224.2 880.3L234.3 883.1M236.1 892.4L217.8 892.8M225.2 889.9L217.8 892.8L225.3 895.3M225.1 906.2L221.4 906.2M385.4 1057.4L371 1049.4M378.3 1050.6L371 1049.4L375.8 1055M399.1 1046.6L376.6 1034.7M386.7 1036.2L376.6 1034.7L383.5 1042.3M409.1 1032.6L386.6 1024.3M396.4 1024.4L386.6 1024.3L394.1 1030.6M419.5 1014.1L401.9 1012M409.4 1010.3L401.9 1012L408.8 1015.5M424 997.7L407.4 995.6M414.7 994L407.4 995.6L414.1 999M429.3 981.4L425.7 979.8M310.5 870L306.6 872.3M294.7 875L289.5 877.9M275.1 882.9L259.9 886.6M265.9 882.7L259.9 886.6L267 887.4M260.2 892.7L245.8 891.4M252.3 889.7L245.8 891.4L251.9 894.2M249.8 905.9L246.3 904.9M374.8 1043.8L371.4 1042.1M388.6 1032.6L368.1 1022.9M377.4 1023.8L368.1 1022.9L374.7 1029.5M400.1 1016.4L382.8 1011.1M390.7 1010.7L382.8 1011.1L389.1 1015.8M405.5 1001.4L402.1 1001.3" fill="none" stroke="#000" stroke-width="1.45" stroke-linejoin="miter"/><circle cx="326.4" cy="972.5" r="274.3" fill="none" stroke="#000" stroke-width="2.9"/><g font-size="21.7" fill="#111"><text x="326.4" y="693.5" text-anchor="middle">60W</text><text x="182.4" y="731.5" text-anchor="end">30W</text><text x="469.1" y="731.5" text-anchor="start">90W</text><text x="78.9" y="836.5" text-anchor="end">0</text><text x="571.4" y="836.5" text-anchor="start">120W</text><text x="40.9" y="980" text-anchor="end">30E</text><text x="610.9" y="980" text-anchor="start">150W</text><text x="78.9" y="1122.5" text-anchor="end">60E</text><text x="571.4" y="1122.5" text-anchor="start">180</text><text x="183.9" y="1227.5" text-anchor="end">90E</text><text x="468.9" y="1227.5" text-anchor="start">150E</text><text x="325.9" y="1265.5" text-anchor="middle">120E</text></g><g><rect x="610" y="1000" width="44" height="34.1" fill="#fff" stroke="#222" stroke-width="1.1"/><text x="632" y="1014.4" font-size="17.3" text-anchor="middle" fill="#111">1.5</text><path d="M610 1024L653 1024" stroke="#000" stroke-width="1.3" fill="none"/><path d="M642.5 1020L653.5 1024L642.5 1028" stroke="#000" stroke-width="1.5" fill="none" stroke-linejoin="miter"/></g></g>
<g><path d="M692.5 754.8L702 712L711.5 754.8Z" fill="#d8152f"/><rect x="692.5" y="754.8" width="19" height="43.8" fill="#f72735"/><rect x="692.5" y="798.6" width="19" height="43.8" fill="#ff7856"/><rect x="692.5" y="842.3" width="19" height="43.8" fill="#ffd699"/><rect x="692.5" y="886.1" width="19" height="43.8" fill="#fff1bc"/><rect x="692.5" y="929.8" width="19" height="43.8" fill="#ffffff"/><rect x="692.5" y="973.6" width="19" height="43.8" fill="#ffffff"/><rect x="692.5" y="1017.4" width="19" height="43.8" fill="#bcf9ff"/><rect x="692.5" y="1061.1" width="19" height="43.8" fill="#99eaff"/><rect x="692.5" y="1104.9" width="19" height="43.8" fill="#56b0ff"/><rect x="692.5" y="1148.6" width="19" height="43.8" fill="#2857ff"/><path d="M692.5 1192.4L702 1233L711.5 1192.4Z" fill="#181cf7"/><path d="M692.5 754.8L711.5 754.8" stroke="#e8e8e8" stroke-width="1"/><path d="M692.5 798.6L711.5 798.6" stroke="#e8e8e8" stroke-width="1"/><path d="M692.5 842.3L711.5 842.3" stroke="#e8e8e8" stroke-width="1"/><path d="M692.5 886.1L711.5 886.1" stroke="#e8e8e8" stroke-width="1"/><path d="M692.5 929.8L711.5 929.8" stroke="#e8e8e8" stroke-width="1"/><path d="M692.5 973.6L711.5 973.6" stroke="#e8e8e8" stroke-width="1"/><path d="M692.5 1017.4L711.5 1017.4" stroke="#e8e8e8" stroke-width="1"/><path d="M692.5 1061.1L711.5 1061.1" stroke="#e8e8e8" stroke-width="1"/><path d="M692.5 1104.9L711.5 1104.9" stroke="#e8e8e8" stroke-width="1"/><path d="M692.5 1148.6L711.5 1148.6" stroke="#e8e8e8" stroke-width="1"/><path d="M692.5 1192.4L711.5 1192.4" stroke="#e8e8e8" stroke-width="1"/><path d="M692.5 929.8L692.5 1017.4M711.5 929.8L711.5 1017.4" stroke="#eeeeee" stroke-width="1" fill="none"/><g font-size="16.6" text-anchor="middle" fill="#111"><text x="730" y="760.8">25</text><text x="730" y="804.6">20</text><text x="730" y="848.3">15</text><text x="730" y="892.1">10</text><text x="730" y="935.8">5</text><text x="730" y="979.6">0</text><text x="730" y="1023.4">-5</text><text x="730" y="1067.1">-10</text><text x="730" y="1110.9">-15</text><text x="730" y="1154.6">-20</text><text x="730" y="1198.4">-25</text></g></g>
</svg>
</body></html>
